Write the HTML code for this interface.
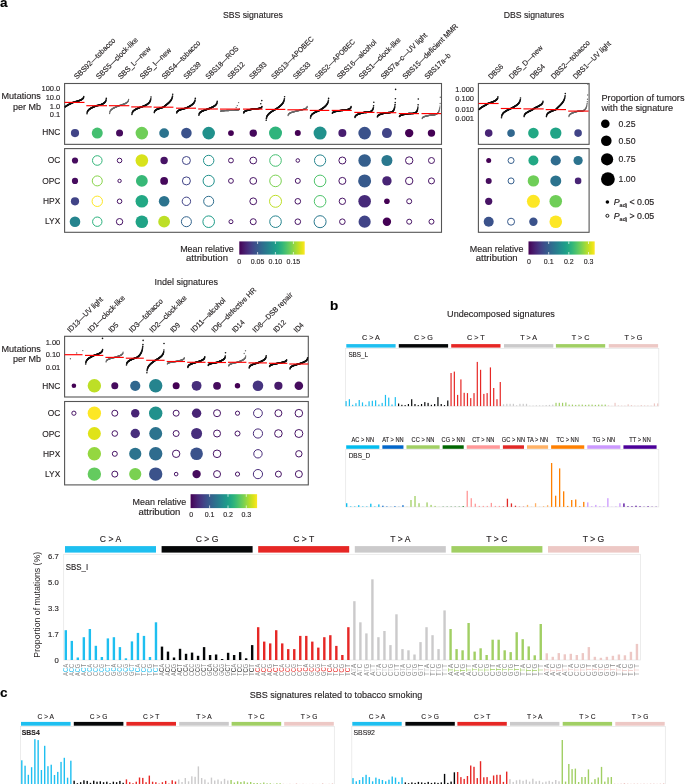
<!DOCTYPE html><html><head><meta charset="utf-8"><style>html,body{margin:0;padding:0;background:#fff;}svg{display:block;will-change:transform;font-family:"Liberation Sans",sans-serif;}</style></head><body><svg width="685" height="784" viewBox="0 0 685 784">
<rect width="685" height="784" fill="#fff"/>
<defs><linearGradient id="vg" x1="0" x2="1" y1="0" y2="0"><stop offset="0.00" stop-color="#440154"/><stop offset="0.05" stop-color="#471365"/><stop offset="0.10" stop-color="#482475"/><stop offset="0.15" stop-color="#463480"/><stop offset="0.20" stop-color="#414487"/><stop offset="0.25" stop-color="#3b528b"/><stop offset="0.30" stop-color="#355f8d"/><stop offset="0.35" stop-color="#2f6c8e"/><stop offset="0.40" stop-color="#2a788e"/><stop offset="0.45" stop-color="#25848e"/><stop offset="0.50" stop-color="#21918c"/><stop offset="0.55" stop-color="#1e9c89"/><stop offset="0.60" stop-color="#22a884"/><stop offset="0.65" stop-color="#2fb47c"/><stop offset="0.70" stop-color="#44bf70"/><stop offset="0.75" stop-color="#5ec962"/><stop offset="0.80" stop-color="#7ad151"/><stop offset="0.85" stop-color="#9bd93c"/><stop offset="0.90" stop-color="#bddf26"/><stop offset="0.95" stop-color="#dfe318"/><stop offset="1.00" stop-color="#fde725"/></linearGradient></defs>
<text x="0" y="6.8" font-size="13.5" text-anchor="start" fill="#000" stroke="#000" stroke-width="0.13" font-weight="bold" >a</text>
<text x="330" y="309.7" font-size="13.5" text-anchor="start" fill="#000" stroke="#000" stroke-width="0.13" font-weight="bold" >b</text>
<text x="0" y="696.9" font-size="13.5" text-anchor="start" fill="#000" stroke="#000" stroke-width="0.13" font-weight="bold" >c</text>
<text x="222.9" y="18.0" font-size="8.6" text-anchor="start" fill="#231f20" stroke="#231f20" stroke-width="0.13" textLength="60" lengthAdjust="spacingAndGlyphs" >SBS signatures</text>
<text x="503.7" y="18.0" font-size="8.6" text-anchor="start" fill="#231f20" stroke="#231f20" stroke-width="0.13" textLength="60.4" lengthAdjust="spacingAndGlyphs" >DBS signatures</text>
<text x="154.6" y="284.6" font-size="8.6" text-anchor="start" fill="#231f20" stroke="#231f20" stroke-width="0.13" textLength="63.5" lengthAdjust="spacingAndGlyphs" >Indel signatures</text>
<text x="447.1" y="317.1" font-size="8.6" text-anchor="start" fill="#231f20" stroke="#231f20" stroke-width="0.13" textLength="107.7" lengthAdjust="spacingAndGlyphs" >Undecomposed signatures</text>
<text x="249.7" y="697.5" font-size="8.6" text-anchor="start" fill="#231f20" stroke="#231f20" stroke-width="0.13" textLength="172.5" lengthAdjust="spacingAndGlyphs" >SBS signatures related to tobacco smoking</text>
<text transform="translate(77.1,79.6) rotate(-45)" font-size="7.5" fill="#231f20" stroke="#231f20" stroke-width="0.15" text-anchor="start" textLength="54.78" lengthAdjust="spacingAndGlyphs">SBS92—tobacco</text>
<text transform="translate(99.0,79.6) rotate(-45)" font-size="7.5" fill="#231f20" stroke="#231f20" stroke-width="0.15" text-anchor="start" textLength="55.6" lengthAdjust="spacingAndGlyphs">SBS5—clock-like</text>
<text transform="translate(120.9,79.6) rotate(-45)" font-size="7.5" fill="#231f20" stroke="#231f20" stroke-width="0.15" text-anchor="start" textLength="42.69" lengthAdjust="spacingAndGlyphs">SBS_L—new</text>
<text transform="translate(142.8,79.6) rotate(-45)" font-size="7.5" fill="#231f20" stroke="#231f20" stroke-width="0.15" text-anchor="start" textLength="40.81" lengthAdjust="spacingAndGlyphs">SBS_I—new</text>
<text transform="translate(164.7,79.6) rotate(-45)" font-size="7.5" fill="#231f20" stroke="#231f20" stroke-width="0.15" text-anchor="start" textLength="51.03" lengthAdjust="spacingAndGlyphs">SBS4—tobacco</text>
<text transform="translate(186.6,79.6) rotate(-45)" font-size="7.5" fill="#231f20" stroke="#231f20" stroke-width="0.15" text-anchor="start" textLength="21.02" lengthAdjust="spacingAndGlyphs">SBS39</text>
<text transform="translate(208.5,79.6) rotate(-45)" font-size="7.5" fill="#231f20" stroke="#231f20" stroke-width="0.15" text-anchor="start" textLength="43.14" lengthAdjust="spacingAndGlyphs">SBS18—ROS</text>
<text transform="translate(230.4,79.6) rotate(-45)" font-size="7.5" fill="#231f20" stroke="#231f20" stroke-width="0.15" text-anchor="start" textLength="21.02" lengthAdjust="spacingAndGlyphs">SBS12</text>
<text transform="translate(252.3,79.6) rotate(-45)" font-size="7.5" fill="#231f20" stroke="#231f20" stroke-width="0.15" text-anchor="start" textLength="21.02" lengthAdjust="spacingAndGlyphs">SBS93</text>
<text transform="translate(274.2,79.6) rotate(-45)" font-size="7.5" fill="#231f20" stroke="#231f20" stroke-width="0.15" text-anchor="start" textLength="56.65" lengthAdjust="spacingAndGlyphs">SBS13—APOBEC</text>
<text transform="translate(296.1,79.6) rotate(-45)" font-size="7.5" fill="#231f20" stroke="#231f20" stroke-width="0.15" text-anchor="start" textLength="21.02" lengthAdjust="spacingAndGlyphs">SBS33</text>
<text transform="translate(318.0,79.6) rotate(-45)" font-size="7.5" fill="#231f20" stroke="#231f20" stroke-width="0.15" text-anchor="start" textLength="52.9" lengthAdjust="spacingAndGlyphs">SBS2—APOBEC</text>
<text transform="translate(339.9,79.6) rotate(-45)" font-size="7.5" fill="#231f20" stroke="#231f20" stroke-width="0.15" text-anchor="start" textLength="52.28" lengthAdjust="spacingAndGlyphs">SBS16—alcohol</text>
<text transform="translate(361.8,79.6) rotate(-45)" font-size="7.5" fill="#231f20" stroke="#231f20" stroke-width="0.15" text-anchor="start" textLength="55.6" lengthAdjust="spacingAndGlyphs">SBS1—clock-like</text>
<text transform="translate(383.7,79.6) rotate(-45)" font-size="7.5" fill="#231f20" stroke="#231f20" stroke-width="0.15" text-anchor="start" textLength="62.07" lengthAdjust="spacingAndGlyphs">SBS7a–c—UV light</text>
<text transform="translate(405.6,79.6) rotate(-45)" font-size="7.5" fill="#231f20" stroke="#231f20" stroke-width="0.15" text-anchor="start" textLength="74.66" lengthAdjust="spacingAndGlyphs">SBS15—deficient MMR</text>
<text transform="translate(427.5,79.6) rotate(-45)" font-size="7.5" fill="#231f20" stroke="#231f20" stroke-width="0.15" text-anchor="start" textLength="33.53" lengthAdjust="spacingAndGlyphs">SBS17a–b</text>
<rect x="64.6" y="83.5" width="376.9" height="60.849999999999994" fill="none" stroke="#555" stroke-width="1.1"/>
<rect x="64.6" y="148.6" width="376.9" height="83.70000000000002" fill="none" stroke="#555" stroke-width="1.1"/>
<text x="60.3" y="91.3" font-size="7.5" text-anchor="end" fill="#231f20" stroke="#231f20" stroke-width="0.13" >100.0</text>
<text x="60.3" y="100.0" font-size="7.5" text-anchor="end" fill="#231f20" stroke="#231f20" stroke-width="0.13" >10.0</text>
<text x="60.3" y="109.19999999999999" font-size="7.5" text-anchor="end" fill="#231f20" stroke="#231f20" stroke-width="0.13" >1.0</text>
<text x="60.3" y="117.3" font-size="7.5" text-anchor="end" fill="#231f20" stroke="#231f20" stroke-width="0.13" >0.1</text>
<text x="40.9" y="99.4" font-size="8.4" text-anchor="end" fill="#231f20" stroke="#231f20" stroke-width="0.13" textLength="39.4" lengthAdjust="spacingAndGlyphs" >Mutations</text>
<text x="40.9" y="109.6" font-size="8.4" text-anchor="end" fill="#231f20" stroke="#231f20" stroke-width="0.13" textLength="28" lengthAdjust="spacingAndGlyphs" >per Mb</text>
<text x="60.3" y="135.2" font-size="8.4" text-anchor="end" fill="#231f20" stroke="#231f20" stroke-width="0.13" >HNC</text>
<text x="60.3" y="163.2" font-size="8.4" text-anchor="end" fill="#231f20" stroke="#231f20" stroke-width="0.13" >OC</text>
<text x="60.3" y="183.6" font-size="8.4" text-anchor="end" fill="#231f20" stroke="#231f20" stroke-width="0.13" >OPC</text>
<text x="60.3" y="204.0" font-size="8.4" text-anchor="end" fill="#231f20" stroke="#231f20" stroke-width="0.13" >HPX</text>
<text x="60.3" y="224.4" font-size="8.4" text-anchor="end" fill="#231f20" stroke="#231f20" stroke-width="0.13" >LYX</text>
<g fill="#111"><circle cx="65.21" cy="106.91" r="0.8"/><circle cx="65.42" cy="106.73" r="0.8"/><circle cx="65.63" cy="106.55" r="0.8"/><circle cx="65.85" cy="106.38" r="0.8"/><circle cx="66.06" cy="106.22" r="0.8"/><circle cx="66.27" cy="106.06" r="0.8"/><circle cx="66.49" cy="105.92" r="0.8"/><circle cx="66.70" cy="105.77" r="0.8"/><circle cx="66.92" cy="105.63" r="0.8"/><circle cx="67.13" cy="105.49" r="0.8"/><circle cx="67.34" cy="105.36" r="0.8"/><circle cx="67.56" cy="105.23" r="0.8"/><circle cx="67.77" cy="105.11" r="0.8"/><circle cx="67.98" cy="104.98" r="0.8"/><circle cx="68.20" cy="104.86" r="0.8"/><circle cx="68.41" cy="104.74" r="0.8"/><circle cx="68.62" cy="104.63" r="0.8"/><circle cx="68.84" cy="104.51" r="0.8"/><circle cx="69.05" cy="104.40" r="0.8"/><circle cx="69.27" cy="104.29" r="0.8"/><circle cx="69.48" cy="104.18" r="0.8"/><circle cx="69.69" cy="104.07" r="0.8"/><circle cx="69.91" cy="103.96" r="0.8"/><circle cx="70.12" cy="103.86" r="0.8"/><circle cx="70.33" cy="103.75" r="0.8"/><circle cx="70.55" cy="103.65" r="0.8"/><circle cx="70.76" cy="103.55" r="0.8"/><circle cx="70.97" cy="103.44" r="0.8"/><circle cx="71.19" cy="103.34" r="0.8"/><circle cx="71.40" cy="103.24" r="0.8"/><circle cx="71.62" cy="103.14" r="0.8"/><circle cx="71.83" cy="103.04" r="0.8"/><circle cx="72.04" cy="102.94" r="0.8"/><circle cx="72.26" cy="102.84" r="0.8"/><circle cx="72.47" cy="102.74" r="0.8"/><circle cx="72.68" cy="102.65" r="0.8"/><circle cx="72.90" cy="102.55" r="0.8"/><circle cx="73.11" cy="102.45" r="0.8"/><circle cx="73.32" cy="102.37" r="0.8"/><circle cx="73.54" cy="102.31" r="0.8"/><circle cx="73.75" cy="102.26" r="0.8"/><circle cx="73.97" cy="102.20" r="0.8"/><circle cx="74.18" cy="102.14" r="0.8"/><circle cx="74.39" cy="102.08" r="0.8"/><circle cx="74.61" cy="102.03" r="0.8"/><circle cx="74.82" cy="101.97" r="0.8"/><circle cx="75.03" cy="101.91" r="0.8"/><circle cx="75.25" cy="101.85" r="0.8"/><circle cx="75.46" cy="101.79" r="0.8"/><circle cx="75.67" cy="101.73" r="0.8"/><circle cx="75.89" cy="101.67" r="0.8"/><circle cx="76.10" cy="101.61" r="0.8"/><circle cx="76.32" cy="101.55" r="0.8"/><circle cx="76.53" cy="101.49" r="0.8"/><circle cx="76.74" cy="101.42" r="0.8"/><circle cx="76.96" cy="101.36" r="0.8"/><circle cx="77.17" cy="101.30" r="0.8"/><circle cx="77.38" cy="101.23" r="0.8"/><circle cx="77.60" cy="101.17" r="0.8"/><circle cx="77.81" cy="101.10" r="0.8"/><circle cx="78.02" cy="101.03" r="0.8"/><circle cx="78.24" cy="100.96" r="0.8"/><circle cx="78.45" cy="100.89" r="0.8"/><circle cx="78.67" cy="100.82" r="0.8"/><circle cx="78.88" cy="100.75" r="0.8"/><circle cx="79.09" cy="100.67" r="0.8"/><circle cx="79.31" cy="100.59" r="0.8"/><circle cx="79.52" cy="100.51" r="0.8"/><circle cx="79.73" cy="100.43" r="0.8"/><circle cx="79.95" cy="100.35" r="0.8"/><circle cx="80.16" cy="100.26" r="0.8"/><circle cx="80.38" cy="100.17" r="0.8"/><circle cx="80.59" cy="100.07" r="0.8"/><circle cx="80.80" cy="99.98" r="0.8"/><circle cx="81.02" cy="99.87" r="0.8"/><circle cx="81.23" cy="99.77" r="0.8"/><circle cx="81.44" cy="99.65" r="0.8"/><circle cx="81.66" cy="99.53" r="0.8"/><circle cx="81.87" cy="99.40" r="0.8"/><circle cx="82.08" cy="99.26" r="0.8"/><circle cx="82.30" cy="99.10" r="0.8"/><circle cx="82.51" cy="98.93" r="0.8"/><circle cx="82.72" cy="98.74" r="0.8"/><circle cx="82.94" cy="98.52" r="0.8"/><circle cx="83.15" cy="98.25" r="0.8"/><circle cx="83.37" cy="97.91" r="0.8"/><circle cx="83.58" cy="97.43" r="0.8"/><circle cx="83.79" cy="96.50" r="0.8"/></g>
<line x1="64.5" y1="102.4" x2="84.5" y2="102.4" stroke="#ff0000" stroke-width="1.15"/>
<g fill="#111"><circle cx="87.00" cy="113.80" r="0.8"/><circle cx="87.19" cy="112.52" r="0.8"/><circle cx="87.39" cy="111.86" r="0.8"/><circle cx="87.58" cy="111.40" r="0.8"/><circle cx="87.78" cy="111.03" r="0.8"/><circle cx="87.97" cy="110.73" r="0.8"/><circle cx="88.17" cy="110.46" r="0.8"/><circle cx="88.36" cy="110.23" r="0.8"/><circle cx="88.56" cy="110.02" r="0.8"/><circle cx="88.75" cy="109.82" r="0.8"/><circle cx="88.95" cy="109.64" r="0.8"/><circle cx="89.14" cy="109.47" r="0.8"/><circle cx="89.34" cy="109.32" r="0.8"/><circle cx="89.53" cy="109.17" r="0.8"/><circle cx="89.73" cy="109.03" r="0.8"/><circle cx="89.92" cy="108.89" r="0.8"/><circle cx="90.12" cy="108.76" r="0.8"/><circle cx="90.31" cy="108.64" r="0.8"/><circle cx="90.51" cy="108.52" r="0.8"/><circle cx="90.70" cy="108.40" r="0.8"/><circle cx="90.90" cy="108.29" r="0.8"/><circle cx="91.09" cy="108.18" r="0.8"/><circle cx="91.29" cy="108.08" r="0.8"/><circle cx="91.48" cy="107.97" r="0.8"/><circle cx="91.68" cy="107.87" r="0.8"/><circle cx="91.87" cy="107.77" r="0.8"/><circle cx="92.07" cy="107.67" r="0.8"/><circle cx="92.26" cy="107.58" r="0.8"/><circle cx="92.46" cy="107.49" r="0.8"/><circle cx="92.65" cy="107.39" r="0.8"/><circle cx="92.85" cy="107.30" r="0.8"/><circle cx="93.04" cy="107.21" r="0.8"/><circle cx="93.24" cy="107.13" r="0.8"/><circle cx="93.43" cy="107.04" r="0.8"/><circle cx="93.63" cy="106.95" r="0.8"/><circle cx="93.82" cy="106.87" r="0.8"/><circle cx="94.02" cy="106.79" r="0.8"/><circle cx="94.21" cy="106.70" r="0.8"/><circle cx="94.41" cy="106.62" r="0.8"/><circle cx="94.60" cy="106.54" r="0.8"/><circle cx="94.80" cy="106.46" r="0.8"/><circle cx="94.99" cy="106.38" r="0.8"/><circle cx="95.19" cy="106.29" r="0.8"/><circle cx="95.38" cy="106.21" r="0.8"/><circle cx="95.58" cy="106.13" r="0.8"/><circle cx="95.77" cy="106.06" r="0.8"/><circle cx="95.97" cy="105.98" r="0.8"/><circle cx="96.16" cy="105.90" r="0.8"/><circle cx="96.36" cy="105.82" r="0.8"/><circle cx="96.55" cy="105.74" r="0.8"/><circle cx="96.75" cy="105.69" r="0.8"/><circle cx="96.94" cy="105.67" r="0.8"/><circle cx="97.14" cy="105.64" r="0.8"/><circle cx="97.33" cy="105.61" r="0.8"/><circle cx="97.53" cy="105.57" r="0.8"/><circle cx="97.72" cy="105.54" r="0.8"/><circle cx="97.92" cy="105.50" r="0.8"/><circle cx="98.11" cy="105.46" r="0.8"/><circle cx="98.31" cy="105.41" r="0.8"/><circle cx="98.50" cy="105.37" r="0.8"/><circle cx="98.70" cy="105.32" r="0.8"/><circle cx="98.89" cy="105.27" r="0.8"/><circle cx="99.09" cy="105.22" r="0.8"/><circle cx="99.28" cy="105.16" r="0.8"/><circle cx="99.48" cy="105.11" r="0.8"/><circle cx="99.67" cy="105.05" r="0.8"/><circle cx="99.87" cy="105.00" r="0.8"/><circle cx="100.06" cy="104.94" r="0.8"/><circle cx="100.26" cy="104.87" r="0.8"/><circle cx="100.45" cy="104.81" r="0.8"/><circle cx="100.65" cy="104.74" r="0.8"/><circle cx="100.84" cy="104.68" r="0.8"/><circle cx="101.04" cy="104.61" r="0.8"/><circle cx="101.23" cy="104.53" r="0.8"/><circle cx="101.43" cy="104.46" r="0.8"/><circle cx="101.62" cy="104.38" r="0.8"/><circle cx="101.82" cy="104.30" r="0.8"/><circle cx="102.01" cy="104.22" r="0.8"/><circle cx="102.21" cy="104.13" r="0.8"/><circle cx="102.40" cy="104.04" r="0.8"/><circle cx="102.60" cy="103.95" r="0.8"/><circle cx="102.79" cy="103.85" r="0.8"/><circle cx="102.99" cy="103.75" r="0.8"/><circle cx="103.18" cy="103.64" r="0.8"/><circle cx="103.38" cy="103.52" r="0.8"/><circle cx="103.57" cy="103.40" r="0.8"/><circle cx="103.77" cy="103.28" r="0.8"/><circle cx="103.96" cy="103.14" r="0.8"/><circle cx="104.16" cy="102.99" r="0.8"/><circle cx="104.35" cy="102.84" r="0.8"/><circle cx="104.55" cy="102.67" r="0.8"/><circle cx="104.74" cy="102.48" r="0.8"/><circle cx="104.94" cy="102.27" r="0.8"/><circle cx="105.13" cy="102.04" r="0.8"/><circle cx="105.33" cy="101.77" r="0.8"/><circle cx="105.52" cy="101.46" r="0.8"/><circle cx="105.72" cy="101.08" r="0.8"/><circle cx="105.91" cy="100.58" r="0.8"/><circle cx="106.11" cy="99.86" r="0.8"/><circle cx="106.30" cy="98.40" r="0.8"/></g>
<line x1="86.3" y1="105.7" x2="107" y2="105.7" stroke="#ff0000" stroke-width="1.15"/>
<g fill="#6a6a6a"><circle cx="109.60" cy="113.50" r="0.68"/><circle cx="109.79" cy="112.27" r="0.68"/><circle cx="109.98" cy="111.64" r="0.68"/><circle cx="110.17" cy="111.19" r="0.68"/><circle cx="110.36" cy="110.83" r="0.68"/><circle cx="110.56" cy="110.54" r="0.68"/><circle cx="110.75" cy="110.28" r="0.68"/><circle cx="110.94" cy="110.06" r="0.68"/><circle cx="111.13" cy="109.86" r="0.68"/><circle cx="111.32" cy="109.67" r="0.68"/><circle cx="111.52" cy="109.50" r="0.68"/><circle cx="111.71" cy="109.33" r="0.68"/><circle cx="111.90" cy="109.18" r="0.68"/><circle cx="112.09" cy="109.04" r="0.68"/><circle cx="112.28" cy="108.90" r="0.68"/><circle cx="112.48" cy="108.77" r="0.68"/><circle cx="112.67" cy="108.65" r="0.68"/><circle cx="112.86" cy="108.53" r="0.68"/><circle cx="113.05" cy="108.41" r="0.68"/><circle cx="113.24" cy="108.30" r="0.68"/><circle cx="113.44" cy="108.19" r="0.68"/><circle cx="113.63" cy="108.09" r="0.68"/><circle cx="113.82" cy="107.99" r="0.68"/><circle cx="114.01" cy="107.89" r="0.68"/><circle cx="114.20" cy="107.79" r="0.68"/><circle cx="114.40" cy="107.70" r="0.68"/><circle cx="114.59" cy="107.60" r="0.68"/><circle cx="114.78" cy="107.51" r="0.68"/><circle cx="114.97" cy="107.42" r="0.68"/><circle cx="115.16" cy="107.33" r="0.68"/><circle cx="115.36" cy="107.24" r="0.68"/><circle cx="115.55" cy="107.16" r="0.68"/><circle cx="115.74" cy="107.07" r="0.68"/><circle cx="115.93" cy="106.99" r="0.68"/><circle cx="116.12" cy="106.91" r="0.68"/><circle cx="116.32" cy="106.83" r="0.68"/><circle cx="116.51" cy="106.75" r="0.68"/><circle cx="116.70" cy="106.66" r="0.68"/><circle cx="116.89" cy="106.59" r="0.68"/><circle cx="117.08" cy="106.51" r="0.68"/><circle cx="117.28" cy="106.43" r="0.68"/><circle cx="117.47" cy="106.35" r="0.68"/><circle cx="117.66" cy="106.27" r="0.68"/><circle cx="117.85" cy="106.20" r="0.68"/><circle cx="118.04" cy="106.12" r="0.68"/><circle cx="118.24" cy="106.04" r="0.68"/><circle cx="118.43" cy="105.97" r="0.68"/><circle cx="118.62" cy="105.89" r="0.68"/><circle cx="118.81" cy="105.81" r="0.68"/><circle cx="119.00" cy="105.74" r="0.68"/><circle cx="119.20" cy="105.67" r="0.68"/><circle cx="119.39" cy="105.61" r="0.68"/><circle cx="119.58" cy="105.55" r="0.68"/><circle cx="119.77" cy="105.49" r="0.68"/><circle cx="119.96" cy="105.43" r="0.68"/><circle cx="120.16" cy="105.37" r="0.68"/><circle cx="120.35" cy="105.31" r="0.68"/><circle cx="120.54" cy="105.24" r="0.68"/><circle cx="120.73" cy="105.18" r="0.68"/><circle cx="120.92" cy="105.12" r="0.68"/><circle cx="121.12" cy="105.06" r="0.68"/><circle cx="121.31" cy="105.00" r="0.68"/><circle cx="121.50" cy="104.93" r="0.68"/><circle cx="121.69" cy="104.87" r="0.68"/><circle cx="121.88" cy="104.80" r="0.68"/><circle cx="122.08" cy="104.74" r="0.68"/><circle cx="122.27" cy="104.67" r="0.68"/><circle cx="122.46" cy="104.61" r="0.68"/><circle cx="122.65" cy="104.54" r="0.68"/><circle cx="122.84" cy="104.47" r="0.68"/><circle cx="123.04" cy="104.40" r="0.68"/><circle cx="123.23" cy="104.33" r="0.68"/><circle cx="123.42" cy="104.26" r="0.68"/><circle cx="123.61" cy="104.19" r="0.68"/><circle cx="123.80" cy="104.11" r="0.68"/><circle cx="124.00" cy="104.04" r="0.68"/><circle cx="124.19" cy="103.96" r="0.68"/><circle cx="124.38" cy="103.88" r="0.68"/><circle cx="124.57" cy="103.80" r="0.68"/><circle cx="124.76" cy="103.72" r="0.68"/><circle cx="124.96" cy="103.63" r="0.68"/><circle cx="125.15" cy="103.54" r="0.68"/><circle cx="125.34" cy="103.45" r="0.68"/><circle cx="125.53" cy="103.36" r="0.68"/><circle cx="125.72" cy="103.26" r="0.68"/><circle cx="125.92" cy="103.15" r="0.68"/><circle cx="126.11" cy="103.04" r="0.68"/><circle cx="126.30" cy="102.93" r="0.68"/><circle cx="126.49" cy="102.81" r="0.68"/><circle cx="126.68" cy="102.68" r="0.68"/><circle cx="126.88" cy="102.55" r="0.68"/><circle cx="127.07" cy="102.40" r="0.68"/><circle cx="127.26" cy="102.24" r="0.68"/><circle cx="127.45" cy="102.06" r="0.68"/><circle cx="127.64" cy="101.85" r="0.68"/><circle cx="127.84" cy="101.62" r="0.68"/><circle cx="128.03" cy="101.34" r="0.68"/><circle cx="128.22" cy="100.98" r="0.68"/><circle cx="128.41" cy="100.48" r="0.68"/><circle cx="128.60" cy="99.50" r="0.68"/></g>
<line x1="108.9" y1="105.7" x2="129.3" y2="105.7" stroke="#ff0000" stroke-width="1.15"/>
<g fill="#111"><circle cx="131.90" cy="114.50" r="0.8"/><circle cx="132.09" cy="113.30" r="0.8"/><circle cx="132.28" cy="112.68" r="0.8"/><circle cx="132.48" cy="112.25" r="0.8"/><circle cx="132.67" cy="111.90" r="0.8"/><circle cx="132.86" cy="111.62" r="0.8"/><circle cx="133.05" cy="111.37" r="0.8"/><circle cx="133.25" cy="111.15" r="0.8"/><circle cx="133.44" cy="110.95" r="0.8"/><circle cx="133.63" cy="110.77" r="0.8"/><circle cx="133.83" cy="110.60" r="0.8"/><circle cx="134.02" cy="110.44" r="0.8"/><circle cx="134.21" cy="110.29" r="0.8"/><circle cx="134.41" cy="110.15" r="0.8"/><circle cx="134.60" cy="110.02" r="0.8"/><circle cx="134.79" cy="109.90" r="0.8"/><circle cx="134.98" cy="109.77" r="0.8"/><circle cx="135.18" cy="109.66" r="0.8"/><circle cx="135.37" cy="109.55" r="0.8"/><circle cx="135.56" cy="109.44" r="0.8"/><circle cx="135.76" cy="109.33" r="0.8"/><circle cx="135.95" cy="109.23" r="0.8"/><circle cx="136.14" cy="109.13" r="0.8"/><circle cx="136.34" cy="109.03" r="0.8"/><circle cx="136.53" cy="108.94" r="0.8"/><circle cx="136.72" cy="108.84" r="0.8"/><circle cx="136.91" cy="108.75" r="0.8"/><circle cx="137.11" cy="108.66" r="0.8"/><circle cx="137.30" cy="108.58" r="0.8"/><circle cx="137.49" cy="108.49" r="0.8"/><circle cx="137.69" cy="108.40" r="0.8"/><circle cx="137.88" cy="108.32" r="0.8"/><circle cx="138.07" cy="108.24" r="0.8"/><circle cx="138.27" cy="108.16" r="0.8"/><circle cx="138.46" cy="108.08" r="0.8"/><circle cx="138.65" cy="108.00" r="0.8"/><circle cx="138.84" cy="107.92" r="0.8"/><circle cx="139.04" cy="107.84" r="0.8"/><circle cx="139.23" cy="107.76" r="0.8"/><circle cx="139.42" cy="107.69" r="0.8"/><circle cx="139.62" cy="107.61" r="0.8"/><circle cx="139.81" cy="107.53" r="0.8"/><circle cx="140.00" cy="107.46" r="0.8"/><circle cx="140.20" cy="107.38" r="0.8"/><circle cx="140.39" cy="107.31" r="0.8"/><circle cx="140.58" cy="107.23" r="0.8"/><circle cx="140.77" cy="107.16" r="0.8"/><circle cx="140.97" cy="107.09" r="0.8"/><circle cx="141.16" cy="107.01" r="0.8"/><circle cx="141.35" cy="106.94" r="0.8"/><circle cx="141.55" cy="106.88" r="0.8"/><circle cx="141.74" cy="106.84" r="0.8"/><circle cx="141.93" cy="106.79" r="0.8"/><circle cx="142.13" cy="106.73" r="0.8"/><circle cx="142.32" cy="106.67" r="0.8"/><circle cx="142.51" cy="106.60" r="0.8"/><circle cx="142.70" cy="106.54" r="0.8"/><circle cx="142.90" cy="106.47" r="0.8"/><circle cx="143.09" cy="106.40" r="0.8"/><circle cx="143.28" cy="106.32" r="0.8"/><circle cx="143.48" cy="106.25" r="0.8"/><circle cx="143.67" cy="106.17" r="0.8"/><circle cx="143.86" cy="106.09" r="0.8"/><circle cx="144.06" cy="106.01" r="0.8"/><circle cx="144.25" cy="105.93" r="0.8"/><circle cx="144.44" cy="105.84" r="0.8"/><circle cx="144.63" cy="105.76" r="0.8"/><circle cx="144.83" cy="105.67" r="0.8"/><circle cx="145.02" cy="105.58" r="0.8"/><circle cx="145.21" cy="105.48" r="0.8"/><circle cx="145.41" cy="105.39" r="0.8"/><circle cx="145.60" cy="105.29" r="0.8"/><circle cx="145.79" cy="105.18" r="0.8"/><circle cx="145.99" cy="105.08" r="0.8"/><circle cx="146.18" cy="104.97" r="0.8"/><circle cx="146.37" cy="104.86" r="0.8"/><circle cx="146.56" cy="104.75" r="0.8"/><circle cx="146.76" cy="104.63" r="0.8"/><circle cx="146.95" cy="104.51" r="0.8"/><circle cx="147.14" cy="104.38" r="0.8"/><circle cx="147.34" cy="104.25" r="0.8"/><circle cx="147.53" cy="104.11" r="0.8"/><circle cx="147.72" cy="103.97" r="0.8"/><circle cx="147.92" cy="103.82" r="0.8"/><circle cx="148.11" cy="103.66" r="0.8"/><circle cx="148.30" cy="103.50" r="0.8"/><circle cx="148.49" cy="103.32" r="0.8"/><circle cx="148.69" cy="103.14" r="0.8"/><circle cx="148.88" cy="102.94" r="0.8"/><circle cx="149.07" cy="102.73" r="0.8"/><circle cx="149.27" cy="102.50" r="0.8"/><circle cx="149.46" cy="102.25" r="0.8"/><circle cx="149.65" cy="101.98" r="0.8"/><circle cx="149.85" cy="101.67" r="0.8"/><circle cx="150.04" cy="101.32" r="0.8"/><circle cx="150.23" cy="100.91" r="0.8"/><circle cx="150.42" cy="100.41" r="0.8"/><circle cx="150.62" cy="99.77" r="0.8"/><circle cx="150.81" cy="98.84" r="0.8"/><circle cx="151.00" cy="97.00" r="0.8"/></g>
<line x1="131.2" y1="106.9" x2="151.7" y2="106.9" stroke="#ff0000" stroke-width="1.15"/>
<g fill="#111"><circle cx="154.29" cy="112.60" r="0.8"/><circle cx="154.48" cy="111.75" r="0.8"/><circle cx="154.66" cy="111.31" r="0.8"/><circle cx="154.85" cy="111.00" r="0.8"/><circle cx="155.04" cy="110.75" r="0.8"/><circle cx="155.22" cy="110.55" r="0.8"/><circle cx="155.41" cy="110.37" r="0.8"/><circle cx="155.59" cy="110.22" r="0.8"/><circle cx="155.78" cy="110.08" r="0.8"/><circle cx="155.97" cy="109.95" r="0.8"/><circle cx="156.15" cy="109.83" r="0.8"/><circle cx="156.34" cy="109.72" r="0.8"/><circle cx="156.52" cy="109.61" r="0.8"/><circle cx="156.71" cy="109.51" r="0.8"/><circle cx="156.90" cy="109.42" r="0.8"/><circle cx="157.08" cy="109.33" r="0.8"/><circle cx="157.27" cy="109.24" r="0.8"/><circle cx="157.45" cy="109.16" r="0.8"/><circle cx="157.64" cy="109.08" r="0.8"/><circle cx="157.83" cy="109.00" r="0.8"/><circle cx="158.01" cy="108.93" r="0.8"/><circle cx="158.20" cy="108.85" r="0.8"/><circle cx="158.38" cy="108.78" r="0.8"/><circle cx="158.57" cy="108.71" r="0.8"/><circle cx="158.76" cy="108.65" r="0.8"/><circle cx="158.94" cy="108.58" r="0.8"/><circle cx="159.13" cy="108.52" r="0.8"/><circle cx="159.31" cy="108.45" r="0.8"/><circle cx="159.50" cy="108.39" r="0.8"/><circle cx="159.69" cy="108.33" r="0.8"/><circle cx="159.87" cy="108.27" r="0.8"/><circle cx="160.06" cy="108.21" r="0.8"/><circle cx="160.25" cy="108.15" r="0.8"/><circle cx="160.43" cy="108.09" r="0.8"/><circle cx="160.62" cy="108.04" r="0.8"/><circle cx="160.80" cy="107.98" r="0.8"/><circle cx="160.99" cy="107.92" r="0.8"/><circle cx="161.17" cy="107.87" r="0.8"/><circle cx="161.36" cy="107.81" r="0.8"/><circle cx="161.55" cy="107.76" r="0.8"/><circle cx="161.73" cy="107.70" r="0.8"/><circle cx="161.92" cy="107.65" r="0.8"/><circle cx="162.10" cy="107.60" r="0.8"/><circle cx="162.29" cy="107.54" r="0.8"/><circle cx="162.48" cy="107.49" r="0.8"/><circle cx="162.66" cy="107.44" r="0.8"/><circle cx="162.85" cy="107.38" r="0.8"/><circle cx="163.03" cy="107.33" r="0.8"/><circle cx="163.22" cy="107.28" r="0.8"/><circle cx="163.41" cy="107.23" r="0.8"/><circle cx="163.59" cy="107.09" r="0.8"/><circle cx="163.78" cy="106.91" r="0.8"/><circle cx="163.97" cy="106.74" r="0.8"/><circle cx="164.15" cy="106.58" r="0.8"/><circle cx="164.34" cy="106.43" r="0.8"/><circle cx="164.52" cy="106.27" r="0.8"/><circle cx="164.71" cy="106.12" r="0.8"/><circle cx="164.89" cy="105.97" r="0.8"/><circle cx="165.08" cy="105.82" r="0.8"/><circle cx="165.27" cy="105.67" r="0.8"/><circle cx="165.45" cy="105.53" r="0.8"/><circle cx="165.64" cy="105.38" r="0.8"/><circle cx="165.82" cy="105.23" r="0.8"/><circle cx="166.01" cy="105.09" r="0.8"/><circle cx="166.20" cy="104.94" r="0.8"/><circle cx="166.38" cy="104.79" r="0.8"/><circle cx="166.57" cy="104.65" r="0.8"/><circle cx="166.75" cy="104.50" r="0.8"/><circle cx="166.94" cy="104.35" r="0.8"/><circle cx="167.13" cy="104.20" r="0.8"/><circle cx="167.31" cy="104.04" r="0.8"/><circle cx="167.50" cy="103.89" r="0.8"/><circle cx="167.69" cy="103.74" r="0.8"/><circle cx="167.87" cy="103.58" r="0.8"/><circle cx="168.06" cy="103.42" r="0.8"/><circle cx="168.24" cy="103.26" r="0.8"/><circle cx="168.43" cy="103.09" r="0.8"/><circle cx="168.62" cy="102.92" r="0.8"/><circle cx="168.80" cy="102.75" r="0.8"/><circle cx="168.99" cy="102.58" r="0.8"/><circle cx="169.17" cy="102.40" r="0.8"/><circle cx="169.36" cy="102.21" r="0.8"/><circle cx="169.54" cy="102.02" r="0.8"/><circle cx="169.73" cy="101.82" r="0.8"/><circle cx="169.92" cy="101.62" r="0.8"/><circle cx="170.10" cy="101.41" r="0.8"/><circle cx="170.29" cy="101.19" r="0.8"/><circle cx="170.47" cy="100.96" r="0.8"/><circle cx="170.66" cy="100.71" r="0.8"/><circle cx="170.85" cy="100.45" r="0.8"/><circle cx="171.03" cy="100.18" r="0.8"/><circle cx="171.22" cy="99.88" r="0.8"/><circle cx="171.41" cy="99.56" r="0.8"/><circle cx="171.59" cy="99.20" r="0.8"/><circle cx="171.78" cy="98.80" r="0.8"/><circle cx="171.96" cy="98.35" r="0.8"/><circle cx="172.15" cy="97.80" r="0.8"/><circle cx="172.34" cy="97.11" r="0.8"/><circle cx="172.52" cy="96.14" r="0.8"/><circle cx="172.71" cy="94.30" r="0.8"/></g>
<line x1="153.6" y1="107.2" x2="173.4" y2="107.2" stroke="#ff0000" stroke-width="1.15"/>
<g fill="#111"><circle cx="176.69" cy="113.00" r="0.8"/><circle cx="176.88" cy="112.24" r="0.8"/><circle cx="177.07" cy="111.85" r="0.8"/><circle cx="177.26" cy="111.58" r="0.8"/><circle cx="177.45" cy="111.36" r="0.8"/><circle cx="177.63" cy="111.18" r="0.8"/><circle cx="177.82" cy="111.02" r="0.8"/><circle cx="178.01" cy="110.88" r="0.8"/><circle cx="178.20" cy="110.76" r="0.8"/><circle cx="178.39" cy="110.64" r="0.8"/><circle cx="178.57" cy="110.54" r="0.8"/><circle cx="178.76" cy="110.44" r="0.8"/><circle cx="178.95" cy="110.34" r="0.8"/><circle cx="179.14" cy="110.26" r="0.8"/><circle cx="179.33" cy="110.17" r="0.8"/><circle cx="179.51" cy="110.09" r="0.8"/><circle cx="179.70" cy="110.02" r="0.8"/><circle cx="179.89" cy="109.94" r="0.8"/><circle cx="180.08" cy="109.87" r="0.8"/><circle cx="180.27" cy="109.80" r="0.8"/><circle cx="180.45" cy="109.74" r="0.8"/><circle cx="180.64" cy="109.67" r="0.8"/><circle cx="180.83" cy="109.61" r="0.8"/><circle cx="181.02" cy="109.55" r="0.8"/><circle cx="181.21" cy="109.49" r="0.8"/><circle cx="181.39" cy="109.43" r="0.8"/><circle cx="181.58" cy="109.37" r="0.8"/><circle cx="181.77" cy="109.31" r="0.8"/><circle cx="181.96" cy="109.26" r="0.8"/><circle cx="182.15" cy="109.20" r="0.8"/><circle cx="182.33" cy="109.15" r="0.8"/><circle cx="182.52" cy="109.10" r="0.8"/><circle cx="182.71" cy="109.05" r="0.8"/><circle cx="182.90" cy="108.99" r="0.8"/><circle cx="183.09" cy="108.94" r="0.8"/><circle cx="183.27" cy="108.89" r="0.8"/><circle cx="183.46" cy="108.84" r="0.8"/><circle cx="183.65" cy="108.79" r="0.8"/><circle cx="183.84" cy="108.74" r="0.8"/><circle cx="184.03" cy="108.70" r="0.8"/><circle cx="184.21" cy="108.65" r="0.8"/><circle cx="184.40" cy="108.60" r="0.8"/><circle cx="184.59" cy="108.55" r="0.8"/><circle cx="184.78" cy="108.50" r="0.8"/><circle cx="184.97" cy="108.46" r="0.8"/><circle cx="185.15" cy="108.41" r="0.8"/><circle cx="185.34" cy="108.36" r="0.8"/><circle cx="185.53" cy="108.32" r="0.8"/><circle cx="185.72" cy="108.27" r="0.8"/><circle cx="185.91" cy="108.22" r="0.8"/><circle cx="186.09" cy="108.15" r="0.8"/><circle cx="186.28" cy="108.06" r="0.8"/><circle cx="186.47" cy="107.96" r="0.8"/><circle cx="186.66" cy="107.87" r="0.8"/><circle cx="186.85" cy="107.77" r="0.8"/><circle cx="187.03" cy="107.67" r="0.8"/><circle cx="187.22" cy="107.58" r="0.8"/><circle cx="187.41" cy="107.48" r="0.8"/><circle cx="187.60" cy="107.38" r="0.8"/><circle cx="187.79" cy="107.29" r="0.8"/><circle cx="187.97" cy="107.19" r="0.8"/><circle cx="188.16" cy="107.09" r="0.8"/><circle cx="188.35" cy="106.99" r="0.8"/><circle cx="188.54" cy="106.89" r="0.8"/><circle cx="188.73" cy="106.79" r="0.8"/><circle cx="188.91" cy="106.68" r="0.8"/><circle cx="189.10" cy="106.58" r="0.8"/><circle cx="189.29" cy="106.47" r="0.8"/><circle cx="189.48" cy="106.37" r="0.8"/><circle cx="189.67" cy="106.26" r="0.8"/><circle cx="189.85" cy="106.15" r="0.8"/><circle cx="190.04" cy="106.04" r="0.8"/><circle cx="190.23" cy="105.93" r="0.8"/><circle cx="190.42" cy="105.81" r="0.8"/><circle cx="190.61" cy="105.69" r="0.8"/><circle cx="190.79" cy="105.57" r="0.8"/><circle cx="190.98" cy="105.45" r="0.8"/><circle cx="191.17" cy="105.33" r="0.8"/><circle cx="191.36" cy="105.20" r="0.8"/><circle cx="191.55" cy="105.07" r="0.8"/><circle cx="191.73" cy="104.93" r="0.8"/><circle cx="191.92" cy="104.79" r="0.8"/><circle cx="192.11" cy="104.64" r="0.8"/><circle cx="192.30" cy="104.49" r="0.8"/><circle cx="192.49" cy="104.34" r="0.8"/><circle cx="192.67" cy="104.17" r="0.8"/><circle cx="192.86" cy="104.00" r="0.8"/><circle cx="193.05" cy="103.82" r="0.8"/><circle cx="193.24" cy="103.63" r="0.8"/><circle cx="193.43" cy="103.43" r="0.8"/><circle cx="193.61" cy="103.21" r="0.8"/><circle cx="193.80" cy="102.98" r="0.8"/><circle cx="193.99" cy="102.72" r="0.8"/><circle cx="194.18" cy="102.44" r="0.8"/><circle cx="194.37" cy="102.12" r="0.8"/><circle cx="194.55" cy="101.75" r="0.8"/><circle cx="194.74" cy="101.31" r="0.8"/><circle cx="194.93" cy="100.74" r="0.8"/><circle cx="195.12" cy="99.94" r="0.8"/><circle cx="195.31" cy="98.40" r="0.8"/></g>
<line x1="176" y1="108.2" x2="196" y2="108.2" stroke="#ff0000" stroke-width="1.15"/>
<g fill="#111"><circle cx="198.89" cy="115.20" r="0.8"/><circle cx="199.08" cy="114.22" r="0.8"/><circle cx="199.26" cy="113.72" r="0.8"/><circle cx="199.45" cy="113.36" r="0.8"/><circle cx="199.63" cy="113.08" r="0.8"/><circle cx="199.82" cy="112.85" r="0.8"/><circle cx="200.00" cy="112.64" r="0.8"/><circle cx="200.19" cy="112.46" r="0.8"/><circle cx="200.37" cy="112.30" r="0.8"/><circle cx="200.56" cy="112.15" r="0.8"/><circle cx="200.74" cy="112.02" r="0.8"/><circle cx="200.93" cy="111.89" r="0.8"/><circle cx="201.11" cy="111.77" r="0.8"/><circle cx="201.30" cy="111.66" r="0.8"/><circle cx="201.48" cy="111.55" r="0.8"/><circle cx="201.67" cy="111.44" r="0.8"/><circle cx="201.85" cy="111.34" r="0.8"/><circle cx="202.04" cy="111.25" r="0.8"/><circle cx="202.22" cy="111.16" r="0.8"/><circle cx="202.41" cy="111.07" r="0.8"/><circle cx="202.59" cy="110.98" r="0.8"/><circle cx="202.78" cy="110.90" r="0.8"/><circle cx="202.96" cy="110.82" r="0.8"/><circle cx="203.15" cy="110.74" r="0.8"/><circle cx="203.33" cy="110.66" r="0.8"/><circle cx="203.52" cy="110.59" r="0.8"/><circle cx="203.70" cy="110.51" r="0.8"/><circle cx="203.89" cy="110.44" r="0.8"/><circle cx="204.07" cy="110.37" r="0.8"/><circle cx="204.26" cy="110.30" r="0.8"/><circle cx="204.44" cy="110.23" r="0.8"/><circle cx="204.63" cy="110.16" r="0.8"/><circle cx="204.81" cy="110.09" r="0.8"/><circle cx="205.00" cy="110.03" r="0.8"/><circle cx="205.18" cy="109.96" r="0.8"/><circle cx="205.37" cy="109.90" r="0.8"/><circle cx="205.55" cy="109.83" r="0.8"/><circle cx="205.74" cy="109.77" r="0.8"/><circle cx="205.92" cy="109.70" r="0.8"/><circle cx="206.11" cy="109.64" r="0.8"/><circle cx="206.29" cy="109.58" r="0.8"/><circle cx="206.48" cy="109.52" r="0.8"/><circle cx="206.66" cy="109.46" r="0.8"/><circle cx="206.85" cy="109.39" r="0.8"/><circle cx="207.03" cy="109.33" r="0.8"/><circle cx="207.22" cy="109.27" r="0.8"/><circle cx="207.40" cy="109.21" r="0.8"/><circle cx="207.59" cy="109.15" r="0.8"/><circle cx="207.77" cy="109.09" r="0.8"/><circle cx="207.96" cy="109.03" r="0.8"/><circle cx="208.14" cy="108.96" r="0.8"/><circle cx="208.33" cy="108.89" r="0.8"/><circle cx="208.51" cy="108.81" r="0.8"/><circle cx="208.70" cy="108.74" r="0.8"/><circle cx="208.88" cy="108.67" r="0.8"/><circle cx="209.07" cy="108.59" r="0.8"/><circle cx="209.25" cy="108.52" r="0.8"/><circle cx="209.44" cy="108.44" r="0.8"/><circle cx="209.62" cy="108.37" r="0.8"/><circle cx="209.81" cy="108.29" r="0.8"/><circle cx="209.99" cy="108.21" r="0.8"/><circle cx="210.18" cy="108.14" r="0.8"/><circle cx="210.36" cy="108.06" r="0.8"/><circle cx="210.55" cy="107.98" r="0.8"/><circle cx="210.73" cy="107.90" r="0.8"/><circle cx="210.92" cy="107.82" r="0.8"/><circle cx="211.10" cy="107.74" r="0.8"/><circle cx="211.29" cy="107.66" r="0.8"/><circle cx="211.47" cy="107.58" r="0.8"/><circle cx="211.66" cy="107.50" r="0.8"/><circle cx="211.84" cy="107.41" r="0.8"/><circle cx="212.03" cy="107.32" r="0.8"/><circle cx="212.21" cy="107.24" r="0.8"/><circle cx="212.40" cy="107.15" r="0.8"/><circle cx="212.58" cy="107.06" r="0.8"/><circle cx="212.77" cy="106.96" r="0.8"/><circle cx="212.95" cy="106.87" r="0.8"/><circle cx="213.14" cy="106.77" r="0.8"/><circle cx="213.32" cy="106.67" r="0.8"/><circle cx="213.51" cy="106.57" r="0.8"/><circle cx="213.69" cy="106.46" r="0.8"/><circle cx="213.88" cy="106.35" r="0.8"/><circle cx="214.06" cy="106.24" r="0.8"/><circle cx="214.25" cy="106.13" r="0.8"/><circle cx="214.43" cy="106.00" r="0.8"/><circle cx="214.62" cy="105.88" r="0.8"/><circle cx="214.80" cy="105.75" r="0.8"/><circle cx="214.99" cy="105.61" r="0.8"/><circle cx="215.17" cy="105.46" r="0.8"/><circle cx="215.36" cy="105.30" r="0.8"/><circle cx="215.54" cy="105.13" r="0.8"/><circle cx="215.73" cy="104.95" r="0.8"/><circle cx="215.91" cy="104.75" r="0.8"/><circle cx="216.10" cy="104.53" r="0.8"/><circle cx="216.28" cy="104.28" r="0.8"/><circle cx="216.47" cy="104.00" r="0.8"/><circle cx="216.65" cy="103.65" r="0.8"/><circle cx="216.84" cy="103.22" r="0.8"/><circle cx="217.02" cy="102.60" r="0.8"/><circle cx="217.21" cy="101.40" r="0.8"/></g>
<line x1="198.2" y1="109" x2="217.9" y2="109" stroke="#ff0000" stroke-width="1.15"/>
<g fill="#6a6a6a"><circle cx="220.69" cy="111.20" r="0.68"/><circle cx="220.88" cy="111.07" r="0.68"/><circle cx="221.07" cy="111.01" r="0.68"/><circle cx="221.26" cy="110.96" r="0.68"/><circle cx="221.45" cy="110.93" r="0.68"/><circle cx="221.63" cy="110.90" r="0.68"/><circle cx="221.82" cy="110.87" r="0.68"/><circle cx="222.01" cy="110.85" r="0.68"/><circle cx="222.20" cy="110.83" r="0.68"/><circle cx="222.39" cy="110.81" r="0.68"/><circle cx="222.57" cy="110.79" r="0.68"/><circle cx="222.76" cy="110.77" r="0.68"/><circle cx="222.95" cy="110.76" r="0.68"/><circle cx="223.14" cy="110.74" r="0.68"/><circle cx="223.33" cy="110.73" r="0.68"/><circle cx="223.51" cy="110.72" r="0.68"/><circle cx="223.70" cy="110.70" r="0.68"/><circle cx="223.89" cy="110.69" r="0.68"/><circle cx="224.08" cy="110.68" r="0.68"/><circle cx="224.27" cy="110.67" r="0.68"/><circle cx="224.45" cy="110.66" r="0.68"/><circle cx="224.64" cy="110.65" r="0.68"/><circle cx="224.83" cy="110.63" r="0.68"/><circle cx="225.02" cy="110.62" r="0.68"/><circle cx="225.21" cy="110.61" r="0.68"/><circle cx="225.39" cy="110.60" r="0.68"/><circle cx="225.58" cy="110.60" r="0.68"/><circle cx="225.77" cy="110.59" r="0.68"/><circle cx="225.96" cy="110.58" r="0.68"/><circle cx="226.15" cy="110.57" r="0.68"/><circle cx="226.33" cy="110.56" r="0.68"/><circle cx="226.52" cy="110.55" r="0.68"/><circle cx="226.71" cy="110.54" r="0.68"/><circle cx="226.90" cy="110.53" r="0.68"/><circle cx="227.09" cy="110.52" r="0.68"/><circle cx="227.27" cy="110.52" r="0.68"/><circle cx="227.46" cy="110.51" r="0.68"/><circle cx="227.65" cy="110.50" r="0.68"/><circle cx="227.84" cy="110.49" r="0.68"/><circle cx="228.03" cy="110.48" r="0.68"/><circle cx="228.21" cy="110.47" r="0.68"/><circle cx="228.40" cy="110.47" r="0.68"/><circle cx="228.59" cy="110.46" r="0.68"/><circle cx="228.78" cy="110.45" r="0.68"/><circle cx="228.97" cy="110.44" r="0.68"/><circle cx="229.15" cy="110.44" r="0.68"/><circle cx="229.34" cy="110.43" r="0.68"/><circle cx="229.53" cy="110.42" r="0.68"/><circle cx="229.72" cy="110.41" r="0.68"/><circle cx="229.91" cy="110.40" r="0.68"/><circle cx="230.09" cy="110.40" r="0.68"/><circle cx="230.28" cy="110.40" r="0.68"/><circle cx="230.47" cy="110.40" r="0.68"/><circle cx="230.66" cy="110.40" r="0.68"/><circle cx="230.85" cy="110.40" r="0.68"/><circle cx="231.03" cy="110.40" r="0.68"/><circle cx="231.22" cy="110.39" r="0.68"/><circle cx="231.41" cy="110.39" r="0.68"/><circle cx="231.60" cy="110.39" r="0.68"/><circle cx="231.79" cy="110.39" r="0.68"/><circle cx="231.97" cy="110.39" r="0.68"/><circle cx="232.16" cy="110.38" r="0.68"/><circle cx="232.35" cy="110.38" r="0.68"/><circle cx="232.54" cy="110.37" r="0.68"/><circle cx="232.73" cy="110.37" r="0.68"/><circle cx="232.91" cy="110.37" r="0.68"/><circle cx="233.10" cy="110.36" r="0.68"/><circle cx="233.29" cy="110.36" r="0.68"/><circle cx="233.48" cy="110.35" r="0.68"/><circle cx="233.67" cy="110.35" r="0.68"/><circle cx="233.85" cy="110.34" r="0.68"/><circle cx="234.04" cy="110.33" r="0.68"/><circle cx="234.23" cy="110.32" r="0.68"/><circle cx="234.42" cy="110.32" r="0.68"/><circle cx="234.61" cy="110.31" r="0.68"/><circle cx="234.79" cy="110.30" r="0.68"/><circle cx="234.98" cy="110.29" r="0.68"/><circle cx="235.17" cy="110.28" r="0.68"/><circle cx="235.36" cy="110.27" r="0.68"/><circle cx="235.55" cy="110.26" r="0.68"/><circle cx="235.73" cy="110.24" r="0.68"/><circle cx="235.92" cy="110.23" r="0.68"/><circle cx="236.11" cy="110.22" r="0.68"/><circle cx="236.30" cy="110.20" r="0.68"/><circle cx="236.49" cy="110.18" r="0.68"/><circle cx="236.67" cy="110.16" r="0.68"/><circle cx="236.86" cy="110.14" r="0.68"/><circle cx="237.05" cy="110.12" r="0.68"/><circle cx="237.24" cy="110.10" r="0.68"/><circle cx="237.43" cy="110.07" r="0.68"/><circle cx="237.61" cy="110.04" r="0.68"/><circle cx="237.80" cy="110.00" r="0.68"/><circle cx="237.99" cy="109.96" r="0.68"/><circle cx="238.18" cy="109.92" r="0.68"/><circle cx="238.37" cy="109.86" r="0.68"/><circle cx="238.55" cy="109.79" r="0.68"/><circle cx="238.74" cy="109.71" r="0.68"/><circle cx="238.93" cy="109.59" r="0.68"/><circle cx="239.12" cy="109.41" r="0.68"/><circle cx="239.31" cy="109.00" r="0.68"/><circle cx="236.20" cy="107.50" r="0.68"/><circle cx="237.30" cy="105.60" r="0.68"/><circle cx="238.60" cy="102.60" r="0.68"/></g>
<line x1="220" y1="109.1" x2="240" y2="109.1" stroke="#ff0000" stroke-width="1.15"/>
<g fill="#111"><circle cx="243.69" cy="113.00" r="0.8"/><circle cx="243.88" cy="112.39" r="0.8"/><circle cx="244.06" cy="112.07" r="0.8"/><circle cx="244.24" cy="111.84" r="0.8"/><circle cx="244.43" cy="111.67" r="0.8"/><circle cx="244.61" cy="111.52" r="0.8"/><circle cx="244.80" cy="111.39" r="0.8"/><circle cx="244.98" cy="111.28" r="0.8"/><circle cx="245.16" cy="111.18" r="0.8"/><circle cx="245.35" cy="111.08" r="0.8"/><circle cx="245.53" cy="111.00" r="0.8"/><circle cx="245.72" cy="110.92" r="0.8"/><circle cx="245.90" cy="110.84" r="0.8"/><circle cx="246.08" cy="110.77" r="0.8"/><circle cx="246.27" cy="110.70" r="0.8"/><circle cx="246.45" cy="110.64" r="0.8"/><circle cx="246.64" cy="110.57" r="0.8"/><circle cx="246.82" cy="110.52" r="0.8"/><circle cx="247.00" cy="110.46" r="0.8"/><circle cx="247.19" cy="110.40" r="0.8"/><circle cx="247.37" cy="110.35" r="0.8"/><circle cx="247.56" cy="110.29" r="0.8"/><circle cx="247.74" cy="110.24" r="0.8"/><circle cx="247.92" cy="110.19" r="0.8"/><circle cx="248.11" cy="110.15" r="0.8"/><circle cx="248.29" cy="110.10" r="0.8"/><circle cx="248.48" cy="110.05" r="0.8"/><circle cx="248.66" cy="110.01" r="0.8"/><circle cx="248.84" cy="109.96" r="0.8"/><circle cx="249.03" cy="109.92" r="0.8"/><circle cx="249.21" cy="109.87" r="0.8"/><circle cx="249.40" cy="109.83" r="0.8"/><circle cx="249.58" cy="109.79" r="0.8"/><circle cx="249.76" cy="109.75" r="0.8"/><circle cx="249.95" cy="109.70" r="0.8"/><circle cx="250.13" cy="109.66" r="0.8"/><circle cx="250.32" cy="109.62" r="0.8"/><circle cx="250.50" cy="109.58" r="0.8"/><circle cx="250.68" cy="109.54" r="0.8"/><circle cx="250.87" cy="109.50" r="0.8"/><circle cx="251.05" cy="109.46" r="0.8"/><circle cx="251.24" cy="109.43" r="0.8"/><circle cx="251.42" cy="109.39" r="0.8"/><circle cx="251.60" cy="109.35" r="0.8"/><circle cx="251.79" cy="109.31" r="0.8"/><circle cx="251.97" cy="109.27" r="0.8"/><circle cx="252.16" cy="109.23" r="0.8"/><circle cx="252.34" cy="109.19" r="0.8"/><circle cx="252.52" cy="109.16" r="0.8"/><circle cx="252.71" cy="109.12" r="0.8"/><circle cx="252.89" cy="109.10" r="0.8"/><circle cx="253.08" cy="109.10" r="0.8"/><circle cx="253.26" cy="109.09" r="0.8"/><circle cx="253.44" cy="109.08" r="0.8"/><circle cx="253.63" cy="109.08" r="0.8"/><circle cx="253.81" cy="109.07" r="0.8"/><circle cx="254.00" cy="109.06" r="0.8"/><circle cx="254.18" cy="109.05" r="0.8"/><circle cx="254.36" cy="109.04" r="0.8"/><circle cx="254.55" cy="109.03" r="0.8"/><circle cx="254.73" cy="109.01" r="0.8"/><circle cx="254.92" cy="109.00" r="0.8"/><circle cx="255.10" cy="108.99" r="0.8"/><circle cx="255.28" cy="108.97" r="0.8"/><circle cx="255.47" cy="108.96" r="0.8"/><circle cx="255.65" cy="108.94" r="0.8"/><circle cx="255.84" cy="108.93" r="0.8"/><circle cx="256.02" cy="108.91" r="0.8"/><circle cx="256.20" cy="108.89" r="0.8"/><circle cx="256.39" cy="108.87" r="0.8"/><circle cx="256.57" cy="108.85" r="0.8"/><circle cx="256.76" cy="108.83" r="0.8"/><circle cx="256.94" cy="108.81" r="0.8"/><circle cx="257.12" cy="108.79" r="0.8"/><circle cx="257.31" cy="108.76" r="0.8"/><circle cx="257.49" cy="108.74" r="0.8"/><circle cx="257.68" cy="108.71" r="0.8"/><circle cx="257.86" cy="108.69" r="0.8"/><circle cx="258.04" cy="108.66" r="0.8"/><circle cx="258.23" cy="108.63" r="0.8"/><circle cx="258.41" cy="108.60" r="0.8"/><circle cx="258.60" cy="108.57" r="0.8"/><circle cx="258.78" cy="108.53" r="0.8"/><circle cx="258.96" cy="108.50" r="0.8"/><circle cx="259.15" cy="108.46" r="0.8"/><circle cx="259.33" cy="108.42" r="0.8"/><circle cx="259.52" cy="108.37" r="0.8"/><circle cx="259.70" cy="108.32" r="0.8"/><circle cx="259.88" cy="108.27" r="0.8"/><circle cx="260.07" cy="108.22" r="0.8"/><circle cx="260.25" cy="108.16" r="0.8"/><circle cx="260.44" cy="108.09" r="0.8"/><circle cx="260.62" cy="108.01" r="0.8"/><circle cx="260.80" cy="107.93" r="0.8"/><circle cx="260.99" cy="107.83" r="0.8"/><circle cx="261.17" cy="107.71" r="0.8"/><circle cx="261.36" cy="107.57" r="0.8"/><circle cx="261.54" cy="107.37" r="0.8"/><circle cx="261.72" cy="107.09" r="0.8"/><circle cx="261.91" cy="106.50" r="0.8"/><circle cx="261.80" cy="100.60" r="0.8"/><circle cx="260.80" cy="103.80" r="0.8"/></g>
<line x1="243" y1="109.1" x2="262.6" y2="109.1" stroke="#ff0000" stroke-width="1.15"/>
<g fill="#111"><circle cx="266.19" cy="120.30" r="0.8"/><circle cx="266.38" cy="118.58" r="0.8"/><circle cx="266.56" cy="117.69" r="0.8"/><circle cx="266.75" cy="117.07" r="0.8"/><circle cx="266.94" cy="116.57" r="0.8"/><circle cx="267.12" cy="116.16" r="0.8"/><circle cx="267.31" cy="115.81" r="0.8"/><circle cx="267.50" cy="115.49" r="0.8"/><circle cx="267.68" cy="115.21" r="0.8"/><circle cx="267.87" cy="114.95" r="0.8"/><circle cx="268.05" cy="114.70" r="0.8"/><circle cx="268.24" cy="114.48" r="0.8"/><circle cx="268.43" cy="114.27" r="0.8"/><circle cx="268.61" cy="114.07" r="0.8"/><circle cx="268.80" cy="113.88" r="0.8"/><circle cx="268.98" cy="113.70" r="0.8"/><circle cx="269.17" cy="113.52" r="0.8"/><circle cx="269.36" cy="113.35" r="0.8"/><circle cx="269.54" cy="113.19" r="0.8"/><circle cx="269.73" cy="113.04" r="0.8"/><circle cx="269.91" cy="112.89" r="0.8"/><circle cx="270.10" cy="112.74" r="0.8"/><circle cx="270.29" cy="112.60" r="0.8"/><circle cx="270.47" cy="112.46" r="0.8"/><circle cx="270.66" cy="112.32" r="0.8"/><circle cx="270.84" cy="112.19" r="0.8"/><circle cx="271.03" cy="112.06" r="0.8"/><circle cx="271.22" cy="111.93" r="0.8"/><circle cx="271.40" cy="111.80" r="0.8"/><circle cx="271.59" cy="111.68" r="0.8"/><circle cx="271.77" cy="111.56" r="0.8"/><circle cx="271.96" cy="111.44" r="0.8"/><circle cx="272.15" cy="111.32" r="0.8"/><circle cx="272.33" cy="111.20" r="0.8"/><circle cx="272.52" cy="111.09" r="0.8"/><circle cx="272.70" cy="110.97" r="0.8"/><circle cx="272.89" cy="110.86" r="0.8"/><circle cx="273.08" cy="110.75" r="0.8"/><circle cx="273.26" cy="110.64" r="0.8"/><circle cx="273.45" cy="110.53" r="0.8"/><circle cx="273.63" cy="110.42" r="0.8"/><circle cx="273.82" cy="110.31" r="0.8"/><circle cx="274.01" cy="110.20" r="0.8"/><circle cx="274.19" cy="110.09" r="0.8"/><circle cx="274.38" cy="109.99" r="0.8"/><circle cx="274.56" cy="109.88" r="0.8"/><circle cx="274.75" cy="109.77" r="0.8"/><circle cx="274.94" cy="109.67" r="0.8"/><circle cx="275.12" cy="109.56" r="0.8"/><circle cx="275.31" cy="109.45" r="0.8"/><circle cx="275.49" cy="109.34" r="0.8"/><circle cx="275.68" cy="109.21" r="0.8"/><circle cx="275.87" cy="109.09" r="0.8"/><circle cx="276.05" cy="108.97" r="0.8"/><circle cx="276.24" cy="108.84" r="0.8"/><circle cx="276.42" cy="108.72" r="0.8"/><circle cx="276.61" cy="108.59" r="0.8"/><circle cx="276.80" cy="108.47" r="0.8"/><circle cx="276.98" cy="108.34" r="0.8"/><circle cx="277.17" cy="108.21" r="0.8"/><circle cx="277.35" cy="108.09" r="0.8"/><circle cx="277.54" cy="107.96" r="0.8"/><circle cx="277.73" cy="107.83" r="0.8"/><circle cx="277.91" cy="107.70" r="0.8"/><circle cx="278.10" cy="107.57" r="0.8"/><circle cx="278.28" cy="107.43" r="0.8"/><circle cx="278.47" cy="107.30" r="0.8"/><circle cx="278.66" cy="107.16" r="0.8"/><circle cx="278.84" cy="107.02" r="0.8"/><circle cx="279.03" cy="106.89" r="0.8"/><circle cx="279.21" cy="106.74" r="0.8"/><circle cx="279.40" cy="106.60" r="0.8"/><circle cx="279.59" cy="106.45" r="0.8"/><circle cx="279.77" cy="106.30" r="0.8"/><circle cx="279.96" cy="106.15" r="0.8"/><circle cx="280.14" cy="106.00" r="0.8"/><circle cx="280.33" cy="105.84" r="0.8"/><circle cx="280.52" cy="105.68" r="0.8"/><circle cx="280.70" cy="105.51" r="0.8"/><circle cx="280.89" cy="105.34" r="0.8"/><circle cx="281.07" cy="105.16" r="0.8"/><circle cx="281.26" cy="104.98" r="0.8"/><circle cx="281.45" cy="104.79" r="0.8"/><circle cx="281.63" cy="104.60" r="0.8"/><circle cx="281.82" cy="104.39" r="0.8"/><circle cx="282.00" cy="104.18" r="0.8"/><circle cx="282.19" cy="103.96" r="0.8"/><circle cx="282.38" cy="103.73" r="0.8"/><circle cx="282.56" cy="103.48" r="0.8"/><circle cx="282.75" cy="103.22" r="0.8"/><circle cx="282.93" cy="102.94" r="0.8"/><circle cx="283.12" cy="102.63" r="0.8"/><circle cx="283.31" cy="102.30" r="0.8"/><circle cx="283.49" cy="101.93" r="0.8"/><circle cx="283.68" cy="101.52" r="0.8"/><circle cx="283.86" cy="101.04" r="0.8"/><circle cx="284.05" cy="100.47" r="0.8"/><circle cx="284.24" cy="99.74" r="0.8"/><circle cx="284.42" cy="98.70" r="0.8"/><circle cx="284.61" cy="96.70" r="0.8"/></g>
<line x1="265.5" y1="109.4" x2="285.3" y2="109.4" stroke="#ff0000" stroke-width="1.15"/>
<g fill="#6a6a6a"><circle cx="288.10" cy="115.50" r="0.68"/><circle cx="288.29" cy="114.76" r="0.68"/><circle cx="288.48" cy="114.38" r="0.68"/><circle cx="288.68" cy="114.11" r="0.68"/><circle cx="288.87" cy="113.89" r="0.68"/><circle cx="289.06" cy="113.72" r="0.68"/><circle cx="289.25" cy="113.56" r="0.68"/><circle cx="289.45" cy="113.43" r="0.68"/><circle cx="289.64" cy="113.30" r="0.68"/><circle cx="289.83" cy="113.19" r="0.68"/><circle cx="290.03" cy="113.09" r="0.68"/><circle cx="290.22" cy="112.99" r="0.68"/><circle cx="290.41" cy="112.90" r="0.68"/><circle cx="290.61" cy="112.81" r="0.68"/><circle cx="290.80" cy="112.73" r="0.68"/><circle cx="290.99" cy="112.65" r="0.68"/><circle cx="291.18" cy="112.58" r="0.68"/><circle cx="291.38" cy="112.51" r="0.68"/><circle cx="291.57" cy="112.44" r="0.68"/><circle cx="291.76" cy="112.37" r="0.68"/><circle cx="291.96" cy="112.30" r="0.68"/><circle cx="292.15" cy="112.24" r="0.68"/><circle cx="292.34" cy="112.18" r="0.68"/><circle cx="292.54" cy="112.12" r="0.68"/><circle cx="292.73" cy="112.06" r="0.68"/><circle cx="292.92" cy="112.00" r="0.68"/><circle cx="293.11" cy="111.95" r="0.68"/><circle cx="293.31" cy="111.89" r="0.68"/><circle cx="293.50" cy="111.84" r="0.68"/><circle cx="293.69" cy="111.78" r="0.68"/><circle cx="293.89" cy="111.73" r="0.68"/><circle cx="294.08" cy="111.68" r="0.68"/><circle cx="294.27" cy="111.63" r="0.68"/><circle cx="294.47" cy="111.58" r="0.68"/><circle cx="294.66" cy="111.53" r="0.68"/><circle cx="294.85" cy="111.48" r="0.68"/><circle cx="295.04" cy="111.43" r="0.68"/><circle cx="295.24" cy="111.38" r="0.68"/><circle cx="295.43" cy="111.33" r="0.68"/><circle cx="295.62" cy="111.29" r="0.68"/><circle cx="295.82" cy="111.24" r="0.68"/><circle cx="296.01" cy="111.19" r="0.68"/><circle cx="296.20" cy="111.15" r="0.68"/><circle cx="296.40" cy="111.10" r="0.68"/><circle cx="296.59" cy="111.05" r="0.68"/><circle cx="296.78" cy="111.01" r="0.68"/><circle cx="296.97" cy="110.96" r="0.68"/><circle cx="297.17" cy="110.91" r="0.68"/><circle cx="297.36" cy="110.87" r="0.68"/><circle cx="297.55" cy="110.82" r="0.68"/><circle cx="297.75" cy="110.78" r="0.68"/><circle cx="297.94" cy="110.74" r="0.68"/><circle cx="298.13" cy="110.70" r="0.68"/><circle cx="298.33" cy="110.65" r="0.68"/><circle cx="298.52" cy="110.61" r="0.68"/><circle cx="298.71" cy="110.57" r="0.68"/><circle cx="298.90" cy="110.53" r="0.68"/><circle cx="299.10" cy="110.48" r="0.68"/><circle cx="299.29" cy="110.44" r="0.68"/><circle cx="299.48" cy="110.40" r="0.68"/><circle cx="299.68" cy="110.36" r="0.68"/><circle cx="299.87" cy="110.31" r="0.68"/><circle cx="300.06" cy="110.27" r="0.68"/><circle cx="300.26" cy="110.22" r="0.68"/><circle cx="300.45" cy="110.18" r="0.68"/><circle cx="300.64" cy="110.13" r="0.68"/><circle cx="300.83" cy="110.09" r="0.68"/><circle cx="301.03" cy="110.04" r="0.68"/><circle cx="301.22" cy="110.00" r="0.68"/><circle cx="301.41" cy="109.95" r="0.68"/><circle cx="301.61" cy="109.90" r="0.68"/><circle cx="301.80" cy="109.85" r="0.68"/><circle cx="301.99" cy="109.80" r="0.68"/><circle cx="302.19" cy="109.75" r="0.68"/><circle cx="302.38" cy="109.70" r="0.68"/><circle cx="302.57" cy="109.65" r="0.68"/><circle cx="302.76" cy="109.59" r="0.68"/><circle cx="302.96" cy="109.54" r="0.68"/><circle cx="303.15" cy="109.48" r="0.68"/><circle cx="303.34" cy="109.42" r="0.68"/><circle cx="303.54" cy="109.36" r="0.68"/><circle cx="303.73" cy="109.30" r="0.68"/><circle cx="303.92" cy="109.24" r="0.68"/><circle cx="304.12" cy="109.17" r="0.68"/><circle cx="304.31" cy="109.11" r="0.68"/><circle cx="304.50" cy="109.03" r="0.68"/><circle cx="304.69" cy="108.96" r="0.68"/><circle cx="304.89" cy="108.88" r="0.68"/><circle cx="305.08" cy="108.80" r="0.68"/><circle cx="305.27" cy="108.71" r="0.68"/><circle cx="305.47" cy="108.61" r="0.68"/><circle cx="305.66" cy="108.51" r="0.68"/><circle cx="305.85" cy="108.40" r="0.68"/><circle cx="306.05" cy="108.27" r="0.68"/><circle cx="306.24" cy="108.13" r="0.68"/><circle cx="306.43" cy="107.97" r="0.68"/><circle cx="306.62" cy="107.78" r="0.68"/><circle cx="306.82" cy="107.53" r="0.68"/><circle cx="307.01" cy="107.18" r="0.68"/><circle cx="307.20" cy="106.50" r="0.68"/></g>
<line x1="287.4" y1="109.8" x2="307.9" y2="109.8" stroke="#ff0000" stroke-width="1.15"/>
<g fill="#111"><circle cx="310.49" cy="118.10" r="0.8"/><circle cx="310.67" cy="116.89" r="0.8"/><circle cx="310.86" cy="116.26" r="0.8"/><circle cx="311.04" cy="115.82" r="0.8"/><circle cx="311.22" cy="115.47" r="0.8"/><circle cx="311.41" cy="115.18" r="0.8"/><circle cx="311.59" cy="114.93" r="0.8"/><circle cx="311.77" cy="114.70" r="0.8"/><circle cx="311.96" cy="114.50" r="0.8"/><circle cx="312.14" cy="114.32" r="0.8"/><circle cx="312.32" cy="114.15" r="0.8"/><circle cx="312.50" cy="113.99" r="0.8"/><circle cx="312.69" cy="113.84" r="0.8"/><circle cx="312.87" cy="113.70" r="0.8"/><circle cx="313.05" cy="113.56" r="0.8"/><circle cx="313.24" cy="113.43" r="0.8"/><circle cx="313.42" cy="113.31" r="0.8"/><circle cx="313.60" cy="113.19" r="0.8"/><circle cx="313.79" cy="113.08" r="0.8"/><circle cx="313.97" cy="112.97" r="0.8"/><circle cx="314.15" cy="112.86" r="0.8"/><circle cx="314.33" cy="112.76" r="0.8"/><circle cx="314.52" cy="112.66" r="0.8"/><circle cx="314.70" cy="112.56" r="0.8"/><circle cx="314.88" cy="112.46" r="0.8"/><circle cx="315.07" cy="112.37" r="0.8"/><circle cx="315.25" cy="112.28" r="0.8"/><circle cx="315.43" cy="112.19" r="0.8"/><circle cx="315.62" cy="112.10" r="0.8"/><circle cx="315.80" cy="112.01" r="0.8"/><circle cx="315.98" cy="111.92" r="0.8"/><circle cx="316.16" cy="111.84" r="0.8"/><circle cx="316.35" cy="111.76" r="0.8"/><circle cx="316.53" cy="111.67" r="0.8"/><circle cx="316.71" cy="111.59" r="0.8"/><circle cx="316.90" cy="111.51" r="0.8"/><circle cx="317.08" cy="111.43" r="0.8"/><circle cx="317.26" cy="111.35" r="0.8"/><circle cx="317.45" cy="111.27" r="0.8"/><circle cx="317.63" cy="111.20" r="0.8"/><circle cx="317.81" cy="111.12" r="0.8"/><circle cx="317.99" cy="111.04" r="0.8"/><circle cx="318.18" cy="110.97" r="0.8"/><circle cx="318.36" cy="110.89" r="0.8"/><circle cx="318.54" cy="110.81" r="0.8"/><circle cx="318.73" cy="110.74" r="0.8"/><circle cx="318.91" cy="110.66" r="0.8"/><circle cx="319.09" cy="110.59" r="0.8"/><circle cx="319.28" cy="110.51" r="0.8"/><circle cx="319.46" cy="110.44" r="0.8"/><circle cx="319.64" cy="110.34" r="0.8"/><circle cx="319.82" cy="110.22" r="0.8"/><circle cx="320.01" cy="110.11" r="0.8"/><circle cx="320.19" cy="109.99" r="0.8"/><circle cx="320.37" cy="109.87" r="0.8"/><circle cx="320.56" cy="109.76" r="0.8"/><circle cx="320.74" cy="109.64" r="0.8"/><circle cx="320.92" cy="109.52" r="0.8"/><circle cx="321.11" cy="109.40" r="0.8"/><circle cx="321.29" cy="109.28" r="0.8"/><circle cx="321.47" cy="109.16" r="0.8"/><circle cx="321.65" cy="109.04" r="0.8"/><circle cx="321.84" cy="108.92" r="0.8"/><circle cx="322.02" cy="108.79" r="0.8"/><circle cx="322.20" cy="108.67" r="0.8"/><circle cx="322.39" cy="108.54" r="0.8"/><circle cx="322.57" cy="108.41" r="0.8"/><circle cx="322.75" cy="108.29" r="0.8"/><circle cx="322.94" cy="108.16" r="0.8"/><circle cx="323.12" cy="108.02" r="0.8"/><circle cx="323.30" cy="107.89" r="0.8"/><circle cx="323.48" cy="107.75" r="0.8"/><circle cx="323.67" cy="107.62" r="0.8"/><circle cx="323.85" cy="107.47" r="0.8"/><circle cx="324.03" cy="107.33" r="0.8"/><circle cx="324.22" cy="107.18" r="0.8"/><circle cx="324.40" cy="107.03" r="0.8"/><circle cx="324.58" cy="106.88" r="0.8"/><circle cx="324.77" cy="106.72" r="0.8"/><circle cx="324.95" cy="106.56" r="0.8"/><circle cx="325.13" cy="106.40" r="0.8"/><circle cx="325.31" cy="106.22" r="0.8"/><circle cx="325.50" cy="106.05" r="0.8"/><circle cx="325.68" cy="105.86" r="0.8"/><circle cx="325.86" cy="105.67" r="0.8"/><circle cx="326.05" cy="105.47" r="0.8"/><circle cx="326.23" cy="105.26" r="0.8"/><circle cx="326.41" cy="105.04" r="0.8"/><circle cx="326.60" cy="104.81" r="0.8"/><circle cx="326.78" cy="104.56" r="0.8"/><circle cx="326.96" cy="104.29" r="0.8"/><circle cx="327.14" cy="104.01" r="0.8"/><circle cx="327.33" cy="103.69" r="0.8"/><circle cx="327.51" cy="103.35" r="0.8"/><circle cx="327.69" cy="102.95" r="0.8"/><circle cx="327.88" cy="102.50" r="0.8"/><circle cx="328.06" cy="101.96" r="0.8"/><circle cx="328.24" cy="101.27" r="0.8"/><circle cx="328.43" cy="100.29" r="0.8"/><circle cx="328.61" cy="98.40" r="0.8"/></g>
<line x1="309.8" y1="110.4" x2="329.3" y2="110.4" stroke="#ff0000" stroke-width="1.15"/>
<g fill="#111"><circle cx="332.39" cy="113.30" r="0.8"/><circle cx="332.58" cy="112.84" r="0.8"/><circle cx="332.77" cy="112.61" r="0.8"/><circle cx="332.96" cy="112.44" r="0.8"/><circle cx="333.15" cy="112.31" r="0.8"/><circle cx="333.34" cy="112.20" r="0.8"/><circle cx="333.53" cy="112.10" r="0.8"/><circle cx="333.72" cy="112.02" r="0.8"/><circle cx="333.91" cy="111.94" r="0.8"/><circle cx="334.10" cy="111.88" r="0.8"/><circle cx="334.28" cy="111.81" r="0.8"/><circle cx="334.47" cy="111.75" r="0.8"/><circle cx="334.66" cy="111.70" r="0.8"/><circle cx="334.85" cy="111.64" r="0.8"/><circle cx="335.04" cy="111.59" r="0.8"/><circle cx="335.23" cy="111.54" r="0.8"/><circle cx="335.42" cy="111.50" r="0.8"/><circle cx="335.61" cy="111.45" r="0.8"/><circle cx="335.80" cy="111.41" r="0.8"/><circle cx="335.99" cy="111.37" r="0.8"/><circle cx="336.17" cy="111.33" r="0.8"/><circle cx="336.36" cy="111.29" r="0.8"/><circle cx="336.55" cy="111.25" r="0.8"/><circle cx="336.74" cy="111.21" r="0.8"/><circle cx="336.93" cy="111.18" r="0.8"/><circle cx="337.12" cy="111.14" r="0.8"/><circle cx="337.31" cy="111.11" r="0.8"/><circle cx="337.50" cy="111.07" r="0.8"/><circle cx="337.69" cy="111.04" r="0.8"/><circle cx="337.88" cy="111.01" r="0.8"/><circle cx="338.06" cy="110.97" r="0.8"/><circle cx="338.25" cy="110.94" r="0.8"/><circle cx="338.44" cy="110.91" r="0.8"/><circle cx="338.63" cy="110.88" r="0.8"/><circle cx="338.82" cy="110.85" r="0.8"/><circle cx="339.01" cy="110.82" r="0.8"/><circle cx="339.20" cy="110.79" r="0.8"/><circle cx="339.39" cy="110.76" r="0.8"/><circle cx="339.58" cy="110.73" r="0.8"/><circle cx="339.77" cy="110.70" r="0.8"/><circle cx="339.95" cy="110.67" r="0.8"/><circle cx="340.14" cy="110.64" r="0.8"/><circle cx="340.33" cy="110.61" r="0.8"/><circle cx="340.52" cy="110.58" r="0.8"/><circle cx="340.71" cy="110.56" r="0.8"/><circle cx="340.90" cy="110.53" r="0.8"/><circle cx="341.09" cy="110.50" r="0.8"/><circle cx="341.28" cy="110.47" r="0.8"/><circle cx="341.47" cy="110.44" r="0.8"/><circle cx="341.66" cy="110.41" r="0.8"/><circle cx="341.84" cy="110.40" r="0.8"/><circle cx="342.03" cy="110.39" r="0.8"/><circle cx="342.22" cy="110.39" r="0.8"/><circle cx="342.41" cy="110.38" r="0.8"/><circle cx="342.60" cy="110.36" r="0.8"/><circle cx="342.79" cy="110.35" r="0.8"/><circle cx="342.98" cy="110.34" r="0.8"/><circle cx="343.17" cy="110.32" r="0.8"/><circle cx="343.36" cy="110.31" r="0.8"/><circle cx="343.55" cy="110.29" r="0.8"/><circle cx="343.73" cy="110.27" r="0.8"/><circle cx="343.92" cy="110.25" r="0.8"/><circle cx="344.11" cy="110.23" r="0.8"/><circle cx="344.30" cy="110.21" r="0.8"/><circle cx="344.49" cy="110.19" r="0.8"/><circle cx="344.68" cy="110.16" r="0.8"/><circle cx="344.87" cy="110.14" r="0.8"/><circle cx="345.06" cy="110.11" r="0.8"/><circle cx="345.25" cy="110.08" r="0.8"/><circle cx="345.44" cy="110.06" r="0.8"/><circle cx="345.62" cy="110.03" r="0.8"/><circle cx="345.81" cy="110.00" r="0.8"/><circle cx="346.00" cy="109.96" r="0.8"/><circle cx="346.19" cy="109.93" r="0.8"/><circle cx="346.38" cy="109.90" r="0.8"/><circle cx="346.57" cy="109.86" r="0.8"/><circle cx="346.76" cy="109.82" r="0.8"/><circle cx="346.95" cy="109.78" r="0.8"/><circle cx="347.14" cy="109.74" r="0.8"/><circle cx="347.33" cy="109.69" r="0.8"/><circle cx="347.51" cy="109.65" r="0.8"/><circle cx="347.70" cy="109.60" r="0.8"/><circle cx="347.89" cy="109.55" r="0.8"/><circle cx="348.08" cy="109.49" r="0.8"/><circle cx="348.27" cy="109.43" r="0.8"/><circle cx="348.46" cy="109.37" r="0.8"/><circle cx="348.65" cy="109.31" r="0.8"/><circle cx="348.84" cy="109.24" r="0.8"/><circle cx="349.03" cy="109.16" r="0.8"/><circle cx="349.22" cy="109.08" r="0.8"/><circle cx="349.40" cy="108.98" r="0.8"/><circle cx="349.59" cy="108.88" r="0.8"/><circle cx="349.78" cy="108.77" r="0.8"/><circle cx="349.97" cy="108.64" r="0.8"/><circle cx="350.16" cy="108.49" r="0.8"/><circle cx="350.35" cy="108.32" r="0.8"/><circle cx="350.54" cy="108.10" r="0.8"/><circle cx="350.73" cy="107.81" r="0.8"/><circle cx="350.92" cy="107.38" r="0.8"/><circle cx="351.11" cy="106.50" r="0.8"/></g>
<line x1="331.7" y1="110.4" x2="351.8" y2="110.4" stroke="#ff0000" stroke-width="1.15"/>
<g fill="#111"><circle cx="355.00" cy="117.40" r="0.8"/><circle cx="355.19" cy="116.61" r="0.8"/><circle cx="355.38" cy="116.20" r="0.8"/><circle cx="355.57" cy="115.92" r="0.8"/><circle cx="355.76" cy="115.69" r="0.8"/><circle cx="355.95" cy="115.50" r="0.8"/><circle cx="356.14" cy="115.34" r="0.8"/><circle cx="356.33" cy="115.19" r="0.8"/><circle cx="356.52" cy="115.06" r="0.8"/><circle cx="356.71" cy="114.94" r="0.8"/><circle cx="356.90" cy="114.83" r="0.8"/><circle cx="357.09" cy="114.73" r="0.8"/><circle cx="357.28" cy="114.63" r="0.8"/><circle cx="357.47" cy="114.54" r="0.8"/><circle cx="357.66" cy="114.45" r="0.8"/><circle cx="357.85" cy="114.37" r="0.8"/><circle cx="358.04" cy="114.29" r="0.8"/><circle cx="358.23" cy="114.21" r="0.8"/><circle cx="358.42" cy="114.14" r="0.8"/><circle cx="358.61" cy="114.07" r="0.8"/><circle cx="358.80" cy="114.00" r="0.8"/><circle cx="358.99" cy="113.93" r="0.8"/><circle cx="359.18" cy="113.87" r="0.8"/><circle cx="359.37" cy="113.80" r="0.8"/><circle cx="359.56" cy="113.74" r="0.8"/><circle cx="359.75" cy="113.68" r="0.8"/><circle cx="359.94" cy="113.62" r="0.8"/><circle cx="360.13" cy="113.56" r="0.8"/><circle cx="360.32" cy="113.50" r="0.8"/><circle cx="360.51" cy="113.45" r="0.8"/><circle cx="360.70" cy="113.39" r="0.8"/><circle cx="360.89" cy="113.34" r="0.8"/><circle cx="361.08" cy="113.28" r="0.8"/><circle cx="361.27" cy="113.23" r="0.8"/><circle cx="361.46" cy="113.17" r="0.8"/><circle cx="361.65" cy="113.12" r="0.8"/><circle cx="361.84" cy="113.07" r="0.8"/><circle cx="362.03" cy="113.02" r="0.8"/><circle cx="362.22" cy="112.97" r="0.8"/><circle cx="362.41" cy="112.92" r="0.8"/><circle cx="362.60" cy="112.87" r="0.8"/><circle cx="362.79" cy="112.82" r="0.8"/><circle cx="362.98" cy="112.77" r="0.8"/><circle cx="363.17" cy="112.72" r="0.8"/><circle cx="363.36" cy="112.67" r="0.8"/><circle cx="363.55" cy="112.62" r="0.8"/><circle cx="363.74" cy="112.57" r="0.8"/><circle cx="363.93" cy="112.52" r="0.8"/><circle cx="364.12" cy="112.47" r="0.8"/><circle cx="364.31" cy="112.42" r="0.8"/><circle cx="364.50" cy="112.40" r="0.8"/><circle cx="364.69" cy="112.40" r="0.8"/><circle cx="364.88" cy="112.40" r="0.8"/><circle cx="365.07" cy="112.40" r="0.8"/><circle cx="365.26" cy="112.40" r="0.8"/><circle cx="365.45" cy="112.39" r="0.8"/><circle cx="365.64" cy="112.39" r="0.8"/><circle cx="365.83" cy="112.39" r="0.8"/><circle cx="366.02" cy="112.38" r="0.8"/><circle cx="366.21" cy="112.37" r="0.8"/><circle cx="366.40" cy="112.37" r="0.8"/><circle cx="366.59" cy="112.36" r="0.8"/><circle cx="366.78" cy="112.35" r="0.8"/><circle cx="366.97" cy="112.33" r="0.8"/><circle cx="367.16" cy="112.32" r="0.8"/><circle cx="367.35" cy="112.30" r="0.8"/><circle cx="367.54" cy="112.29" r="0.8"/><circle cx="367.73" cy="112.27" r="0.8"/><circle cx="367.92" cy="112.25" r="0.8"/><circle cx="368.11" cy="112.22" r="0.8"/><circle cx="368.30" cy="112.20" r="0.8"/><circle cx="368.49" cy="112.17" r="0.8"/><circle cx="368.68" cy="112.14" r="0.8"/><circle cx="368.87" cy="112.10" r="0.8"/><circle cx="369.06" cy="112.07" r="0.8"/><circle cx="369.25" cy="112.02" r="0.8"/><circle cx="369.44" cy="111.98" r="0.8"/><circle cx="369.62" cy="111.93" r="0.8"/><circle cx="369.82" cy="111.88" r="0.8"/><circle cx="370.01" cy="111.82" r="0.8"/><circle cx="370.20" cy="111.75" r="0.8"/><circle cx="370.39" cy="111.68" r="0.8"/><circle cx="370.58" cy="111.60" r="0.8"/><circle cx="370.77" cy="111.51" r="0.8"/><circle cx="370.96" cy="111.42" r="0.8"/><circle cx="371.15" cy="111.31" r="0.8"/><circle cx="371.34" cy="111.19" r="0.8"/><circle cx="371.53" cy="111.05" r="0.8"/><circle cx="371.72" cy="110.90" r="0.8"/><circle cx="371.91" cy="110.73" r="0.8"/><circle cx="372.10" cy="110.53" r="0.8"/><circle cx="372.29" cy="110.31" r="0.8"/><circle cx="372.48" cy="110.04" r="0.8"/><circle cx="372.67" cy="109.72" r="0.8"/><circle cx="372.86" cy="109.34" r="0.8"/><circle cx="373.05" cy="108.85" r="0.8"/><circle cx="373.24" cy="108.21" r="0.8"/><circle cx="373.43" cy="107.30" r="0.8"/><circle cx="373.62" cy="105.82" r="0.8"/><circle cx="373.81" cy="102.30" r="0.8"/></g>
<line x1="354.3" y1="112.4" x2="374.5" y2="112.4" stroke="#ff0000" stroke-width="1.15"/>
<g fill="#111"><circle cx="377.39" cy="117.00" r="0.8"/><circle cx="377.58" cy="116.32" r="0.8"/><circle cx="377.76" cy="115.97" r="0.8"/><circle cx="377.94" cy="115.72" r="0.8"/><circle cx="378.13" cy="115.53" r="0.8"/><circle cx="378.31" cy="115.37" r="0.8"/><circle cx="378.50" cy="115.23" r="0.8"/><circle cx="378.68" cy="115.10" r="0.8"/><circle cx="378.86" cy="114.99" r="0.8"/><circle cx="379.05" cy="114.89" r="0.8"/><circle cx="379.23" cy="114.79" r="0.8"/><circle cx="379.42" cy="114.70" r="0.8"/><circle cx="379.60" cy="114.62" r="0.8"/><circle cx="379.78" cy="114.54" r="0.8"/><circle cx="379.97" cy="114.47" r="0.8"/><circle cx="380.15" cy="114.39" r="0.8"/><circle cx="380.34" cy="114.33" r="0.8"/><circle cx="380.52" cy="114.26" r="0.8"/><circle cx="380.70" cy="114.20" r="0.8"/><circle cx="380.89" cy="114.14" r="0.8"/><circle cx="381.07" cy="114.08" r="0.8"/><circle cx="381.26" cy="114.02" r="0.8"/><circle cx="381.44" cy="113.96" r="0.8"/><circle cx="381.62" cy="113.91" r="0.8"/><circle cx="381.81" cy="113.85" r="0.8"/><circle cx="381.99" cy="113.80" r="0.8"/><circle cx="382.18" cy="113.75" r="0.8"/><circle cx="382.36" cy="113.70" r="0.8"/><circle cx="382.54" cy="113.65" r="0.8"/><circle cx="382.73" cy="113.60" r="0.8"/><circle cx="382.91" cy="113.55" r="0.8"/><circle cx="383.10" cy="113.50" r="0.8"/><circle cx="383.28" cy="113.46" r="0.8"/><circle cx="383.46" cy="113.41" r="0.8"/><circle cx="383.65" cy="113.37" r="0.8"/><circle cx="383.83" cy="113.32" r="0.8"/><circle cx="384.02" cy="113.28" r="0.8"/><circle cx="384.20" cy="113.23" r="0.8"/><circle cx="384.38" cy="113.19" r="0.8"/><circle cx="384.57" cy="113.14" r="0.8"/><circle cx="384.75" cy="113.10" r="0.8"/><circle cx="384.94" cy="113.06" r="0.8"/><circle cx="385.12" cy="113.02" r="0.8"/><circle cx="385.30" cy="112.97" r="0.8"/><circle cx="385.49" cy="112.93" r="0.8"/><circle cx="385.67" cy="112.89" r="0.8"/><circle cx="385.86" cy="112.85" r="0.8"/><circle cx="386.04" cy="112.80" r="0.8"/><circle cx="386.22" cy="112.76" r="0.8"/><circle cx="386.41" cy="112.72" r="0.8"/><circle cx="386.59" cy="112.70" r="0.8"/><circle cx="386.78" cy="112.70" r="0.8"/><circle cx="386.96" cy="112.70" r="0.8"/><circle cx="387.14" cy="112.70" r="0.8"/><circle cx="387.33" cy="112.70" r="0.8"/><circle cx="387.51" cy="112.70" r="0.8"/><circle cx="387.70" cy="112.69" r="0.8"/><circle cx="387.88" cy="112.69" r="0.8"/><circle cx="388.06" cy="112.69" r="0.8"/><circle cx="388.25" cy="112.68" r="0.8"/><circle cx="388.43" cy="112.67" r="0.8"/><circle cx="388.62" cy="112.67" r="0.8"/><circle cx="388.80" cy="112.66" r="0.8"/><circle cx="388.98" cy="112.64" r="0.8"/><circle cx="389.17" cy="112.63" r="0.8"/><circle cx="389.35" cy="112.61" r="0.8"/><circle cx="389.54" cy="112.59" r="0.8"/><circle cx="389.72" cy="112.57" r="0.8"/><circle cx="389.90" cy="112.55" r="0.8"/><circle cx="390.09" cy="112.52" r="0.8"/><circle cx="390.27" cy="112.49" r="0.8"/><circle cx="390.46" cy="112.45" r="0.8"/><circle cx="390.64" cy="112.41" r="0.8"/><circle cx="390.82" cy="112.36" r="0.8"/><circle cx="391.01" cy="112.31" r="0.8"/><circle cx="391.19" cy="112.25" r="0.8"/><circle cx="391.38" cy="112.19" r="0.8"/><circle cx="391.56" cy="112.11" r="0.8"/><circle cx="391.74" cy="112.03" r="0.8"/><circle cx="391.93" cy="111.94" r="0.8"/><circle cx="392.11" cy="111.83" r="0.8"/><circle cx="392.30" cy="111.72" r="0.8"/><circle cx="392.48" cy="111.59" r="0.8"/><circle cx="392.66" cy="111.44" r="0.8"/><circle cx="392.85" cy="111.27" r="0.8"/><circle cx="393.03" cy="111.08" r="0.8"/><circle cx="393.22" cy="110.87" r="0.8"/><circle cx="393.40" cy="110.62" r="0.8"/><circle cx="393.58" cy="110.34" r="0.8"/><circle cx="393.77" cy="110.01" r="0.8"/><circle cx="393.95" cy="109.63" r="0.8"/><circle cx="394.14" cy="109.18" r="0.8"/><circle cx="394.32" cy="108.63" r="0.8"/><circle cx="394.50" cy="107.97" r="0.8"/><circle cx="394.69" cy="107.13" r="0.8"/><circle cx="394.87" cy="106.06" r="0.8"/><circle cx="395.06" cy="104.59" r="0.8"/><circle cx="395.24" cy="102.44" r="0.8"/><circle cx="395.42" cy="98.77" r="0.8"/><circle cx="395.61" cy="89.40" r="0.8"/></g>
<line x1="376.7" y1="112.7" x2="396.3" y2="112.7" stroke="#ff0000" stroke-width="1.15"/>
<g fill="#111"><circle cx="399.50" cy="116.60" r="0.8"/><circle cx="399.69" cy="116.13" r="0.8"/><circle cx="399.88" cy="115.88" r="0.8"/><circle cx="400.07" cy="115.71" r="0.8"/><circle cx="400.26" cy="115.57" r="0.8"/><circle cx="400.45" cy="115.46" r="0.8"/><circle cx="400.64" cy="115.36" r="0.8"/><circle cx="400.83" cy="115.28" r="0.8"/><circle cx="401.02" cy="115.20" r="0.8"/><circle cx="401.21" cy="115.13" r="0.8"/><circle cx="401.40" cy="115.06" r="0.8"/><circle cx="401.59" cy="115.00" r="0.8"/><circle cx="401.78" cy="114.94" r="0.8"/><circle cx="401.97" cy="114.88" r="0.8"/><circle cx="402.16" cy="114.83" r="0.8"/><circle cx="402.35" cy="114.78" r="0.8"/><circle cx="402.54" cy="114.73" r="0.8"/><circle cx="402.73" cy="114.69" r="0.8"/><circle cx="402.92" cy="114.64" r="0.8"/><circle cx="403.11" cy="114.60" r="0.8"/><circle cx="403.30" cy="114.56" r="0.8"/><circle cx="403.49" cy="114.52" r="0.8"/><circle cx="403.68" cy="114.48" r="0.8"/><circle cx="403.87" cy="114.44" r="0.8"/><circle cx="404.06" cy="114.40" r="0.8"/><circle cx="404.25" cy="114.37" r="0.8"/><circle cx="404.44" cy="114.33" r="0.8"/><circle cx="404.63" cy="114.30" r="0.8"/><circle cx="404.82" cy="114.26" r="0.8"/><circle cx="405.01" cy="114.23" r="0.8"/><circle cx="405.20" cy="114.19" r="0.8"/><circle cx="405.39" cy="114.16" r="0.8"/><circle cx="405.58" cy="114.13" r="0.8"/><circle cx="405.77" cy="114.10" r="0.8"/><circle cx="405.96" cy="114.06" r="0.8"/><circle cx="406.15" cy="114.03" r="0.8"/><circle cx="406.34" cy="114.00" r="0.8"/><circle cx="406.53" cy="113.97" r="0.8"/><circle cx="406.72" cy="113.94" r="0.8"/><circle cx="406.91" cy="113.91" r="0.8"/><circle cx="407.10" cy="113.88" r="0.8"/><circle cx="407.29" cy="113.85" r="0.8"/><circle cx="407.48" cy="113.82" r="0.8"/><circle cx="407.67" cy="113.79" r="0.8"/><circle cx="407.86" cy="113.76" r="0.8"/><circle cx="408.05" cy="113.73" r="0.8"/><circle cx="408.24" cy="113.70" r="0.8"/><circle cx="408.43" cy="113.67" r="0.8"/><circle cx="408.62" cy="113.64" r="0.8"/><circle cx="408.81" cy="113.61" r="0.8"/><circle cx="409.00" cy="113.60" r="0.8"/><circle cx="409.19" cy="113.60" r="0.8"/><circle cx="409.38" cy="113.60" r="0.8"/><circle cx="409.57" cy="113.60" r="0.8"/><circle cx="409.76" cy="113.60" r="0.8"/><circle cx="409.95" cy="113.60" r="0.8"/><circle cx="410.14" cy="113.60" r="0.8"/><circle cx="410.33" cy="113.59" r="0.8"/><circle cx="410.52" cy="113.59" r="0.8"/><circle cx="410.71" cy="113.59" r="0.8"/><circle cx="410.90" cy="113.58" r="0.8"/><circle cx="411.09" cy="113.58" r="0.8"/><circle cx="411.28" cy="113.57" r="0.8"/><circle cx="411.47" cy="113.56" r="0.8"/><circle cx="411.66" cy="113.56" r="0.8"/><circle cx="411.85" cy="113.55" r="0.8"/><circle cx="412.04" cy="113.53" r="0.8"/><circle cx="412.23" cy="113.52" r="0.8"/><circle cx="412.42" cy="113.50" r="0.8"/><circle cx="412.61" cy="113.49" r="0.8"/><circle cx="412.80" cy="113.47" r="0.8"/><circle cx="412.99" cy="113.44" r="0.8"/><circle cx="413.18" cy="113.42" r="0.8"/><circle cx="413.37" cy="113.39" r="0.8"/><circle cx="413.56" cy="113.36" r="0.8"/><circle cx="413.75" cy="113.32" r="0.8"/><circle cx="413.94" cy="113.28" r="0.8"/><circle cx="414.12" cy="113.23" r="0.8"/><circle cx="414.32" cy="113.18" r="0.8"/><circle cx="414.51" cy="113.12" r="0.8"/><circle cx="414.70" cy="113.06" r="0.8"/><circle cx="414.89" cy="112.98" r="0.8"/><circle cx="415.08" cy="112.90" r="0.8"/><circle cx="415.27" cy="112.81" r="0.8"/><circle cx="415.46" cy="112.71" r="0.8"/><circle cx="415.65" cy="112.59" r="0.8"/><circle cx="415.84" cy="112.45" r="0.8"/><circle cx="416.03" cy="112.30" r="0.8"/><circle cx="416.22" cy="112.12" r="0.8"/><circle cx="416.41" cy="111.92" r="0.8"/><circle cx="416.60" cy="111.68" r="0.8"/><circle cx="416.79" cy="111.39" r="0.8"/><circle cx="416.98" cy="111.05" r="0.8"/><circle cx="417.17" cy="110.63" r="0.8"/><circle cx="417.36" cy="110.11" r="0.8"/><circle cx="417.55" cy="109.44" r="0.8"/><circle cx="417.74" cy="108.52" r="0.8"/><circle cx="417.93" cy="107.17" r="0.8"/><circle cx="418.12" cy="104.87" r="0.8"/><circle cx="418.31" cy="99.00" r="0.8"/></g>
<line x1="398.8" y1="113.6" x2="419" y2="113.6" stroke="#ff0000" stroke-width="1.15"/>
<g fill="#6a6a6a"><circle cx="422.19" cy="118.60" r="0.68"/><circle cx="422.37" cy="118.03" r="0.68"/><circle cx="422.56" cy="117.74" r="0.68"/><circle cx="422.74" cy="117.53" r="0.68"/><circle cx="422.92" cy="117.37" r="0.68"/><circle cx="423.11" cy="117.23" r="0.68"/><circle cx="423.29" cy="117.12" r="0.68"/><circle cx="423.47" cy="117.01" r="0.68"/><circle cx="423.66" cy="116.92" r="0.68"/><circle cx="423.84" cy="116.83" r="0.68"/><circle cx="424.02" cy="116.75" r="0.68"/><circle cx="424.20" cy="116.68" r="0.68"/><circle cx="424.39" cy="116.61" r="0.68"/><circle cx="424.57" cy="116.54" r="0.68"/><circle cx="424.75" cy="116.48" r="0.68"/><circle cx="424.94" cy="116.42" r="0.68"/><circle cx="425.12" cy="116.36" r="0.68"/><circle cx="425.30" cy="116.31" r="0.68"/><circle cx="425.49" cy="116.25" r="0.68"/><circle cx="425.67" cy="116.20" r="0.68"/><circle cx="425.85" cy="116.15" r="0.68"/><circle cx="426.03" cy="116.10" r="0.68"/><circle cx="426.22" cy="116.06" r="0.68"/><circle cx="426.40" cy="116.01" r="0.68"/><circle cx="426.58" cy="115.96" r="0.68"/><circle cx="426.77" cy="115.92" r="0.68"/><circle cx="426.95" cy="115.88" r="0.68"/><circle cx="427.13" cy="115.84" r="0.68"/><circle cx="427.32" cy="115.79" r="0.68"/><circle cx="427.50" cy="115.75" r="0.68"/><circle cx="427.68" cy="115.71" r="0.68"/><circle cx="427.86" cy="115.67" r="0.68"/><circle cx="428.05" cy="115.63" r="0.68"/><circle cx="428.23" cy="115.60" r="0.68"/><circle cx="428.41" cy="115.56" r="0.68"/><circle cx="428.60" cy="115.52" r="0.68"/><circle cx="428.78" cy="115.48" r="0.68"/><circle cx="428.96" cy="115.45" r="0.68"/><circle cx="429.15" cy="115.41" r="0.68"/><circle cx="429.33" cy="115.37" r="0.68"/><circle cx="429.51" cy="115.34" r="0.68"/><circle cx="429.69" cy="115.30" r="0.68"/><circle cx="429.88" cy="115.26" r="0.68"/><circle cx="430.06" cy="115.23" r="0.68"/><circle cx="430.24" cy="115.19" r="0.68"/><circle cx="430.43" cy="115.16" r="0.68"/><circle cx="430.61" cy="115.12" r="0.68"/><circle cx="430.79" cy="115.09" r="0.68"/><circle cx="430.98" cy="115.05" r="0.68"/><circle cx="431.16" cy="115.02" r="0.68"/><circle cx="431.34" cy="115.00" r="0.68"/><circle cx="431.52" cy="115.00" r="0.68"/><circle cx="431.71" cy="115.00" r="0.68"/><circle cx="431.89" cy="115.00" r="0.68"/><circle cx="432.07" cy="114.99" r="0.68"/><circle cx="432.26" cy="114.99" r="0.68"/><circle cx="432.44" cy="114.98" r="0.68"/><circle cx="432.62" cy="114.97" r="0.68"/><circle cx="432.81" cy="114.96" r="0.68"/><circle cx="432.99" cy="114.95" r="0.68"/><circle cx="433.17" cy="114.94" r="0.68"/><circle cx="433.35" cy="114.92" r="0.68"/><circle cx="433.54" cy="114.90" r="0.68"/><circle cx="433.72" cy="114.88" r="0.68"/><circle cx="433.90" cy="114.86" r="0.68"/><circle cx="434.09" cy="114.83" r="0.68"/><circle cx="434.27" cy="114.80" r="0.68"/><circle cx="434.45" cy="114.77" r="0.68"/><circle cx="434.64" cy="114.73" r="0.68"/><circle cx="434.82" cy="114.69" r="0.68"/><circle cx="435.00" cy="114.65" r="0.68"/><circle cx="435.18" cy="114.60" r="0.68"/><circle cx="435.37" cy="114.54" r="0.68"/><circle cx="435.55" cy="114.48" r="0.68"/><circle cx="435.73" cy="114.41" r="0.68"/><circle cx="435.92" cy="114.34" r="0.68"/><circle cx="436.10" cy="114.26" r="0.68"/><circle cx="436.28" cy="114.18" r="0.68"/><circle cx="436.47" cy="114.08" r="0.68"/><circle cx="436.65" cy="113.98" r="0.68"/><circle cx="436.83" cy="113.86" r="0.68"/><circle cx="437.01" cy="113.74" r="0.68"/><circle cx="437.20" cy="113.60" r="0.68"/><circle cx="437.38" cy="113.44" r="0.68"/><circle cx="437.56" cy="113.27" r="0.68"/><circle cx="437.75" cy="113.09" r="0.68"/><circle cx="437.93" cy="112.88" r="0.68"/><circle cx="438.11" cy="112.64" r="0.68"/><circle cx="438.30" cy="112.38" r="0.68"/><circle cx="438.48" cy="112.08" r="0.68"/><circle cx="438.66" cy="111.73" r="0.68"/><circle cx="438.84" cy="111.33" r="0.68"/><circle cx="439.03" cy="110.87" r="0.68"/><circle cx="439.21" cy="110.31" r="0.68"/><circle cx="439.39" cy="109.63" r="0.68"/><circle cx="439.58" cy="108.78" r="0.68"/><circle cx="439.76" cy="107.65" r="0.68"/><circle cx="439.94" cy="106.06" r="0.68"/><circle cx="440.13" cy="103.47" r="0.68"/><circle cx="440.31" cy="97.30" r="0.68"/></g>
<line x1="421.5" y1="113.6" x2="441" y2="113.6" stroke="#ff0000" stroke-width="1.15"/>
<circle cx="75.00" cy="133.10" r="4.1" fill="#414487"/>
<circle cx="75.00" cy="160.50" r="3.1" fill="#460c5e"/>
<circle cx="75.00" cy="180.90" r="3.1" fill="#460c5e"/>
<circle cx="75.00" cy="201.30" r="4.1" fill="#414487"/>
<circle cx="75.00" cy="221.70" r="5.3" fill="#25848e"/>
<circle cx="97.28" cy="133.10" r="5.5" fill="#44bf70"/>
<circle cx="97.28" cy="160.50" r="4.80" fill="none" stroke="#33b67a" stroke-width="1.0"/>
<circle cx="97.28" cy="180.90" r="5.00" fill="none" stroke="#87d449" stroke-width="1.0"/>
<circle cx="97.28" cy="201.30" r="5.20" fill="none" stroke="#fde725" stroke-width="1.0"/>
<circle cx="97.28" cy="221.70" r="4.70" fill="none" stroke="#2cb27e" stroke-width="1.0"/>
<circle cx="119.56" cy="133.10" r="3.5" fill="#460c5e"/>
<circle cx="119.56" cy="160.50" r="2.30" fill="none" stroke="#471365" stroke-width="1.0"/>
<circle cx="119.56" cy="180.90" r="1.70" fill="none" stroke="#471365" stroke-width="1.0"/>
<circle cx="119.56" cy="201.30" r="2.30" fill="none" stroke="#471365" stroke-width="1.0"/>
<circle cx="119.56" cy="221.70" r="3.20" fill="none" stroke="#471365" stroke-width="1.0"/>
<circle cx="141.84" cy="133.10" r="6.3" fill="#6fce58"/>
<circle cx="141.84" cy="160.50" r="6.3" fill="#d8e21b"/>
<circle cx="141.84" cy="180.90" r="5.9" fill="#37b877"/>
<circle cx="141.84" cy="201.30" r="6.3" fill="#22a884"/>
<circle cx="141.84" cy="221.70" r="6.3" fill="#20a386"/>
<circle cx="164.12" cy="133.10" r="4.9" fill="#2c738e"/>
<circle cx="164.12" cy="160.50" r="3.7" fill="#471365"/>
<circle cx="164.12" cy="180.90" r="3.9" fill="#45085b"/>
<circle cx="164.12" cy="201.30" r="5.3" fill="#2c738e"/>
<circle cx="164.12" cy="221.70" r="5.9" fill="#bddf26"/>
<circle cx="186.40" cy="133.10" r="5.3" fill="#3b528b"/>
<circle cx="186.40" cy="160.50" r="4.00" fill="none" stroke="#414487" stroke-width="1.0"/>
<circle cx="186.40" cy="180.90" r="4.00" fill="none" stroke="#414487" stroke-width="1.0"/>
<circle cx="186.40" cy="201.30" r="4.20" fill="none" stroke="#414487" stroke-width="1.0"/>
<circle cx="186.40" cy="221.70" r="5.00" fill="none" stroke="#33648d" stroke-width="1.0"/>
<circle cx="208.68" cy="133.10" r="6.3" fill="#21918c"/>
<circle cx="208.68" cy="160.50" r="5.20" fill="none" stroke="#21918c" stroke-width="1.0"/>
<circle cx="208.68" cy="180.90" r="5.60" fill="none" stroke="#21918c" stroke-width="1.0"/>
<circle cx="208.68" cy="201.30" r="5.00" fill="none" stroke="#2e6e8e" stroke-width="1.0"/>
<circle cx="208.68" cy="221.70" r="5.80" fill="none" stroke="#1e9c89" stroke-width="1.0"/>
<circle cx="230.96" cy="133.10" r="2.9" fill="#440154"/>
<circle cx="230.96" cy="160.50" r="2.40" fill="none" stroke="#471365" stroke-width="1.0"/>
<circle cx="230.96" cy="180.90" r="2.40" fill="none" stroke="#471365" stroke-width="1.0"/>
<circle cx="230.96" cy="221.70" r="2.00" fill="none" stroke="#471365" stroke-width="1.0"/>
<circle cx="253.24" cy="133.10" r="3.7" fill="#45085b"/>
<circle cx="253.24" cy="160.50" r="3.40" fill="none" stroke="#471365" stroke-width="1.0"/>
<circle cx="253.24" cy="180.90" r="3.40" fill="none" stroke="#471365" stroke-width="1.0"/>
<circle cx="253.24" cy="201.30" r="3.40" fill="none" stroke="#471365" stroke-width="1.0"/>
<circle cx="253.24" cy="221.70" r="3.00" fill="none" stroke="#471365" stroke-width="1.0"/>
<circle cx="275.52" cy="133.10" r="6.5" fill="#2fb47c"/>
<circle cx="275.52" cy="160.50" r="5.80" fill="none" stroke="#44bf70" stroke-width="1.0"/>
<circle cx="275.52" cy="180.90" r="5.80" fill="none" stroke="#7ad151" stroke-width="1.0"/>
<circle cx="275.52" cy="201.30" r="6.00" fill="none" stroke="#bddf26" stroke-width="1.0"/>
<circle cx="275.52" cy="221.70" r="5.80" fill="none" stroke="#25848e" stroke-width="1.0"/>
<circle cx="297.80" cy="133.10" r="3.0" fill="#440154"/>
<circle cx="297.80" cy="160.50" r="1.80" fill="none" stroke="#471365" stroke-width="1.0"/>
<circle cx="297.80" cy="180.90" r="2.50" fill="none" stroke="#471365" stroke-width="1.0"/>
<circle cx="297.80" cy="201.30" r="2.80" fill="none" stroke="#471365" stroke-width="1.0"/>
<circle cx="297.80" cy="221.70" r="2.80" fill="none" stroke="#471365" stroke-width="1.0"/>
<circle cx="320.08" cy="133.10" r="6.5" fill="#21918c"/>
<circle cx="320.08" cy="160.50" r="5.60" fill="none" stroke="#25848e" stroke-width="1.0"/>
<circle cx="320.08" cy="180.90" r="5.80" fill="none" stroke="#4ec36a" stroke-width="1.0"/>
<circle cx="320.08" cy="201.30" r="5.80" fill="none" stroke="#4ec36a" stroke-width="1.0"/>
<circle cx="320.08" cy="221.70" r="6.00" fill="none" stroke="#2a788e" stroke-width="1.0"/>
<circle cx="342.36" cy="133.10" r="4.0" fill="#481d6f"/>
<circle cx="342.36" cy="160.50" r="3.50" fill="none" stroke="#471365" stroke-width="1.0"/>
<circle cx="342.36" cy="180.90" r="3.50" fill="none" stroke="#471365" stroke-width="1.0"/>
<circle cx="342.36" cy="201.30" r="3.20" fill="none" stroke="#471365" stroke-width="1.0"/>
<circle cx="342.36" cy="221.70" r="2.80" fill="none" stroke="#471365" stroke-width="1.0"/>
<circle cx="364.64" cy="133.10" r="6.3" fill="#3b528b"/>
<circle cx="364.64" cy="160.50" r="6.3" fill="#355f8d"/>
<circle cx="364.64" cy="180.90" r="6.5" fill="#375a8c"/>
<circle cx="364.64" cy="201.30" r="6.3" fill="#472a79"/>
<circle cx="364.64" cy="221.70" r="6.1" fill="#414487"/>
<circle cx="386.92" cy="133.10" r="5.0" fill="#414487"/>
<circle cx="386.92" cy="160.50" r="5.5" fill="#2a788e"/>
<circle cx="386.92" cy="180.90" r="4.7" fill="#482475"/>
<circle cx="386.92" cy="201.30" r="2.8" fill="#440154"/>
<circle cx="386.92" cy="221.70" r="4.2" fill="#440154"/>
<circle cx="409.20" cy="133.10" r="4.2" fill="#440154"/>
<circle cx="409.20" cy="160.50" r="3.70" fill="none" stroke="#471365" stroke-width="1.0"/>
<circle cx="409.20" cy="180.90" r="3.70" fill="none" stroke="#471365" stroke-width="1.0"/>
<circle cx="409.20" cy="201.30" r="2.50" fill="none" stroke="#471365" stroke-width="1.0"/>
<circle cx="409.20" cy="221.70" r="2.50" fill="none" stroke="#471365" stroke-width="1.0"/>
<circle cx="431.48" cy="133.10" r="3.7" fill="#440154"/>
<circle cx="431.48" cy="160.50" r="3.00" fill="none" stroke="#471365" stroke-width="1.0"/>
<circle cx="431.48" cy="180.90" r="3.00" fill="none" stroke="#471365" stroke-width="1.0"/>
<circle cx="431.48" cy="221.70" r="2.50" fill="none" stroke="#471365" stroke-width="1.0"/>
<text transform="translate(491.3,79.6) rotate(-45)" font-size="7.5" fill="#231f20" stroke="#231f20" stroke-width="0.15" text-anchor="start" textLength="17.63" lengthAdjust="spacingAndGlyphs">DBS6</text>
<text transform="translate(512.0,79.6) rotate(-45)" font-size="7.5" fill="#231f20" stroke="#231f20" stroke-width="0.15" text-anchor="start" textLength="44.18" lengthAdjust="spacingAndGlyphs">DBS_D—new</text>
<text transform="translate(533.0,79.6) rotate(-45)" font-size="7.5" fill="#231f20" stroke="#231f20" stroke-width="0.15" text-anchor="start" textLength="17.63" lengthAdjust="spacingAndGlyphs">DBS4</text>
<text transform="translate(554.0,79.6) rotate(-45)" font-size="7.5" fill="#231f20" stroke="#231f20" stroke-width="0.15" text-anchor="start" textLength="51.4" lengthAdjust="spacingAndGlyphs">DBS2—tobacco</text>
<text transform="translate(575.9,79.6) rotate(-45)" font-size="7.5" fill="#231f20" stroke="#231f20" stroke-width="0.15" text-anchor="start" textLength="50.35" lengthAdjust="spacingAndGlyphs">DBS1—UV light</text>
<rect x="478.4" y="83.5" width="110.70000000000005" height="60.849999999999994" fill="none" stroke="#555" stroke-width="1.1"/>
<rect x="478.4" y="148.6" width="110.70000000000005" height="83.70000000000002" fill="none" stroke="#555" stroke-width="1.1"/>
<text x="474" y="91.8" font-size="7.5" text-anchor="end" fill="#231f20" stroke="#231f20" stroke-width="0.13" >1.000</text>
<text x="474" y="101.19999999999999" font-size="7.5" text-anchor="end" fill="#231f20" stroke="#231f20" stroke-width="0.13" >0.100</text>
<text x="474" y="111.6" font-size="7.5" text-anchor="end" fill="#231f20" stroke="#231f20" stroke-width="0.13" >0.010</text>
<text x="474" y="121.39999999999999" font-size="7.5" text-anchor="end" fill="#231f20" stroke="#231f20" stroke-width="0.13" >0.001</text>
<g fill="#111"><circle cx="479.20" cy="109.38" r="0.8"/><circle cx="479.40" cy="109.15" r="0.8"/><circle cx="479.60" cy="108.94" r="0.8"/><circle cx="479.80" cy="108.74" r="0.8"/><circle cx="480.00" cy="108.56" r="0.8"/><circle cx="480.21" cy="108.39" r="0.8"/><circle cx="480.41" cy="108.22" r="0.8"/><circle cx="480.61" cy="108.07" r="0.8"/><circle cx="480.81" cy="107.92" r="0.8"/><circle cx="481.01" cy="107.77" r="0.8"/><circle cx="481.21" cy="107.63" r="0.8"/><circle cx="481.41" cy="107.50" r="0.8"/><circle cx="481.61" cy="107.37" r="0.8"/><circle cx="481.81" cy="107.24" r="0.8"/><circle cx="482.02" cy="107.12" r="0.8"/><circle cx="482.22" cy="106.99" r="0.8"/><circle cx="482.42" cy="106.87" r="0.8"/><circle cx="482.62" cy="106.76" r="0.8"/><circle cx="482.82" cy="106.64" r="0.8"/><circle cx="483.02" cy="106.52" r="0.8"/><circle cx="483.22" cy="106.41" r="0.8"/><circle cx="483.42" cy="106.30" r="0.8"/><circle cx="483.62" cy="106.19" r="0.8"/><circle cx="483.83" cy="106.07" r="0.8"/><circle cx="484.03" cy="105.96" r="0.8"/><circle cx="484.23" cy="105.85" r="0.8"/><circle cx="484.43" cy="105.74" r="0.8"/><circle cx="484.63" cy="105.63" r="0.8"/><circle cx="484.83" cy="105.52" r="0.8"/><circle cx="485.03" cy="105.41" r="0.8"/><circle cx="485.23" cy="105.30" r="0.8"/><circle cx="485.43" cy="105.19" r="0.8"/><circle cx="485.63" cy="105.08" r="0.8"/><circle cx="485.84" cy="104.96" r="0.8"/><circle cx="486.04" cy="104.85" r="0.8"/><circle cx="486.24" cy="104.73" r="0.8"/><circle cx="486.44" cy="104.61" r="0.8"/><circle cx="486.64" cy="104.49" r="0.8"/><circle cx="486.84" cy="104.37" r="0.8"/><circle cx="487.04" cy="104.24" r="0.8"/><circle cx="487.24" cy="104.10" r="0.8"/><circle cx="487.44" cy="103.96" r="0.8"/><circle cx="487.65" cy="103.81" r="0.8"/><circle cx="487.85" cy="103.63" r="0.8"/><circle cx="488.05" cy="103.47" r="0.8"/><circle cx="488.25" cy="103.40" r="0.8"/><circle cx="488.45" cy="103.34" r="0.8"/><circle cx="488.65" cy="103.27" r="0.8"/><circle cx="488.85" cy="103.21" r="0.8"/><circle cx="489.05" cy="103.15" r="0.8"/><circle cx="489.25" cy="103.08" r="0.8"/><circle cx="489.45" cy="103.02" r="0.8"/><circle cx="489.66" cy="102.95" r="0.8"/><circle cx="489.86" cy="102.88" r="0.8"/><circle cx="490.06" cy="102.82" r="0.8"/><circle cx="490.26" cy="102.75" r="0.8"/><circle cx="490.46" cy="102.68" r="0.8"/><circle cx="490.66" cy="102.62" r="0.8"/><circle cx="490.86" cy="102.55" r="0.8"/><circle cx="491.06" cy="102.48" r="0.8"/><circle cx="491.26" cy="102.41" r="0.8"/><circle cx="491.47" cy="102.34" r="0.8"/><circle cx="491.67" cy="102.27" r="0.8"/><circle cx="491.87" cy="102.19" r="0.8"/><circle cx="492.07" cy="102.12" r="0.8"/><circle cx="492.27" cy="102.04" r="0.8"/><circle cx="492.47" cy="101.97" r="0.8"/><circle cx="492.67" cy="101.89" r="0.8"/><circle cx="492.87" cy="101.81" r="0.8"/><circle cx="493.07" cy="101.73" r="0.8"/><circle cx="493.28" cy="101.65" r="0.8"/><circle cx="493.48" cy="101.56" r="0.8"/><circle cx="493.68" cy="101.48" r="0.8"/><circle cx="493.88" cy="101.39" r="0.8"/><circle cx="494.08" cy="101.30" r="0.8"/><circle cx="494.28" cy="101.20" r="0.8"/><circle cx="494.48" cy="101.11" r="0.8"/><circle cx="494.68" cy="101.00" r="0.8"/><circle cx="494.88" cy="100.90" r="0.8"/><circle cx="495.08" cy="100.79" r="0.8"/><circle cx="495.29" cy="100.67" r="0.8"/><circle cx="495.49" cy="100.55" r="0.8"/><circle cx="495.69" cy="100.42" r="0.8"/><circle cx="495.89" cy="100.29" r="0.8"/><circle cx="496.09" cy="100.14" r="0.8"/><circle cx="496.29" cy="99.98" r="0.8"/><circle cx="496.49" cy="99.81" r="0.8"/><circle cx="496.69" cy="99.62" r="0.8"/><circle cx="496.89" cy="99.40" r="0.8"/><circle cx="497.10" cy="99.16" r="0.8"/><circle cx="497.30" cy="98.86" r="0.8"/><circle cx="497.50" cy="98.48" r="0.8"/><circle cx="497.70" cy="97.94" r="0.8"/><circle cx="497.90" cy="96.90" r="0.8"/></g>
<line x1="478.5" y1="103.5" x2="498.6" y2="103.5" stroke="#ff0000" stroke-width="1.15"/>
<g fill="#111"><circle cx="501.50" cy="117.70" r="0.8"/><circle cx="501.69" cy="116.25" r="0.8"/><circle cx="501.88" cy="115.50" r="0.8"/><circle cx="502.07" cy="114.97" r="0.8"/><circle cx="502.26" cy="114.56" r="0.8"/><circle cx="502.46" cy="114.21" r="0.8"/><circle cx="502.65" cy="113.91" r="0.8"/><circle cx="502.84" cy="113.64" r="0.8"/><circle cx="503.03" cy="113.40" r="0.8"/><circle cx="503.22" cy="113.18" r="0.8"/><circle cx="503.42" cy="112.98" r="0.8"/><circle cx="503.61" cy="112.79" r="0.8"/><circle cx="503.80" cy="112.61" r="0.8"/><circle cx="503.99" cy="112.44" r="0.8"/><circle cx="504.18" cy="112.28" r="0.8"/><circle cx="504.38" cy="112.13" r="0.8"/><circle cx="504.57" cy="111.98" r="0.8"/><circle cx="504.76" cy="111.84" r="0.8"/><circle cx="504.95" cy="111.70" r="0.8"/><circle cx="505.14" cy="111.57" r="0.8"/><circle cx="505.34" cy="111.44" r="0.8"/><circle cx="505.53" cy="111.32" r="0.8"/><circle cx="505.72" cy="111.20" r="0.8"/><circle cx="505.91" cy="111.08" r="0.8"/><circle cx="506.10" cy="110.97" r="0.8"/><circle cx="506.30" cy="110.85" r="0.8"/><circle cx="506.49" cy="110.74" r="0.8"/><circle cx="506.68" cy="110.63" r="0.8"/><circle cx="506.87" cy="110.53" r="0.8"/><circle cx="507.06" cy="110.42" r="0.8"/><circle cx="507.26" cy="110.32" r="0.8"/><circle cx="507.45" cy="110.22" r="0.8"/><circle cx="507.64" cy="110.12" r="0.8"/><circle cx="507.83" cy="110.02" r="0.8"/><circle cx="508.02" cy="109.92" r="0.8"/><circle cx="508.22" cy="109.83" r="0.8"/><circle cx="508.41" cy="109.73" r="0.8"/><circle cx="508.60" cy="109.64" r="0.8"/><circle cx="508.79" cy="109.54" r="0.8"/><circle cx="508.98" cy="109.45" r="0.8"/><circle cx="509.18" cy="109.36" r="0.8"/><circle cx="509.37" cy="109.27" r="0.8"/><circle cx="509.56" cy="109.18" r="0.8"/><circle cx="509.75" cy="109.08" r="0.8"/><circle cx="509.94" cy="108.99" r="0.8"/><circle cx="510.14" cy="108.90" r="0.8"/><circle cx="510.33" cy="108.81" r="0.8"/><circle cx="510.52" cy="108.72" r="0.8"/><circle cx="510.71" cy="108.63" r="0.8"/><circle cx="510.90" cy="108.54" r="0.8"/><circle cx="511.10" cy="108.45" r="0.8"/><circle cx="511.29" cy="108.35" r="0.8"/><circle cx="511.48" cy="108.24" r="0.8"/><circle cx="511.67" cy="108.14" r="0.8"/><circle cx="511.86" cy="108.04" r="0.8"/><circle cx="512.06" cy="107.94" r="0.8"/><circle cx="512.25" cy="107.83" r="0.8"/><circle cx="512.44" cy="107.73" r="0.8"/><circle cx="512.63" cy="107.62" r="0.8"/><circle cx="512.82" cy="107.52" r="0.8"/><circle cx="513.02" cy="107.41" r="0.8"/><circle cx="513.21" cy="107.31" r="0.8"/><circle cx="513.40" cy="107.20" r="0.8"/><circle cx="513.59" cy="107.09" r="0.8"/><circle cx="513.78" cy="106.98" r="0.8"/><circle cx="513.98" cy="106.87" r="0.8"/><circle cx="514.17" cy="106.76" r="0.8"/><circle cx="514.36" cy="106.65" r="0.8"/><circle cx="514.55" cy="106.54" r="0.8"/><circle cx="514.74" cy="106.42" r="0.8"/><circle cx="514.94" cy="106.30" r="0.8"/><circle cx="515.13" cy="106.18" r="0.8"/><circle cx="515.32" cy="106.06" r="0.8"/><circle cx="515.51" cy="105.94" r="0.8"/><circle cx="515.70" cy="105.81" r="0.8"/><circle cx="515.90" cy="105.69" r="0.8"/><circle cx="516.09" cy="105.55" r="0.8"/><circle cx="516.28" cy="105.42" r="0.8"/><circle cx="516.47" cy="105.28" r="0.8"/><circle cx="516.66" cy="105.14" r="0.8"/><circle cx="516.86" cy="105.00" r="0.8"/><circle cx="517.05" cy="104.85" r="0.8"/><circle cx="517.24" cy="104.69" r="0.8"/><circle cx="517.43" cy="104.53" r="0.8"/><circle cx="517.62" cy="104.36" r="0.8"/><circle cx="517.82" cy="104.19" r="0.8"/><circle cx="518.01" cy="104.00" r="0.8"/><circle cx="518.20" cy="103.81" r="0.8"/><circle cx="518.39" cy="103.61" r="0.8"/><circle cx="518.58" cy="103.39" r="0.8"/><circle cx="518.78" cy="103.16" r="0.8"/><circle cx="518.97" cy="102.91" r="0.8"/><circle cx="519.16" cy="102.63" r="0.8"/><circle cx="519.35" cy="102.33" r="0.8"/><circle cx="519.54" cy="101.99" r="0.8"/><circle cx="519.74" cy="101.59" r="0.8"/><circle cx="519.93" cy="101.11" r="0.8"/><circle cx="520.12" cy="100.51" r="0.8"/><circle cx="520.31" cy="99.65" r="0.8"/><circle cx="520.50" cy="98.00" r="0.8"/></g>
<line x1="500.8" y1="108.5" x2="521.2" y2="108.5" stroke="#ff0000" stroke-width="1.15"/>
<g fill="#111"><circle cx="524.10" cy="116.60" r="0.8"/><circle cx="524.29" cy="115.61" r="0.8"/><circle cx="524.48" cy="115.09" r="0.8"/><circle cx="524.67" cy="114.71" r="0.8"/><circle cx="524.86" cy="114.41" r="0.8"/><circle cx="525.05" cy="114.16" r="0.8"/><circle cx="525.24" cy="113.93" r="0.8"/><circle cx="525.43" cy="113.73" r="0.8"/><circle cx="525.62" cy="113.55" r="0.8"/><circle cx="525.81" cy="113.38" r="0.8"/><circle cx="526.01" cy="113.23" r="0.8"/><circle cx="526.20" cy="113.08" r="0.8"/><circle cx="526.39" cy="112.94" r="0.8"/><circle cx="526.58" cy="112.81" r="0.8"/><circle cx="526.77" cy="112.68" r="0.8"/><circle cx="526.96" cy="112.56" r="0.8"/><circle cx="527.15" cy="112.44" r="0.8"/><circle cx="527.34" cy="112.32" r="0.8"/><circle cx="527.53" cy="112.21" r="0.8"/><circle cx="527.72" cy="112.10" r="0.8"/><circle cx="527.92" cy="111.99" r="0.8"/><circle cx="528.11" cy="111.89" r="0.8"/><circle cx="528.30" cy="111.79" r="0.8"/><circle cx="528.49" cy="111.68" r="0.8"/><circle cx="528.68" cy="111.59" r="0.8"/><circle cx="528.87" cy="111.49" r="0.8"/><circle cx="529.06" cy="111.39" r="0.8"/><circle cx="529.25" cy="111.29" r="0.8"/><circle cx="529.44" cy="111.20" r="0.8"/><circle cx="529.63" cy="111.10" r="0.8"/><circle cx="529.83" cy="111.01" r="0.8"/><circle cx="530.02" cy="110.91" r="0.8"/><circle cx="530.21" cy="110.82" r="0.8"/><circle cx="530.40" cy="110.73" r="0.8"/><circle cx="530.59" cy="110.63" r="0.8"/><circle cx="530.78" cy="110.54" r="0.8"/><circle cx="530.97" cy="110.44" r="0.8"/><circle cx="531.16" cy="110.35" r="0.8"/><circle cx="531.35" cy="110.25" r="0.8"/><circle cx="531.54" cy="110.15" r="0.8"/><circle cx="531.74" cy="110.05" r="0.8"/><circle cx="531.93" cy="109.95" r="0.8"/><circle cx="532.12" cy="109.85" r="0.8"/><circle cx="532.31" cy="109.75" r="0.8"/><circle cx="532.50" cy="109.64" r="0.8"/><circle cx="532.69" cy="109.53" r="0.8"/><circle cx="532.88" cy="109.42" r="0.8"/><circle cx="533.07" cy="109.29" r="0.8"/><circle cx="533.26" cy="109.16" r="0.8"/><circle cx="533.45" cy="109.01" r="0.8"/><circle cx="533.65" cy="108.79" r="0.8"/><circle cx="533.84" cy="108.64" r="0.8"/><circle cx="534.03" cy="108.51" r="0.8"/><circle cx="534.22" cy="108.39" r="0.8"/><circle cx="534.41" cy="108.28" r="0.8"/><circle cx="534.60" cy="108.17" r="0.8"/><circle cx="534.79" cy="108.06" r="0.8"/><circle cx="534.98" cy="107.96" r="0.8"/><circle cx="535.17" cy="107.86" r="0.8"/><circle cx="535.36" cy="107.76" r="0.8"/><circle cx="535.56" cy="107.66" r="0.8"/><circle cx="535.75" cy="107.57" r="0.8"/><circle cx="535.94" cy="107.47" r="0.8"/><circle cx="536.13" cy="107.38" r="0.8"/><circle cx="536.32" cy="107.28" r="0.8"/><circle cx="536.51" cy="107.19" r="0.8"/><circle cx="536.70" cy="107.10" r="0.8"/><circle cx="536.89" cy="107.01" r="0.8"/><circle cx="537.08" cy="106.91" r="0.8"/><circle cx="537.27" cy="106.82" r="0.8"/><circle cx="537.47" cy="106.73" r="0.8"/><circle cx="537.66" cy="106.63" r="0.8"/><circle cx="537.85" cy="106.54" r="0.8"/><circle cx="538.04" cy="106.44" r="0.8"/><circle cx="538.23" cy="106.35" r="0.8"/><circle cx="538.42" cy="106.25" r="0.8"/><circle cx="538.61" cy="106.15" r="0.8"/><circle cx="538.80" cy="106.05" r="0.8"/><circle cx="538.99" cy="105.95" r="0.8"/><circle cx="539.18" cy="105.85" r="0.8"/><circle cx="539.38" cy="105.74" r="0.8"/><circle cx="539.57" cy="105.63" r="0.8"/><circle cx="539.76" cy="105.52" r="0.8"/><circle cx="539.95" cy="105.41" r="0.8"/><circle cx="540.14" cy="105.29" r="0.8"/><circle cx="540.33" cy="105.17" r="0.8"/><circle cx="540.52" cy="105.04" r="0.8"/><circle cx="540.71" cy="104.91" r="0.8"/><circle cx="540.90" cy="104.77" r="0.8"/><circle cx="541.09" cy="104.63" r="0.8"/><circle cx="541.29" cy="104.47" r="0.8"/><circle cx="541.48" cy="104.31" r="0.8"/><circle cx="541.67" cy="104.13" r="0.8"/><circle cx="541.86" cy="103.93" r="0.8"/><circle cx="542.05" cy="103.71" r="0.8"/><circle cx="542.24" cy="103.46" r="0.8"/><circle cx="542.43" cy="103.16" r="0.8"/><circle cx="542.62" cy="102.79" r="0.8"/><circle cx="542.81" cy="102.27" r="0.8"/><circle cx="543.00" cy="101.30" r="0.8"/></g>
<line x1="523.4" y1="108.9" x2="543.7" y2="108.9" stroke="#ff0000" stroke-width="1.15"/>
<g fill="#111"><circle cx="546.40" cy="116.60" r="0.8"/><circle cx="546.59" cy="115.50" r="0.8"/><circle cx="546.78" cy="114.93" r="0.8"/><circle cx="546.97" cy="114.52" r="0.8"/><circle cx="547.16" cy="114.21" r="0.8"/><circle cx="547.35" cy="113.94" r="0.8"/><circle cx="547.54" cy="113.71" r="0.8"/><circle cx="547.73" cy="113.51" r="0.8"/><circle cx="547.92" cy="113.33" r="0.8"/><circle cx="548.11" cy="113.16" r="0.8"/><circle cx="548.31" cy="113.01" r="0.8"/><circle cx="548.50" cy="112.86" r="0.8"/><circle cx="548.69" cy="112.73" r="0.8"/><circle cx="548.88" cy="112.60" r="0.8"/><circle cx="549.07" cy="112.48" r="0.8"/><circle cx="549.26" cy="112.36" r="0.8"/><circle cx="549.45" cy="112.25" r="0.8"/><circle cx="549.64" cy="112.14" r="0.8"/><circle cx="549.83" cy="112.04" r="0.8"/><circle cx="550.02" cy="111.94" r="0.8"/><circle cx="550.22" cy="111.84" r="0.8"/><circle cx="550.41" cy="111.74" r="0.8"/><circle cx="550.60" cy="111.65" r="0.8"/><circle cx="550.79" cy="111.56" r="0.8"/><circle cx="550.98" cy="111.48" r="0.8"/><circle cx="551.17" cy="111.39" r="0.8"/><circle cx="551.36" cy="111.31" r="0.8"/><circle cx="551.55" cy="111.22" r="0.8"/><circle cx="551.74" cy="111.14" r="0.8"/><circle cx="551.93" cy="111.06" r="0.8"/><circle cx="552.13" cy="110.99" r="0.8"/><circle cx="552.32" cy="110.91" r="0.8"/><circle cx="552.51" cy="110.83" r="0.8"/><circle cx="552.70" cy="110.76" r="0.8"/><circle cx="552.89" cy="110.68" r="0.8"/><circle cx="553.08" cy="110.61" r="0.8"/><circle cx="553.27" cy="110.54" r="0.8"/><circle cx="553.46" cy="110.47" r="0.8"/><circle cx="553.65" cy="110.39" r="0.8"/><circle cx="553.84" cy="110.32" r="0.8"/><circle cx="554.04" cy="110.25" r="0.8"/><circle cx="554.23" cy="110.18" r="0.8"/><circle cx="554.42" cy="110.11" r="0.8"/><circle cx="554.61" cy="110.04" r="0.8"/><circle cx="554.80" cy="109.98" r="0.8"/><circle cx="554.99" cy="109.91" r="0.8"/><circle cx="555.18" cy="109.84" r="0.8"/><circle cx="555.37" cy="109.77" r="0.8"/><circle cx="555.56" cy="109.70" r="0.8"/><circle cx="555.75" cy="109.63" r="0.8"/><circle cx="555.95" cy="109.47" r="0.8"/><circle cx="556.14" cy="109.24" r="0.8"/><circle cx="556.33" cy="109.04" r="0.8"/><circle cx="556.52" cy="108.84" r="0.8"/><circle cx="556.71" cy="108.64" r="0.8"/><circle cx="556.90" cy="108.45" r="0.8"/><circle cx="557.09" cy="108.26" r="0.8"/><circle cx="557.28" cy="108.07" r="0.8"/><circle cx="557.47" cy="107.89" r="0.8"/><circle cx="557.66" cy="107.71" r="0.8"/><circle cx="557.86" cy="107.52" r="0.8"/><circle cx="558.05" cy="107.34" r="0.8"/><circle cx="558.24" cy="107.16" r="0.8"/><circle cx="558.43" cy="106.98" r="0.8"/><circle cx="558.62" cy="106.80" r="0.8"/><circle cx="558.81" cy="106.61" r="0.8"/><circle cx="559.00" cy="106.43" r="0.8"/><circle cx="559.19" cy="106.25" r="0.8"/><circle cx="559.38" cy="106.06" r="0.8"/><circle cx="559.57" cy="105.87" r="0.8"/><circle cx="559.77" cy="105.69" r="0.8"/><circle cx="559.96" cy="105.50" r="0.8"/><circle cx="560.15" cy="105.30" r="0.8"/><circle cx="560.34" cy="105.11" r="0.8"/><circle cx="560.53" cy="104.91" r="0.8"/><circle cx="560.72" cy="104.71" r="0.8"/><circle cx="560.91" cy="104.50" r="0.8"/><circle cx="561.10" cy="104.30" r="0.8"/><circle cx="561.29" cy="104.08" r="0.8"/><circle cx="561.48" cy="103.86" r="0.8"/><circle cx="561.68" cy="103.64" r="0.8"/><circle cx="561.87" cy="103.41" r="0.8"/><circle cx="562.06" cy="103.18" r="0.8"/><circle cx="562.25" cy="102.93" r="0.8"/><circle cx="562.44" cy="102.68" r="0.8"/><circle cx="562.63" cy="102.42" r="0.8"/><circle cx="562.82" cy="102.14" r="0.8"/><circle cx="563.01" cy="101.85" r="0.8"/><circle cx="563.20" cy="101.55" r="0.8"/><circle cx="563.39" cy="101.23" r="0.8"/><circle cx="563.59" cy="100.89" r="0.8"/><circle cx="563.78" cy="100.52" r="0.8"/><circle cx="563.97" cy="100.12" r="0.8"/><circle cx="564.16" cy="99.68" r="0.8"/><circle cx="564.35" cy="99.19" r="0.8"/><circle cx="564.54" cy="98.62" r="0.8"/><circle cx="564.73" cy="97.94" r="0.8"/><circle cx="564.92" cy="97.09" r="0.8"/><circle cx="565.11" cy="95.89" r="0.8"/><circle cx="565.30" cy="93.60" r="0.8"/></g>
<line x1="545.7" y1="109.6" x2="566" y2="109.6" stroke="#ff0000" stroke-width="1.15"/>
<g fill="#6a6a6a"><circle cx="568.90" cy="116.60" r="0.68"/><circle cx="569.09" cy="115.73" r="0.68"/><circle cx="569.28" cy="115.28" r="0.68"/><circle cx="569.47" cy="114.97" r="0.68"/><circle cx="569.66" cy="114.72" r="0.68"/><circle cx="569.86" cy="114.51" r="0.68"/><circle cx="570.05" cy="114.33" r="0.68"/><circle cx="570.24" cy="114.17" r="0.68"/><circle cx="570.43" cy="114.03" r="0.68"/><circle cx="570.62" cy="113.90" r="0.68"/><circle cx="570.82" cy="113.78" r="0.68"/><circle cx="571.01" cy="113.66" r="0.68"/><circle cx="571.20" cy="113.56" r="0.68"/><circle cx="571.39" cy="113.46" r="0.68"/><circle cx="571.58" cy="113.36" r="0.68"/><circle cx="571.78" cy="113.27" r="0.68"/><circle cx="571.97" cy="113.18" r="0.68"/><circle cx="572.16" cy="113.10" r="0.68"/><circle cx="572.35" cy="113.01" r="0.68"/><circle cx="572.54" cy="112.94" r="0.68"/><circle cx="572.74" cy="112.86" r="0.68"/><circle cx="572.93" cy="112.79" r="0.68"/><circle cx="573.12" cy="112.71" r="0.68"/><circle cx="573.31" cy="112.64" r="0.68"/><circle cx="573.50" cy="112.57" r="0.68"/><circle cx="573.70" cy="112.51" r="0.68"/><circle cx="573.89" cy="112.44" r="0.68"/><circle cx="574.08" cy="112.38" r="0.68"/><circle cx="574.27" cy="112.31" r="0.68"/><circle cx="574.46" cy="112.25" r="0.68"/><circle cx="574.66" cy="112.19" r="0.68"/><circle cx="574.85" cy="112.13" r="0.68"/><circle cx="575.04" cy="112.07" r="0.68"/><circle cx="575.23" cy="112.01" r="0.68"/><circle cx="575.42" cy="111.95" r="0.68"/><circle cx="575.62" cy="111.89" r="0.68"/><circle cx="575.81" cy="111.84" r="0.68"/><circle cx="576.00" cy="111.78" r="0.68"/><circle cx="576.19" cy="111.72" r="0.68"/><circle cx="576.38" cy="111.67" r="0.68"/><circle cx="576.58" cy="111.61" r="0.68"/><circle cx="576.77" cy="111.56" r="0.68"/><circle cx="576.96" cy="111.50" r="0.68"/><circle cx="577.15" cy="111.45" r="0.68"/><circle cx="577.34" cy="111.40" r="0.68"/><circle cx="577.54" cy="111.34" r="0.68"/><circle cx="577.73" cy="111.29" r="0.68"/><circle cx="577.92" cy="111.23" r="0.68"/><circle cx="578.11" cy="111.18" r="0.68"/><circle cx="578.30" cy="111.13" r="0.68"/><circle cx="578.50" cy="111.10" r="0.68"/><circle cx="578.69" cy="111.10" r="0.68"/><circle cx="578.88" cy="111.10" r="0.68"/><circle cx="579.07" cy="111.10" r="0.68"/><circle cx="579.26" cy="111.10" r="0.68"/><circle cx="579.46" cy="111.10" r="0.68"/><circle cx="579.65" cy="111.09" r="0.68"/><circle cx="579.84" cy="111.09" r="0.68"/><circle cx="580.03" cy="111.08" r="0.68"/><circle cx="580.22" cy="111.08" r="0.68"/><circle cx="580.42" cy="111.07" r="0.68"/><circle cx="580.61" cy="111.06" r="0.68"/><circle cx="580.80" cy="111.05" r="0.68"/><circle cx="580.99" cy="111.04" r="0.68"/><circle cx="581.18" cy="111.02" r="0.68"/><circle cx="581.38" cy="111.00" r="0.68"/><circle cx="581.57" cy="110.98" r="0.68"/><circle cx="581.76" cy="110.95" r="0.68"/><circle cx="581.95" cy="110.92" r="0.68"/><circle cx="582.14" cy="110.89" r="0.68"/><circle cx="582.34" cy="110.85" r="0.68"/><circle cx="582.53" cy="110.81" r="0.68"/><circle cx="582.72" cy="110.76" r="0.68"/><circle cx="582.91" cy="110.71" r="0.68"/><circle cx="583.10" cy="110.65" r="0.68"/><circle cx="583.30" cy="110.58" r="0.68"/><circle cx="583.49" cy="110.51" r="0.68"/><circle cx="583.68" cy="110.42" r="0.68"/><circle cx="583.87" cy="110.33" r="0.68"/><circle cx="584.06" cy="110.22" r="0.68"/><circle cx="584.26" cy="110.10" r="0.68"/><circle cx="584.45" cy="109.97" r="0.68"/><circle cx="584.64" cy="109.82" r="0.68"/><circle cx="584.83" cy="109.65" r="0.68"/><circle cx="585.02" cy="109.45" r="0.68"/><circle cx="585.22" cy="109.24" r="0.68"/><circle cx="585.41" cy="108.99" r="0.68"/><circle cx="585.60" cy="108.70" r="0.68"/><circle cx="585.79" cy="108.38" r="0.68"/><circle cx="585.98" cy="108.00" r="0.68"/><circle cx="586.18" cy="107.56" r="0.68"/><circle cx="586.37" cy="107.03" r="0.68"/><circle cx="586.56" cy="106.40" r="0.68"/><circle cx="586.75" cy="105.64" r="0.68"/><circle cx="586.94" cy="104.67" r="0.68"/><circle cx="587.14" cy="103.43" r="0.68"/><circle cx="587.33" cy="101.74" r="0.68"/><circle cx="587.52" cy="99.25" r="0.68"/><circle cx="587.71" cy="95.01" r="0.68"/><circle cx="587.90" cy="84.20" r="0.68"/></g>
<line x1="568.2" y1="111.1" x2="588.6" y2="111.1" stroke="#ff0000" stroke-width="1.15"/>
<circle cx="488.70" cy="133.10" r="3.8" fill="#482475"/>
<circle cx="488.70" cy="160.50" r="2.5" fill="#440154"/>
<circle cx="488.70" cy="180.90" r="3.0" fill="#460c5e"/>
<circle cx="488.70" cy="201.30" r="3.6" fill="#471365"/>
<circle cx="488.70" cy="221.70" r="5.0" fill="#3b528b"/>
<circle cx="511.05" cy="133.10" r="3.8" fill="#31678e"/>
<circle cx="511.05" cy="160.50" r="3.00" fill="none" stroke="#355f8d" stroke-width="1.0"/>
<circle cx="511.05" cy="180.90" r="3.00" fill="none" stroke="#355f8d" stroke-width="1.0"/>
<circle cx="511.05" cy="221.70" r="3.50" fill="none" stroke="#375a8c" stroke-width="1.0"/>
<circle cx="533.40" cy="133.10" r="5.3" fill="#22a884"/>
<circle cx="533.40" cy="160.50" r="5.0" fill="#22a884"/>
<circle cx="533.40" cy="180.90" r="5.7" fill="#6fce58"/>
<circle cx="533.40" cy="201.30" r="6.5" fill="#fde725"/>
<circle cx="533.40" cy="221.70" r="4.2" fill="#3b528b"/>
<circle cx="555.75" cy="133.10" r="5.7" fill="#20a386"/>
<circle cx="555.75" cy="160.50" r="5.1" fill="#2f6c8e"/>
<circle cx="555.75" cy="180.90" r="5.5" fill="#2c738e"/>
<circle cx="555.75" cy="201.30" r="6.3" fill="#6fce58"/>
<circle cx="555.75" cy="221.70" r="6.3" fill="#fde725"/>
<circle cx="578.10" cy="133.10" r="3.8" fill="#414487"/>
<circle cx="578.10" cy="160.50" r="4.6" fill="#2c738e"/>
<circle cx="578.10" cy="180.90" r="3.3" fill="#482475"/>
<text x="601.5" y="100.7" font-size="8.4" text-anchor="start" fill="#231f20" stroke="#231f20" stroke-width="0.13" textLength="83" lengthAdjust="spacingAndGlyphs" >Proportion of tumors</text>
<text x="601.5" y="111" font-size="8.4" text-anchor="start" fill="#231f20" stroke="#231f20" stroke-width="0.13" textLength="71.5" lengthAdjust="spacingAndGlyphs" >with the signature</text>
<circle cx="605.3" cy="123.8" r="4.3" fill="#000"/>
<text x="618.6" y="126.8" font-size="8.4" text-anchor="start" fill="#231f20" stroke="#231f20" stroke-width="0.13" textLength="17" lengthAdjust="spacingAndGlyphs" >0.25</text>
<circle cx="606.3" cy="140.8" r="5.3" fill="#000"/>
<text x="618.6" y="143.8" font-size="8.4" text-anchor="start" fill="#231f20" stroke="#231f20" stroke-width="0.13" textLength="17" lengthAdjust="spacingAndGlyphs" >0.50</text>
<circle cx="607.1" cy="159.3" r="6.1" fill="#000"/>
<text x="618.6" y="162.3" font-size="8.4" text-anchor="start" fill="#231f20" stroke="#231f20" stroke-width="0.13" textLength="17" lengthAdjust="spacingAndGlyphs" >0.75</text>
<circle cx="607.9" cy="179.1" r="6.9" fill="#000"/>
<text x="618.6" y="182.1" font-size="8.4" text-anchor="start" fill="#231f20" stroke="#231f20" stroke-width="0.13" textLength="17" lengthAdjust="spacingAndGlyphs" >1.00</text>
<circle cx="607.4" cy="202" r="1.8" fill="#000"/>
<circle cx="607.4" cy="215.8" r="1.5" fill="none" stroke="#000" stroke-width="0.9"/>
<text x="613.7" y="205.2" font-size="8.8" fill="#231f20" stroke="#231f20" stroke-width="0.18"><tspan font-style="italic">P</tspan><tspan font-size="5.6" dy="1.8">adj</tspan><tspan dy="-1.8"> &lt; 0.05</tspan></text>
<text x="613.7" y="219.0" font-size="8.8" fill="#231f20" stroke="#231f20" stroke-width="0.18"><tspan font-style="italic">P</tspan><tspan font-size="5.6" dy="1.8">adj</tspan><tspan dy="-1.8"> &gt; 0.05</tspan></text>
<rect x="239.3" y="241.4" width="65.39999999999998" height="13.199999999999989" fill="url(#vg)"/>
<line x1="257.6" y1="241.4" x2="257.6" y2="244.0" stroke="#fff" stroke-width="0.8" stroke-opacity="0.85"/>
<line x1="257.6" y1="252.0" x2="257.6" y2="254.6" stroke="#fff" stroke-width="0.8" stroke-opacity="0.85"/>
<line x1="275.4" y1="241.4" x2="275.4" y2="244.0" stroke="#fff" stroke-width="0.8" stroke-opacity="0.85"/>
<line x1="275.4" y1="252.0" x2="275.4" y2="254.6" stroke="#fff" stroke-width="0.8" stroke-opacity="0.85"/>
<line x1="293.4" y1="241.4" x2="293.4" y2="244.0" stroke="#fff" stroke-width="0.8" stroke-opacity="0.85"/>
<line x1="293.4" y1="252.0" x2="293.4" y2="254.6" stroke="#fff" stroke-width="0.8" stroke-opacity="0.85"/>
<text x="239.3" y="263.6" font-size="7" text-anchor="middle" fill="#231f20" stroke="#231f20" stroke-width="0.13" >0</text>
<text x="257.6" y="263.6" font-size="7" text-anchor="middle" fill="#231f20" stroke="#231f20" stroke-width="0.13" >0.05</text>
<text x="275.4" y="263.6" font-size="7" text-anchor="middle" fill="#231f20" stroke="#231f20" stroke-width="0.13" >0.10</text>
<text x="293.4" y="263.6" font-size="7" text-anchor="middle" fill="#231f20" stroke="#231f20" stroke-width="0.13" >0.15</text>
<text x="207.0" y="251.6" font-size="8.4" text-anchor="middle" fill="#231f20" stroke="#231f20" stroke-width="0.13" textLength="53.7" lengthAdjust="spacingAndGlyphs" >Mean relative</text>
<text x="207.0" y="261.3" font-size="8.4" text-anchor="middle" fill="#231f20" stroke="#231f20" stroke-width="0.13" textLength="42" lengthAdjust="spacingAndGlyphs" >attribution</text>
<rect x="528.5" y="241.4" width="66.20000000000005" height="13.199999999999989" fill="url(#vg)"/>
<line x1="548.7" y1="241.4" x2="548.7" y2="244.0" stroke="#fff" stroke-width="0.8" stroke-opacity="0.85"/>
<line x1="548.7" y1="252.0" x2="548.7" y2="254.6" stroke="#fff" stroke-width="0.8" stroke-opacity="0.85"/>
<line x1="568.8" y1="241.4" x2="568.8" y2="244.0" stroke="#fff" stroke-width="0.8" stroke-opacity="0.85"/>
<line x1="568.8" y1="252.0" x2="568.8" y2="254.6" stroke="#fff" stroke-width="0.8" stroke-opacity="0.85"/>
<line x1="588.5" y1="241.4" x2="588.5" y2="244.0" stroke="#fff" stroke-width="0.8" stroke-opacity="0.85"/>
<line x1="588.5" y1="252.0" x2="588.5" y2="254.6" stroke="#fff" stroke-width="0.8" stroke-opacity="0.85"/>
<text x="529" y="263.6" font-size="7" text-anchor="middle" fill="#231f20" stroke="#231f20" stroke-width="0.13" >0</text>
<text x="548.7" y="263.6" font-size="7" text-anchor="middle" fill="#231f20" stroke="#231f20" stroke-width="0.13" >0.1</text>
<text x="568.8" y="263.6" font-size="7" text-anchor="middle" fill="#231f20" stroke="#231f20" stroke-width="0.13" >0.2</text>
<text x="588.5" y="263.6" font-size="7" text-anchor="middle" fill="#231f20" stroke="#231f20" stroke-width="0.13" >0.3</text>
<text x="496.7" y="251.6" font-size="8.4" text-anchor="middle" fill="#231f20" stroke="#231f20" stroke-width="0.13" textLength="53.7" lengthAdjust="spacingAndGlyphs" >Mean relative</text>
<text x="496.7" y="261.3" font-size="8.4" text-anchor="middle" fill="#231f20" stroke="#231f20" stroke-width="0.13" textLength="42" lengthAdjust="spacingAndGlyphs" >attribution</text>
<rect x="190.6" y="494.2" width="66.50000000000003" height="13.900000000000034" fill="url(#vg)"/>
<line x1="209.6" y1="494.2" x2="209.6" y2="496.8" stroke="#fff" stroke-width="0.8" stroke-opacity="0.85"/>
<line x1="209.6" y1="505.5" x2="209.6" y2="508.1" stroke="#fff" stroke-width="0.8" stroke-opacity="0.85"/>
<line x1="228" y1="494.2" x2="228" y2="496.8" stroke="#fff" stroke-width="0.8" stroke-opacity="0.85"/>
<line x1="228" y1="505.5" x2="228" y2="508.1" stroke="#fff" stroke-width="0.8" stroke-opacity="0.85"/>
<line x1="246.3" y1="494.2" x2="246.3" y2="496.8" stroke="#fff" stroke-width="0.8" stroke-opacity="0.85"/>
<line x1="246.3" y1="505.5" x2="246.3" y2="508.1" stroke="#fff" stroke-width="0.8" stroke-opacity="0.85"/>
<text x="191.2" y="517.1" font-size="7" text-anchor="middle" fill="#231f20" stroke="#231f20" stroke-width="0.13" >0</text>
<text x="209.6" y="517.1" font-size="7" text-anchor="middle" fill="#231f20" stroke="#231f20" stroke-width="0.13" >0.1</text>
<text x="228" y="517.1" font-size="7" text-anchor="middle" fill="#231f20" stroke="#231f20" stroke-width="0.13" >0.2</text>
<text x="246.3" y="517.1" font-size="7" text-anchor="middle" fill="#231f20" stroke="#231f20" stroke-width="0.13" >0.3</text>
<text x="159.4" y="505.0" font-size="8.4" text-anchor="middle" fill="#231f20" stroke="#231f20" stroke-width="0.13" textLength="53.7" lengthAdjust="spacingAndGlyphs" >Mean relative</text>
<text x="159.4" y="514.9" font-size="8.4" text-anchor="middle" fill="#231f20" stroke="#231f20" stroke-width="0.13" textLength="42" lengthAdjust="spacingAndGlyphs" >attribution</text>
<text transform="translate(70.2,333.0) rotate(-45)" font-size="7.5" fill="#231f20" stroke="#231f20" stroke-width="0.15" text-anchor="start" textLength="46.98" lengthAdjust="spacingAndGlyphs">ID13—UV light</text>
<text transform="translate(90.8,333.0) rotate(-45)" font-size="7.5" fill="#231f20" stroke="#231f20" stroke-width="0.15" text-anchor="start" textLength="48.84" lengthAdjust="spacingAndGlyphs">ID1—clock-like</text>
<text transform="translate(111.4,333.0) rotate(-45)" font-size="7.5" fill="#231f20" stroke="#231f20" stroke-width="0.15" text-anchor="start" textLength="10.5" lengthAdjust="spacingAndGlyphs">ID5</text>
<text transform="translate(132.0,333.0) rotate(-45)" font-size="7.5" fill="#231f20" stroke="#231f20" stroke-width="0.15" text-anchor="start" textLength="44.27" lengthAdjust="spacingAndGlyphs">ID3—tobacco</text>
<text transform="translate(152.6,333.0) rotate(-45)" font-size="7.5" fill="#231f20" stroke="#231f20" stroke-width="0.15" text-anchor="start" textLength="48.84" lengthAdjust="spacingAndGlyphs">ID2—clock-like</text>
<text transform="translate(173.2,333.0) rotate(-45)" font-size="7.5" fill="#231f20" stroke="#231f20" stroke-width="0.15" text-anchor="start" textLength="10.5" lengthAdjust="spacingAndGlyphs">ID9</text>
<text transform="translate(193.8,333.0) rotate(-45)" font-size="7.5" fill="#231f20" stroke="#231f20" stroke-width="0.15" text-anchor="start" textLength="45.53" lengthAdjust="spacingAndGlyphs">ID11—alcohol</text>
<text transform="translate(214.4,333.0) rotate(-45)" font-size="7.5" fill="#231f20" stroke="#231f20" stroke-width="0.15" text-anchor="start" textLength="59.86" lengthAdjust="spacingAndGlyphs">ID6—defective HR</text>
<text transform="translate(235.0,333.0) rotate(-45)" font-size="7.5" fill="#231f20" stroke="#231f20" stroke-width="0.15" text-anchor="start" textLength="14.26" lengthAdjust="spacingAndGlyphs">ID14</text>
<text transform="translate(255.6,333.0) rotate(-45)" font-size="7.5" fill="#231f20" stroke="#231f20" stroke-width="0.15" text-anchor="start" textLength="53.14" lengthAdjust="spacingAndGlyphs">ID8—DSB repair</text>
<text transform="translate(276.2,333.0) rotate(-45)" font-size="7.5" fill="#231f20" stroke="#231f20" stroke-width="0.15" text-anchor="start" textLength="14.26" lengthAdjust="spacingAndGlyphs">ID12</text>
<text transform="translate(296.8,333.0) rotate(-45)" font-size="7.5" fill="#231f20" stroke="#231f20" stroke-width="0.15" text-anchor="start" textLength="10.5" lengthAdjust="spacingAndGlyphs">ID4</text>
<rect x="64.6" y="336.3" width="243.70000000000002" height="60.69999999999999" fill="none" stroke="#555" stroke-width="1.1"/>
<rect x="64.6" y="401.5" width="243.70000000000002" height="83.39999999999998" fill="none" stroke="#555" stroke-width="1.1"/>
<text x="60.3" y="345.40000000000003" font-size="7.5" text-anchor="end" fill="#231f20" stroke="#231f20" stroke-width="0.13" >1.00</text>
<text x="60.3" y="357.40000000000003" font-size="7.5" text-anchor="end" fill="#231f20" stroke="#231f20" stroke-width="0.13" >0.10</text>
<text x="60.3" y="369.6" font-size="7.5" text-anchor="end" fill="#231f20" stroke="#231f20" stroke-width="0.13" >0.01</text>
<text x="40.9" y="351.8" font-size="8.4" text-anchor="end" fill="#231f20" stroke="#231f20" stroke-width="0.13" textLength="39.4" lengthAdjust="spacingAndGlyphs" >Mutations</text>
<text x="40.9" y="362.2" font-size="8.4" text-anchor="end" fill="#231f20" stroke="#231f20" stroke-width="0.13" textLength="28" lengthAdjust="spacingAndGlyphs" >per Mb</text>
<text x="60.3" y="388.8" font-size="8.4" text-anchor="end" fill="#231f20" stroke="#231f20" stroke-width="0.13" >HNC</text>
<text x="60.3" y="416.2" font-size="8.4" text-anchor="end" fill="#231f20" stroke="#231f20" stroke-width="0.13" >OC</text>
<text x="60.3" y="436.5" font-size="8.4" text-anchor="end" fill="#231f20" stroke="#231f20" stroke-width="0.13" >OPC</text>
<text x="60.3" y="456.8" font-size="8.4" text-anchor="end" fill="#231f20" stroke="#231f20" stroke-width="0.13" >HPX</text>
<text x="60.3" y="477.1" font-size="8.4" text-anchor="end" fill="#231f20" stroke="#231f20" stroke-width="0.13" >LYX</text>
<g fill="#6a6a6a"><circle cx="70.40" cy="358.70" r="0.68"/><circle cx="76.70" cy="353.00" r="0.68"/><circle cx="82.80" cy="350.60" r="0.68"/></g>
<line x1="64.5" y1="354.7" x2="82.5" y2="354.7" stroke="#ff0000" stroke-width="1.15"/>
<g fill="#111"><circle cx="85.69" cy="364.00" r="0.8"/><circle cx="85.86" cy="362.65" r="0.8"/><circle cx="86.03" cy="361.94" r="0.8"/><circle cx="86.20" cy="361.45" r="0.8"/><circle cx="86.37" cy="361.06" r="0.8"/><circle cx="86.54" cy="360.74" r="0.8"/><circle cx="86.71" cy="360.46" r="0.8"/><circle cx="86.88" cy="360.21" r="0.8"/><circle cx="87.05" cy="359.98" r="0.8"/><circle cx="87.22" cy="359.78" r="0.8"/><circle cx="87.40" cy="359.59" r="0.8"/><circle cx="87.57" cy="359.41" r="0.8"/><circle cx="87.74" cy="359.24" r="0.8"/><circle cx="87.91" cy="359.08" r="0.8"/><circle cx="88.08" cy="358.93" r="0.8"/><circle cx="88.25" cy="358.79" r="0.8"/><circle cx="88.42" cy="358.65" r="0.8"/><circle cx="88.59" cy="358.52" r="0.8"/><circle cx="88.76" cy="358.39" r="0.8"/><circle cx="88.93" cy="358.27" r="0.8"/><circle cx="89.11" cy="358.15" r="0.8"/><circle cx="89.28" cy="358.03" r="0.8"/><circle cx="89.45" cy="357.92" r="0.8"/><circle cx="89.62" cy="357.81" r="0.8"/><circle cx="89.79" cy="357.70" r="0.8"/><circle cx="89.96" cy="357.60" r="0.8"/><circle cx="90.13" cy="357.50" r="0.8"/><circle cx="90.30" cy="357.40" r="0.8"/><circle cx="90.47" cy="357.30" r="0.8"/><circle cx="90.64" cy="357.20" r="0.8"/><circle cx="90.82" cy="357.10" r="0.8"/><circle cx="90.99" cy="357.01" r="0.8"/><circle cx="91.16" cy="356.91" r="0.8"/><circle cx="91.33" cy="356.82" r="0.8"/><circle cx="91.50" cy="356.73" r="0.8"/><circle cx="91.67" cy="356.64" r="0.8"/><circle cx="91.84" cy="356.55" r="0.8"/><circle cx="92.01" cy="356.46" r="0.8"/><circle cx="92.18" cy="356.38" r="0.8"/><circle cx="92.35" cy="356.29" r="0.8"/><circle cx="92.53" cy="356.20" r="0.8"/><circle cx="92.70" cy="356.12" r="0.8"/><circle cx="92.87" cy="356.03" r="0.8"/><circle cx="93.04" cy="355.95" r="0.8"/><circle cx="93.21" cy="355.86" r="0.8"/><circle cx="93.38" cy="355.78" r="0.8"/><circle cx="93.55" cy="355.69" r="0.8"/><circle cx="93.72" cy="355.61" r="0.8"/><circle cx="93.89" cy="355.53" r="0.8"/><circle cx="94.06" cy="355.44" r="0.8"/><circle cx="94.24" cy="355.37" r="0.8"/><circle cx="94.41" cy="355.32" r="0.8"/><circle cx="94.58" cy="355.26" r="0.8"/><circle cx="94.75" cy="355.20" r="0.8"/><circle cx="94.92" cy="355.15" r="0.8"/><circle cx="95.09" cy="355.09" r="0.8"/><circle cx="95.26" cy="355.03" r="0.8"/><circle cx="95.43" cy="354.97" r="0.8"/><circle cx="95.60" cy="354.92" r="0.8"/><circle cx="95.77" cy="354.86" r="0.8"/><circle cx="95.95" cy="354.80" r="0.8"/><circle cx="96.12" cy="354.74" r="0.8"/><circle cx="96.29" cy="354.68" r="0.8"/><circle cx="96.46" cy="354.62" r="0.8"/><circle cx="96.63" cy="354.56" r="0.8"/><circle cx="96.80" cy="354.50" r="0.8"/><circle cx="96.97" cy="354.44" r="0.8"/><circle cx="97.14" cy="354.38" r="0.8"/><circle cx="97.31" cy="354.32" r="0.8"/><circle cx="97.48" cy="354.25" r="0.8"/><circle cx="97.66" cy="354.19" r="0.8"/><circle cx="97.83" cy="354.12" r="0.8"/><circle cx="98.00" cy="354.05" r="0.8"/><circle cx="98.17" cy="353.99" r="0.8"/><circle cx="98.34" cy="353.92" r="0.8"/><circle cx="98.51" cy="353.85" r="0.8"/><circle cx="98.68" cy="353.77" r="0.8"/><circle cx="98.85" cy="353.70" r="0.8"/><circle cx="99.02" cy="353.62" r="0.8"/><circle cx="99.19" cy="353.54" r="0.8"/><circle cx="99.37" cy="353.46" r="0.8"/><circle cx="99.54" cy="353.38" r="0.8"/><circle cx="99.71" cy="353.30" r="0.8"/><circle cx="99.88" cy="353.21" r="0.8"/><circle cx="100.05" cy="353.11" r="0.8"/><circle cx="100.22" cy="353.02" r="0.8"/><circle cx="100.39" cy="352.92" r="0.8"/><circle cx="100.56" cy="352.81" r="0.8"/><circle cx="100.73" cy="352.70" r="0.8"/><circle cx="100.90" cy="352.58" r="0.8"/><circle cx="101.08" cy="352.45" r="0.8"/><circle cx="101.25" cy="352.31" r="0.8"/><circle cx="101.42" cy="352.16" r="0.8"/><circle cx="101.59" cy="351.99" r="0.8"/><circle cx="101.76" cy="351.80" r="0.8"/><circle cx="101.93" cy="351.58" r="0.8"/><circle cx="102.10" cy="351.32" r="0.8"/><circle cx="102.27" cy="350.99" r="0.8"/><circle cx="102.44" cy="350.51" r="0.8"/><circle cx="102.61" cy="349.60" r="0.8"/><circle cx="102.50" cy="338.40" r="0.8"/></g>
<line x1="85" y1="355.4" x2="103.3" y2="355.4" stroke="#ff0000" stroke-width="1.15"/>
<g fill="#6a6a6a"><circle cx="106.09" cy="361.90" r="0.68"/><circle cx="106.26" cy="361.19" r="0.68"/><circle cx="106.43" cy="360.82" r="0.68"/><circle cx="106.60" cy="360.57" r="0.68"/><circle cx="106.77" cy="360.36" r="0.68"/><circle cx="106.95" cy="360.19" r="0.68"/><circle cx="107.12" cy="360.05" r="0.68"/><circle cx="107.29" cy="359.91" r="0.68"/><circle cx="107.46" cy="359.80" r="0.68"/><circle cx="107.63" cy="359.69" r="0.68"/><circle cx="107.81" cy="359.59" r="0.68"/><circle cx="107.98" cy="359.50" r="0.68"/><circle cx="108.15" cy="359.41" r="0.68"/><circle cx="108.32" cy="359.33" r="0.68"/><circle cx="108.49" cy="359.25" r="0.68"/><circle cx="108.67" cy="359.17" r="0.68"/><circle cx="108.84" cy="359.10" r="0.68"/><circle cx="109.01" cy="359.03" r="0.68"/><circle cx="109.18" cy="358.97" r="0.68"/><circle cx="109.35" cy="358.90" r="0.68"/><circle cx="109.53" cy="358.84" r="0.68"/><circle cx="109.70" cy="358.78" r="0.68"/><circle cx="109.87" cy="358.72" r="0.68"/><circle cx="110.04" cy="358.66" r="0.68"/><circle cx="110.21" cy="358.61" r="0.68"/><circle cx="110.39" cy="358.55" r="0.68"/><circle cx="110.56" cy="358.50" r="0.68"/><circle cx="110.73" cy="358.44" r="0.68"/><circle cx="110.90" cy="358.39" r="0.68"/><circle cx="111.07" cy="358.34" r="0.68"/><circle cx="111.25" cy="358.29" r="0.68"/><circle cx="111.42" cy="358.24" r="0.68"/><circle cx="111.59" cy="358.19" r="0.68"/><circle cx="111.76" cy="358.14" r="0.68"/><circle cx="111.93" cy="358.10" r="0.68"/><circle cx="112.11" cy="358.05" r="0.68"/><circle cx="112.28" cy="358.00" r="0.68"/><circle cx="112.45" cy="357.96" r="0.68"/><circle cx="112.62" cy="357.91" r="0.68"/><circle cx="112.79" cy="357.87" r="0.68"/><circle cx="112.97" cy="357.82" r="0.68"/><circle cx="113.14" cy="357.78" r="0.68"/><circle cx="113.31" cy="357.73" r="0.68"/><circle cx="113.48" cy="357.69" r="0.68"/><circle cx="113.65" cy="357.64" r="0.68"/><circle cx="113.83" cy="357.60" r="0.68"/><circle cx="114.00" cy="357.55" r="0.68"/><circle cx="114.17" cy="357.51" r="0.68"/><circle cx="114.34" cy="357.47" r="0.68"/><circle cx="114.51" cy="357.42" r="0.68"/><circle cx="114.69" cy="357.37" r="0.68"/><circle cx="114.86" cy="357.32" r="0.68"/><circle cx="115.03" cy="357.27" r="0.68"/><circle cx="115.20" cy="357.22" r="0.68"/><circle cx="115.37" cy="357.17" r="0.68"/><circle cx="115.55" cy="357.12" r="0.68"/><circle cx="115.72" cy="357.06" r="0.68"/><circle cx="115.89" cy="357.01" r="0.68"/><circle cx="116.06" cy="356.96" r="0.68"/><circle cx="116.23" cy="356.91" r="0.68"/><circle cx="116.41" cy="356.85" r="0.68"/><circle cx="116.58" cy="356.80" r="0.68"/><circle cx="116.75" cy="356.74" r="0.68"/><circle cx="116.92" cy="356.69" r="0.68"/><circle cx="117.09" cy="356.63" r="0.68"/><circle cx="117.27" cy="356.58" r="0.68"/><circle cx="117.44" cy="356.52" r="0.68"/><circle cx="117.61" cy="356.47" r="0.68"/><circle cx="117.78" cy="356.41" r="0.68"/><circle cx="117.95" cy="356.35" r="0.68"/><circle cx="118.13" cy="356.29" r="0.68"/><circle cx="118.30" cy="356.23" r="0.68"/><circle cx="118.47" cy="356.17" r="0.68"/><circle cx="118.64" cy="356.11" r="0.68"/><circle cx="118.81" cy="356.04" r="0.68"/><circle cx="118.99" cy="355.98" r="0.68"/><circle cx="119.16" cy="355.91" r="0.68"/><circle cx="119.33" cy="355.85" r="0.68"/><circle cx="119.50" cy="355.78" r="0.68"/><circle cx="119.67" cy="355.70" r="0.68"/><circle cx="119.85" cy="355.63" r="0.68"/><circle cx="120.02" cy="355.56" r="0.68"/><circle cx="120.19" cy="355.48" r="0.68"/><circle cx="120.36" cy="355.40" r="0.68"/><circle cx="120.53" cy="355.31" r="0.68"/><circle cx="120.71" cy="355.22" r="0.68"/><circle cx="120.88" cy="355.13" r="0.68"/><circle cx="121.05" cy="355.03" r="0.68"/><circle cx="121.22" cy="354.93" r="0.68"/><circle cx="121.39" cy="354.82" r="0.68"/><circle cx="121.57" cy="354.70" r="0.68"/><circle cx="121.74" cy="354.58" r="0.68"/><circle cx="121.91" cy="354.44" r="0.68"/><circle cx="122.08" cy="354.28" r="0.68"/><circle cx="122.25" cy="354.11" r="0.68"/><circle cx="122.43" cy="353.91" r="0.68"/><circle cx="122.60" cy="353.67" r="0.68"/><circle cx="122.77" cy="353.37" r="0.68"/><circle cx="122.94" cy="352.93" r="0.68"/><circle cx="123.11" cy="352.10" r="0.68"/></g>
<line x1="105.4" y1="357.4" x2="123.8" y2="357.4" stroke="#ff0000" stroke-width="1.15"/>
<g fill="#111"><circle cx="126.48" cy="365.00" r="0.8"/><circle cx="126.65" cy="363.93" r="0.8"/><circle cx="126.82" cy="363.37" r="0.8"/><circle cx="126.99" cy="362.98" r="0.8"/><circle cx="127.16" cy="362.68" r="0.8"/><circle cx="127.32" cy="362.42" r="0.8"/><circle cx="127.49" cy="362.20" r="0.8"/><circle cx="127.66" cy="362.00" r="0.8"/><circle cx="127.83" cy="361.82" r="0.8"/><circle cx="128.00" cy="361.66" r="0.8"/><circle cx="128.16" cy="361.51" r="0.8"/><circle cx="128.33" cy="361.37" r="0.8"/><circle cx="128.50" cy="361.24" r="0.8"/><circle cx="128.67" cy="361.11" r="0.8"/><circle cx="128.84" cy="360.99" r="0.8"/><circle cx="129.00" cy="360.88" r="0.8"/><circle cx="129.17" cy="360.77" r="0.8"/><circle cx="129.34" cy="360.67" r="0.8"/><circle cx="129.51" cy="360.57" r="0.8"/><circle cx="129.68" cy="360.47" r="0.8"/><circle cx="129.84" cy="360.38" r="0.8"/><circle cx="130.01" cy="360.28" r="0.8"/><circle cx="130.18" cy="360.19" r="0.8"/><circle cx="130.35" cy="360.11" r="0.8"/><circle cx="130.52" cy="360.02" r="0.8"/><circle cx="130.68" cy="359.94" r="0.8"/><circle cx="130.85" cy="359.86" r="0.8"/><circle cx="131.02" cy="359.78" r="0.8"/><circle cx="131.19" cy="359.70" r="0.8"/><circle cx="131.36" cy="359.62" r="0.8"/><circle cx="131.52" cy="359.55" r="0.8"/><circle cx="131.69" cy="359.47" r="0.8"/><circle cx="131.86" cy="359.40" r="0.8"/><circle cx="132.03" cy="359.32" r="0.8"/><circle cx="132.20" cy="359.25" r="0.8"/><circle cx="132.36" cy="359.18" r="0.8"/><circle cx="132.53" cy="359.11" r="0.8"/><circle cx="132.70" cy="359.04" r="0.8"/><circle cx="132.87" cy="358.97" r="0.8"/><circle cx="133.04" cy="358.90" r="0.8"/><circle cx="133.20" cy="358.83" r="0.8"/><circle cx="133.37" cy="358.77" r="0.8"/><circle cx="133.54" cy="358.70" r="0.8"/><circle cx="133.71" cy="358.63" r="0.8"/><circle cx="133.88" cy="358.57" r="0.8"/><circle cx="134.04" cy="358.50" r="0.8"/><circle cx="134.21" cy="358.43" r="0.8"/><circle cx="134.38" cy="358.37" r="0.8"/><circle cx="134.55" cy="358.30" r="0.8"/><circle cx="134.72" cy="358.23" r="0.8"/><circle cx="134.88" cy="358.19" r="0.8"/><circle cx="135.05" cy="358.17" r="0.8"/><circle cx="135.22" cy="358.13" r="0.8"/><circle cx="135.39" cy="358.09" r="0.8"/><circle cx="135.56" cy="358.04" r="0.8"/><circle cx="135.72" cy="357.98" r="0.8"/><circle cx="135.89" cy="357.91" r="0.8"/><circle cx="136.06" cy="357.85" r="0.8"/><circle cx="136.23" cy="357.77" r="0.8"/><circle cx="136.40" cy="357.69" r="0.8"/><circle cx="136.56" cy="357.61" r="0.8"/><circle cx="136.73" cy="357.52" r="0.8"/><circle cx="136.90" cy="357.43" r="0.8"/><circle cx="137.07" cy="357.33" r="0.8"/><circle cx="137.24" cy="357.22" r="0.8"/><circle cx="137.40" cy="357.12" r="0.8"/><circle cx="137.57" cy="357.00" r="0.8"/><circle cx="137.74" cy="356.88" r="0.8"/><circle cx="137.91" cy="356.76" r="0.8"/><circle cx="138.08" cy="356.63" r="0.8"/><circle cx="138.24" cy="356.50" r="0.8"/><circle cx="138.41" cy="356.36" r="0.8"/><circle cx="138.58" cy="356.21" r="0.8"/><circle cx="138.75" cy="356.06" r="0.8"/><circle cx="138.92" cy="355.90" r="0.8"/><circle cx="139.08" cy="355.73" r="0.8"/><circle cx="139.25" cy="355.56" r="0.8"/><circle cx="139.42" cy="355.37" r="0.8"/><circle cx="139.59" cy="355.18" r="0.8"/><circle cx="139.76" cy="354.98" r="0.8"/><circle cx="139.92" cy="354.77" r="0.8"/><circle cx="140.09" cy="354.55" r="0.8"/><circle cx="140.26" cy="354.31" r="0.8"/><circle cx="140.43" cy="354.06" r="0.8"/><circle cx="140.60" cy="353.80" r="0.8"/><circle cx="140.76" cy="353.51" r="0.8"/><circle cx="140.93" cy="353.21" r="0.8"/><circle cx="141.10" cy="352.89" r="0.8"/><circle cx="141.27" cy="352.54" r="0.8"/><circle cx="141.44" cy="352.16" r="0.8"/><circle cx="141.60" cy="351.74" r="0.8"/><circle cx="141.77" cy="351.28" r="0.8"/><circle cx="141.94" cy="350.76" r="0.8"/><circle cx="142.11" cy="350.18" r="0.8"/><circle cx="142.28" cy="349.50" r="0.8"/><circle cx="142.44" cy="348.70" r="0.8"/><circle cx="142.61" cy="347.70" r="0.8"/><circle cx="142.78" cy="346.39" r="0.8"/><circle cx="142.95" cy="344.44" r="0.8"/><circle cx="143.12" cy="340.40" r="0.8"/></g>
<line x1="125.8" y1="358.2" x2="143.8" y2="358.2" stroke="#ff0000" stroke-width="1.15"/>
<g fill="#111"><circle cx="146.89" cy="372.70" r="0.8"/><circle cx="147.06" cy="370.75" r="0.8"/><circle cx="147.23" cy="369.74" r="0.8"/><circle cx="147.40" cy="369.02" r="0.8"/><circle cx="147.57" cy="368.46" r="0.8"/><circle cx="147.75" cy="367.99" r="0.8"/><circle cx="147.92" cy="367.59" r="0.8"/><circle cx="148.09" cy="367.23" r="0.8"/><circle cx="148.26" cy="366.91" r="0.8"/><circle cx="148.43" cy="366.61" r="0.8"/><circle cx="148.61" cy="366.33" r="0.8"/><circle cx="148.78" cy="366.08" r="0.8"/><circle cx="148.95" cy="365.84" r="0.8"/><circle cx="149.12" cy="365.61" r="0.8"/><circle cx="149.29" cy="365.39" r="0.8"/><circle cx="149.47" cy="365.19" r="0.8"/><circle cx="149.64" cy="364.99" r="0.8"/><circle cx="149.81" cy="364.80" r="0.8"/><circle cx="149.98" cy="364.62" r="0.8"/><circle cx="150.15" cy="364.44" r="0.8"/><circle cx="150.33" cy="364.27" r="0.8"/><circle cx="150.50" cy="364.10" r="0.8"/><circle cx="150.67" cy="363.94" r="0.8"/><circle cx="150.84" cy="363.78" r="0.8"/><circle cx="151.01" cy="363.62" r="0.8"/><circle cx="151.19" cy="363.47" r="0.8"/><circle cx="151.36" cy="363.32" r="0.8"/><circle cx="151.53" cy="363.18" r="0.8"/><circle cx="151.70" cy="363.03" r="0.8"/><circle cx="151.87" cy="362.89" r="0.8"/><circle cx="152.05" cy="362.76" r="0.8"/><circle cx="152.22" cy="362.62" r="0.8"/><circle cx="152.39" cy="362.48" r="0.8"/><circle cx="152.56" cy="362.35" r="0.8"/><circle cx="152.73" cy="362.22" r="0.8"/><circle cx="152.91" cy="362.09" r="0.8"/><circle cx="153.08" cy="361.96" r="0.8"/><circle cx="153.25" cy="361.83" r="0.8"/><circle cx="153.42" cy="361.71" r="0.8"/><circle cx="153.59" cy="361.58" r="0.8"/><circle cx="153.77" cy="361.46" r="0.8"/><circle cx="153.94" cy="361.33" r="0.8"/><circle cx="154.11" cy="361.21" r="0.8"/><circle cx="154.28" cy="361.09" r="0.8"/><circle cx="154.45" cy="360.97" r="0.8"/><circle cx="154.63" cy="360.84" r="0.8"/><circle cx="154.80" cy="360.72" r="0.8"/><circle cx="154.97" cy="360.60" r="0.8"/><circle cx="155.14" cy="360.48" r="0.8"/><circle cx="155.31" cy="360.36" r="0.8"/><circle cx="155.49" cy="360.25" r="0.8"/><circle cx="155.66" cy="360.15" r="0.8"/><circle cx="155.83" cy="360.05" r="0.8"/><circle cx="156.00" cy="359.95" r="0.8"/><circle cx="156.17" cy="359.85" r="0.8"/><circle cx="156.35" cy="359.75" r="0.8"/><circle cx="156.52" cy="359.65" r="0.8"/><circle cx="156.69" cy="359.54" r="0.8"/><circle cx="156.86" cy="359.44" r="0.8"/><circle cx="157.03" cy="359.34" r="0.8"/><circle cx="157.21" cy="359.24" r="0.8"/><circle cx="157.38" cy="359.13" r="0.8"/><circle cx="157.55" cy="359.03" r="0.8"/><circle cx="157.72" cy="358.92" r="0.8"/><circle cx="157.89" cy="358.81" r="0.8"/><circle cx="158.07" cy="358.71" r="0.8"/><circle cx="158.24" cy="358.60" r="0.8"/><circle cx="158.41" cy="358.49" r="0.8"/><circle cx="158.58" cy="358.37" r="0.8"/><circle cx="158.75" cy="358.26" r="0.8"/><circle cx="158.93" cy="358.15" r="0.8"/><circle cx="159.10" cy="358.03" r="0.8"/><circle cx="159.27" cy="357.91" r="0.8"/><circle cx="159.44" cy="357.79" r="0.8"/><circle cx="159.61" cy="357.67" r="0.8"/><circle cx="159.79" cy="357.54" r="0.8"/><circle cx="159.96" cy="357.41" r="0.8"/><circle cx="160.13" cy="357.28" r="0.8"/><circle cx="160.30" cy="357.14" r="0.8"/><circle cx="160.47" cy="357.01" r="0.8"/><circle cx="160.65" cy="356.86" r="0.8"/><circle cx="160.82" cy="356.72" r="0.8"/><circle cx="160.99" cy="356.56" r="0.8"/><circle cx="161.16" cy="356.40" r="0.8"/><circle cx="161.33" cy="356.24" r="0.8"/><circle cx="161.51" cy="356.07" r="0.8"/><circle cx="161.68" cy="355.89" r="0.8"/><circle cx="161.85" cy="355.70" r="0.8"/><circle cx="162.02" cy="355.50" r="0.8"/><circle cx="162.19" cy="355.29" r="0.8"/><circle cx="162.37" cy="355.06" r="0.8"/><circle cx="162.54" cy="354.81" r="0.8"/><circle cx="162.71" cy="354.54" r="0.8"/><circle cx="162.88" cy="354.25" r="0.8"/><circle cx="163.05" cy="353.91" r="0.8"/><circle cx="163.23" cy="353.52" r="0.8"/><circle cx="163.40" cy="353.05" r="0.8"/><circle cx="163.57" cy="352.46" r="0.8"/><circle cx="163.74" cy="351.62" r="0.8"/><circle cx="163.91" cy="350.00" r="0.8"/><circle cx="164.00" cy="343.50" r="0.8"/></g>
<line x1="146.2" y1="360.3" x2="164.6" y2="360.3" stroke="#ff0000" stroke-width="1.15"/>
<g fill="#6a6a6a"><circle cx="167.39" cy="364.00" r="0.68"/><circle cx="167.56" cy="363.61" r="0.68"/><circle cx="167.73" cy="363.40" r="0.68"/><circle cx="167.90" cy="363.26" r="0.68"/><circle cx="168.07" cy="363.15" r="0.68"/><circle cx="168.24" cy="363.05" r="0.68"/><circle cx="168.41" cy="362.97" r="0.68"/><circle cx="168.58" cy="362.90" r="0.68"/><circle cx="168.75" cy="362.83" r="0.68"/><circle cx="168.92" cy="362.77" r="0.68"/><circle cx="169.10" cy="362.72" r="0.68"/><circle cx="169.27" cy="362.67" r="0.68"/><circle cx="169.44" cy="362.62" r="0.68"/><circle cx="169.61" cy="362.57" r="0.68"/><circle cx="169.78" cy="362.53" r="0.68"/><circle cx="169.95" cy="362.49" r="0.68"/><circle cx="170.12" cy="362.45" r="0.68"/><circle cx="170.29" cy="362.41" r="0.68"/><circle cx="170.46" cy="362.37" r="0.68"/><circle cx="170.63" cy="362.33" r="0.68"/><circle cx="170.81" cy="362.30" r="0.68"/><circle cx="170.98" cy="362.27" r="0.68"/><circle cx="171.15" cy="362.23" r="0.68"/><circle cx="171.32" cy="362.20" r="0.68"/><circle cx="171.49" cy="362.17" r="0.68"/><circle cx="171.66" cy="362.14" r="0.68"/><circle cx="171.83" cy="362.11" r="0.68"/><circle cx="172.00" cy="362.08" r="0.68"/><circle cx="172.17" cy="362.05" r="0.68"/><circle cx="172.34" cy="362.02" r="0.68"/><circle cx="172.52" cy="362.00" r="0.68"/><circle cx="172.69" cy="361.97" r="0.68"/><circle cx="172.86" cy="361.94" r="0.68"/><circle cx="173.03" cy="361.91" r="0.68"/><circle cx="173.20" cy="361.89" r="0.68"/><circle cx="173.37" cy="361.86" r="0.68"/><circle cx="173.54" cy="361.83" r="0.68"/><circle cx="173.71" cy="361.81" r="0.68"/><circle cx="173.88" cy="361.78" r="0.68"/><circle cx="174.05" cy="361.76" r="0.68"/><circle cx="174.23" cy="361.73" r="0.68"/><circle cx="174.40" cy="361.71" r="0.68"/><circle cx="174.57" cy="361.68" r="0.68"/><circle cx="174.74" cy="361.66" r="0.68"/><circle cx="174.91" cy="361.63" r="0.68"/><circle cx="175.08" cy="361.61" r="0.68"/><circle cx="175.25" cy="361.59" r="0.68"/><circle cx="175.42" cy="361.56" r="0.68"/><circle cx="175.59" cy="361.54" r="0.68"/><circle cx="175.76" cy="361.51" r="0.68"/><circle cx="175.94" cy="361.48" r="0.68"/><circle cx="176.11" cy="361.45" r="0.68"/><circle cx="176.28" cy="361.41" r="0.68"/><circle cx="176.45" cy="361.37" r="0.68"/><circle cx="176.62" cy="361.34" r="0.68"/><circle cx="176.79" cy="361.30" r="0.68"/><circle cx="176.96" cy="361.26" r="0.68"/><circle cx="177.13" cy="361.23" r="0.68"/><circle cx="177.30" cy="361.19" r="0.68"/><circle cx="177.47" cy="361.15" r="0.68"/><circle cx="177.65" cy="361.12" r="0.68"/><circle cx="177.82" cy="361.08" r="0.68"/><circle cx="177.99" cy="361.04" r="0.68"/><circle cx="178.16" cy="361.00" r="0.68"/><circle cx="178.33" cy="360.97" r="0.68"/><circle cx="178.50" cy="360.93" r="0.68"/><circle cx="178.67" cy="360.89" r="0.68"/><circle cx="178.84" cy="360.85" r="0.68"/><circle cx="179.01" cy="360.81" r="0.68"/><circle cx="179.18" cy="360.77" r="0.68"/><circle cx="179.36" cy="360.73" r="0.68"/><circle cx="179.53" cy="360.68" r="0.68"/><circle cx="179.70" cy="360.64" r="0.68"/><circle cx="179.87" cy="360.60" r="0.68"/><circle cx="180.04" cy="360.55" r="0.68"/><circle cx="180.21" cy="360.51" r="0.68"/><circle cx="180.38" cy="360.46" r="0.68"/><circle cx="180.55" cy="360.41" r="0.68"/><circle cx="180.72" cy="360.37" r="0.68"/><circle cx="180.89" cy="360.32" r="0.68"/><circle cx="181.07" cy="360.27" r="0.68"/><circle cx="181.24" cy="360.21" r="0.68"/><circle cx="181.41" cy="360.16" r="0.68"/><circle cx="181.58" cy="360.10" r="0.68"/><circle cx="181.75" cy="360.04" r="0.68"/><circle cx="181.92" cy="359.98" r="0.68"/><circle cx="182.09" cy="359.92" r="0.68"/><circle cx="182.26" cy="359.85" r="0.68"/><circle cx="182.43" cy="359.78" r="0.68"/><circle cx="182.60" cy="359.70" r="0.68"/><circle cx="182.78" cy="359.62" r="0.68"/><circle cx="182.95" cy="359.53" r="0.68"/><circle cx="183.12" cy="359.43" r="0.68"/><circle cx="183.29" cy="359.33" r="0.68"/><circle cx="183.46" cy="359.20" r="0.68"/><circle cx="183.63" cy="359.06" r="0.68"/><circle cx="183.80" cy="358.90" r="0.68"/><circle cx="183.97" cy="358.68" r="0.68"/><circle cx="184.14" cy="358.38" r="0.68"/><circle cx="184.31" cy="357.80" r="0.68"/></g>
<line x1="166.7" y1="361.5" x2="185" y2="361.5" stroke="#ff0000" stroke-width="1.15"/>
<g fill="#111"><circle cx="187.89" cy="367.40" r="0.8"/><circle cx="188.06" cy="366.60" r="0.8"/><circle cx="188.23" cy="366.18" r="0.8"/><circle cx="188.40" cy="365.89" r="0.8"/><circle cx="188.57" cy="365.66" r="0.8"/><circle cx="188.74" cy="365.46" r="0.8"/><circle cx="188.91" cy="365.30" r="0.8"/><circle cx="189.08" cy="365.15" r="0.8"/><circle cx="189.25" cy="365.02" r="0.8"/><circle cx="189.42" cy="364.89" r="0.8"/><circle cx="189.60" cy="364.78" r="0.8"/><circle cx="189.77" cy="364.68" r="0.8"/><circle cx="189.94" cy="364.58" r="0.8"/><circle cx="190.11" cy="364.48" r="0.8"/><circle cx="190.28" cy="364.40" r="0.8"/><circle cx="190.45" cy="364.31" r="0.8"/><circle cx="190.62" cy="364.23" r="0.8"/><circle cx="190.79" cy="364.15" r="0.8"/><circle cx="190.96" cy="364.07" r="0.8"/><circle cx="191.13" cy="364.00" r="0.8"/><circle cx="191.31" cy="363.93" r="0.8"/><circle cx="191.48" cy="363.86" r="0.8"/><circle cx="191.65" cy="363.80" r="0.8"/><circle cx="191.82" cy="363.73" r="0.8"/><circle cx="191.99" cy="363.67" r="0.8"/><circle cx="192.16" cy="363.60" r="0.8"/><circle cx="192.33" cy="363.54" r="0.8"/><circle cx="192.50" cy="363.48" r="0.8"/><circle cx="192.67" cy="363.42" r="0.8"/><circle cx="192.84" cy="363.37" r="0.8"/><circle cx="193.02" cy="363.31" r="0.8"/><circle cx="193.19" cy="363.25" r="0.8"/><circle cx="193.36" cy="363.20" r="0.8"/><circle cx="193.53" cy="363.14" r="0.8"/><circle cx="193.70" cy="363.09" r="0.8"/><circle cx="193.87" cy="363.04" r="0.8"/><circle cx="194.04" cy="362.98" r="0.8"/><circle cx="194.21" cy="362.93" r="0.8"/><circle cx="194.38" cy="362.88" r="0.8"/><circle cx="194.55" cy="362.83" r="0.8"/><circle cx="194.73" cy="362.78" r="0.8"/><circle cx="194.90" cy="362.73" r="0.8"/><circle cx="195.07" cy="362.67" r="0.8"/><circle cx="195.24" cy="362.62" r="0.8"/><circle cx="195.41" cy="362.57" r="0.8"/><circle cx="195.58" cy="362.52" r="0.8"/><circle cx="195.75" cy="362.47" r="0.8"/><circle cx="195.92" cy="362.42" r="0.8"/><circle cx="196.09" cy="362.37" r="0.8"/><circle cx="196.26" cy="362.32" r="0.8"/><circle cx="196.44" cy="362.27" r="0.8"/><circle cx="196.61" cy="362.22" r="0.8"/><circle cx="196.78" cy="362.17" r="0.8"/><circle cx="196.95" cy="362.11" r="0.8"/><circle cx="197.12" cy="362.06" r="0.8"/><circle cx="197.29" cy="362.00" r="0.8"/><circle cx="197.46" cy="361.95" r="0.8"/><circle cx="197.63" cy="361.90" r="0.8"/><circle cx="197.80" cy="361.84" r="0.8"/><circle cx="197.97" cy="361.79" r="0.8"/><circle cx="198.15" cy="361.73" r="0.8"/><circle cx="198.32" cy="361.68" r="0.8"/><circle cx="198.49" cy="361.62" r="0.8"/><circle cx="198.66" cy="361.56" r="0.8"/><circle cx="198.83" cy="361.51" r="0.8"/><circle cx="199.00" cy="361.45" r="0.8"/><circle cx="199.17" cy="361.39" r="0.8"/><circle cx="199.34" cy="361.33" r="0.8"/><circle cx="199.51" cy="361.27" r="0.8"/><circle cx="199.68" cy="361.21" r="0.8"/><circle cx="199.86" cy="361.15" r="0.8"/><circle cx="200.03" cy="361.09" r="0.8"/><circle cx="200.20" cy="361.02" r="0.8"/><circle cx="200.37" cy="360.96" r="0.8"/><circle cx="200.54" cy="360.89" r="0.8"/><circle cx="200.71" cy="360.83" r="0.8"/><circle cx="200.88" cy="360.76" r="0.8"/><circle cx="201.05" cy="360.69" r="0.8"/><circle cx="201.22" cy="360.61" r="0.8"/><circle cx="201.39" cy="360.54" r="0.8"/><circle cx="201.57" cy="360.46" r="0.8"/><circle cx="201.74" cy="360.39" r="0.8"/><circle cx="201.91" cy="360.30" r="0.8"/><circle cx="202.08" cy="360.22" r="0.8"/><circle cx="202.25" cy="360.13" r="0.8"/><circle cx="202.42" cy="360.04" r="0.8"/><circle cx="202.59" cy="359.94" r="0.8"/><circle cx="202.76" cy="359.84" r="0.8"/><circle cx="202.93" cy="359.74" r="0.8"/><circle cx="203.10" cy="359.62" r="0.8"/><circle cx="203.28" cy="359.50" r="0.8"/><circle cx="203.45" cy="359.37" r="0.8"/><circle cx="203.62" cy="359.23" r="0.8"/><circle cx="203.79" cy="359.07" r="0.8"/><circle cx="203.96" cy="358.89" r="0.8"/><circle cx="204.13" cy="358.68" r="0.8"/><circle cx="204.30" cy="358.43" r="0.8"/><circle cx="204.47" cy="358.12" r="0.8"/><circle cx="204.64" cy="357.67" r="0.8"/><circle cx="204.81" cy="356.80" r="0.8"/></g>
<line x1="187.2" y1="362.3" x2="205.5" y2="362.3" stroke="#ff0000" stroke-width="1.15"/>
<g fill="#111"><circle cx="208.29" cy="365.40" r="0.8"/><circle cx="208.46" cy="364.94" r="0.8"/><circle cx="208.63" cy="364.71" r="0.8"/><circle cx="208.80" cy="364.54" r="0.8"/><circle cx="208.97" cy="364.41" r="0.8"/><circle cx="209.15" cy="364.30" r="0.8"/><circle cx="209.32" cy="364.20" r="0.8"/><circle cx="209.49" cy="364.12" r="0.8"/><circle cx="209.66" cy="364.04" r="0.8"/><circle cx="209.83" cy="363.98" r="0.8"/><circle cx="210.01" cy="363.91" r="0.8"/><circle cx="210.18" cy="363.85" r="0.8"/><circle cx="210.35" cy="363.80" r="0.8"/><circle cx="210.52" cy="363.74" r="0.8"/><circle cx="210.69" cy="363.69" r="0.8"/><circle cx="210.87" cy="363.64" r="0.8"/><circle cx="211.04" cy="363.60" r="0.8"/><circle cx="211.21" cy="363.55" r="0.8"/><circle cx="211.38" cy="363.51" r="0.8"/><circle cx="211.55" cy="363.47" r="0.8"/><circle cx="211.73" cy="363.43" r="0.8"/><circle cx="211.90" cy="363.39" r="0.8"/><circle cx="212.07" cy="363.35" r="0.8"/><circle cx="212.24" cy="363.31" r="0.8"/><circle cx="212.41" cy="363.28" r="0.8"/><circle cx="212.59" cy="363.24" r="0.8"/><circle cx="212.76" cy="363.21" r="0.8"/><circle cx="212.93" cy="363.17" r="0.8"/><circle cx="213.10" cy="363.14" r="0.8"/><circle cx="213.27" cy="363.11" r="0.8"/><circle cx="213.45" cy="363.07" r="0.8"/><circle cx="213.62" cy="363.04" r="0.8"/><circle cx="213.79" cy="363.01" r="0.8"/><circle cx="213.96" cy="362.98" r="0.8"/><circle cx="214.13" cy="362.95" r="0.8"/><circle cx="214.31" cy="362.92" r="0.8"/><circle cx="214.48" cy="362.89" r="0.8"/><circle cx="214.65" cy="362.86" r="0.8"/><circle cx="214.82" cy="362.83" r="0.8"/><circle cx="214.99" cy="362.80" r="0.8"/><circle cx="215.17" cy="362.77" r="0.8"/><circle cx="215.34" cy="362.74" r="0.8"/><circle cx="215.51" cy="362.71" r="0.8"/><circle cx="215.68" cy="362.68" r="0.8"/><circle cx="215.85" cy="362.66" r="0.8"/><circle cx="216.03" cy="362.63" r="0.8"/><circle cx="216.20" cy="362.60" r="0.8"/><circle cx="216.37" cy="362.57" r="0.8"/><circle cx="216.54" cy="362.54" r="0.8"/><circle cx="216.71" cy="362.51" r="0.8"/><circle cx="216.89" cy="362.47" r="0.8"/><circle cx="217.06" cy="362.41" r="0.8"/><circle cx="217.23" cy="362.34" r="0.8"/><circle cx="217.40" cy="362.28" r="0.8"/><circle cx="217.57" cy="362.21" r="0.8"/><circle cx="217.75" cy="362.15" r="0.8"/><circle cx="217.92" cy="362.09" r="0.8"/><circle cx="218.09" cy="362.02" r="0.8"/><circle cx="218.26" cy="361.96" r="0.8"/><circle cx="218.43" cy="361.89" r="0.8"/><circle cx="218.61" cy="361.83" r="0.8"/><circle cx="218.78" cy="361.76" r="0.8"/><circle cx="218.95" cy="361.70" r="0.8"/><circle cx="219.12" cy="361.63" r="0.8"/><circle cx="219.29" cy="361.56" r="0.8"/><circle cx="219.47" cy="361.49" r="0.8"/><circle cx="219.64" cy="361.42" r="0.8"/><circle cx="219.81" cy="361.35" r="0.8"/><circle cx="219.98" cy="361.28" r="0.8"/><circle cx="220.15" cy="361.21" r="0.8"/><circle cx="220.33" cy="361.14" r="0.8"/><circle cx="220.50" cy="361.07" r="0.8"/><circle cx="220.67" cy="360.99" r="0.8"/><circle cx="220.84" cy="360.92" r="0.8"/><circle cx="221.01" cy="360.84" r="0.8"/><circle cx="221.19" cy="360.76" r="0.8"/><circle cx="221.36" cy="360.68" r="0.8"/><circle cx="221.53" cy="360.59" r="0.8"/><circle cx="221.70" cy="360.51" r="0.8"/><circle cx="221.87" cy="360.42" r="0.8"/><circle cx="222.05" cy="360.33" r="0.8"/><circle cx="222.22" cy="360.24" r="0.8"/><circle cx="222.39" cy="360.14" r="0.8"/><circle cx="222.56" cy="360.04" r="0.8"/><circle cx="222.73" cy="359.94" r="0.8"/><circle cx="222.91" cy="359.83" r="0.8"/><circle cx="223.08" cy="359.72" r="0.8"/><circle cx="223.25" cy="359.60" r="0.8"/><circle cx="223.42" cy="359.47" r="0.8"/><circle cx="223.59" cy="359.34" r="0.8"/><circle cx="223.77" cy="359.19" r="0.8"/><circle cx="223.94" cy="359.04" r="0.8"/><circle cx="224.11" cy="358.87" r="0.8"/><circle cx="224.28" cy="358.68" r="0.8"/><circle cx="224.45" cy="358.47" r="0.8"/><circle cx="224.63" cy="358.22" r="0.8"/><circle cx="224.80" cy="357.93" r="0.8"/><circle cx="224.97" cy="357.55" r="0.8"/><circle cx="225.14" cy="357.02" r="0.8"/><circle cx="225.31" cy="356.00" r="0.8"/><circle cx="225.50" cy="352.70" r="0.8"/></g>
<line x1="207.6" y1="362.5" x2="226" y2="362.5" stroke="#ff0000" stroke-width="1.15"/>
<g fill="#6a6a6a"><circle cx="228.69" cy="366.00" r="0.68"/><circle cx="228.86" cy="365.42" r="0.68"/><circle cx="229.03" cy="365.12" r="0.68"/><circle cx="229.20" cy="364.90" r="0.68"/><circle cx="229.37" cy="364.74" r="0.68"/><circle cx="229.55" cy="364.60" r="0.68"/><circle cx="229.72" cy="364.47" r="0.68"/><circle cx="229.89" cy="364.37" r="0.68"/><circle cx="230.06" cy="364.27" r="0.68"/><circle cx="230.23" cy="364.18" r="0.68"/><circle cx="230.41" cy="364.10" r="0.68"/><circle cx="230.58" cy="364.02" r="0.68"/><circle cx="230.75" cy="363.95" r="0.68"/><circle cx="230.92" cy="363.88" r="0.68"/><circle cx="231.09" cy="363.82" r="0.68"/><circle cx="231.27" cy="363.76" r="0.68"/><circle cx="231.44" cy="363.70" r="0.68"/><circle cx="231.61" cy="363.64" r="0.68"/><circle cx="231.78" cy="363.59" r="0.68"/><circle cx="231.95" cy="363.53" r="0.68"/><circle cx="232.13" cy="363.48" r="0.68"/><circle cx="232.30" cy="363.43" r="0.68"/><circle cx="232.47" cy="363.39" r="0.68"/><circle cx="232.64" cy="363.34" r="0.68"/><circle cx="232.81" cy="363.29" r="0.68"/><circle cx="232.99" cy="363.25" r="0.68"/><circle cx="233.16" cy="363.20" r="0.68"/><circle cx="233.33" cy="363.16" r="0.68"/><circle cx="233.50" cy="363.12" r="0.68"/><circle cx="233.67" cy="363.07" r="0.68"/><circle cx="233.85" cy="363.03" r="0.68"/><circle cx="234.02" cy="362.99" r="0.68"/><circle cx="234.19" cy="362.95" r="0.68"/><circle cx="234.36" cy="362.91" r="0.68"/><circle cx="234.53" cy="362.87" r="0.68"/><circle cx="234.71" cy="362.83" r="0.68"/><circle cx="234.88" cy="362.80" r="0.68"/><circle cx="235.05" cy="362.76" r="0.68"/><circle cx="235.22" cy="362.72" r="0.68"/><circle cx="235.39" cy="362.68" r="0.68"/><circle cx="235.57" cy="362.65" r="0.68"/><circle cx="235.74" cy="362.61" r="0.68"/><circle cx="235.91" cy="362.57" r="0.68"/><circle cx="236.08" cy="362.54" r="0.68"/><circle cx="236.25" cy="362.50" r="0.68"/><circle cx="236.43" cy="362.46" r="0.68"/><circle cx="236.60" cy="362.43" r="0.68"/><circle cx="236.77" cy="362.39" r="0.68"/><circle cx="236.94" cy="362.35" r="0.68"/><circle cx="237.11" cy="362.32" r="0.68"/><circle cx="237.29" cy="362.27" r="0.68"/><circle cx="237.46" cy="362.21" r="0.68"/><circle cx="237.63" cy="362.15" r="0.68"/><circle cx="237.80" cy="362.09" r="0.68"/><circle cx="237.97" cy="362.02" r="0.68"/><circle cx="238.15" cy="361.96" r="0.68"/><circle cx="238.32" cy="361.90" r="0.68"/><circle cx="238.49" cy="361.84" r="0.68"/><circle cx="238.66" cy="361.77" r="0.68"/><circle cx="238.83" cy="361.71" r="0.68"/><circle cx="239.01" cy="361.65" r="0.68"/><circle cx="239.18" cy="361.58" r="0.68"/><circle cx="239.35" cy="361.52" r="0.68"/><circle cx="239.52" cy="361.46" r="0.68"/><circle cx="239.69" cy="361.39" r="0.68"/><circle cx="239.87" cy="361.32" r="0.68"/><circle cx="240.04" cy="361.26" r="0.68"/><circle cx="240.21" cy="361.19" r="0.68"/><circle cx="240.38" cy="361.12" r="0.68"/><circle cx="240.55" cy="361.05" r="0.68"/><circle cx="240.73" cy="360.98" r="0.68"/><circle cx="240.90" cy="360.91" r="0.68"/><circle cx="241.07" cy="360.84" r="0.68"/><circle cx="241.24" cy="360.76" r="0.68"/><circle cx="241.41" cy="360.69" r="0.68"/><circle cx="241.59" cy="360.61" r="0.68"/><circle cx="241.76" cy="360.53" r="0.68"/><circle cx="241.93" cy="360.45" r="0.68"/><circle cx="242.10" cy="360.37" r="0.68"/><circle cx="242.27" cy="360.28" r="0.68"/><circle cx="242.45" cy="360.20" r="0.68"/><circle cx="242.62" cy="360.11" r="0.68"/><circle cx="242.79" cy="360.01" r="0.68"/><circle cx="242.96" cy="359.92" r="0.68"/><circle cx="243.13" cy="359.82" r="0.68"/><circle cx="243.31" cy="359.71" r="0.68"/><circle cx="243.48" cy="359.60" r="0.68"/><circle cx="243.65" cy="359.49" r="0.68"/><circle cx="243.82" cy="359.36" r="0.68"/><circle cx="243.99" cy="359.23" r="0.68"/><circle cx="244.17" cy="359.09" r="0.68"/><circle cx="244.34" cy="358.94" r="0.68"/><circle cx="244.51" cy="358.78" r="0.68"/><circle cx="244.68" cy="358.60" r="0.68"/><circle cx="244.85" cy="358.39" r="0.68"/><circle cx="245.03" cy="358.15" r="0.68"/><circle cx="245.20" cy="357.87" r="0.68"/><circle cx="245.37" cy="357.51" r="0.68"/><circle cx="245.54" cy="356.99" r="0.68"/><circle cx="245.71" cy="356.00" r="0.68"/><circle cx="245.50" cy="350.70" r="0.68"/><circle cx="244.20" cy="353.50" r="0.68"/></g>
<line x1="228" y1="362.3" x2="246.4" y2="362.3" stroke="#ff0000" stroke-width="1.15"/>
<g fill="#111"><circle cx="249.19" cy="368.00" r="0.8"/><circle cx="249.36" cy="367.20" r="0.8"/><circle cx="249.53" cy="366.78" r="0.8"/><circle cx="249.70" cy="366.49" r="0.8"/><circle cx="249.87" cy="366.26" r="0.8"/><circle cx="250.05" cy="366.06" r="0.8"/><circle cx="250.22" cy="365.90" r="0.8"/><circle cx="250.39" cy="365.75" r="0.8"/><circle cx="250.56" cy="365.62" r="0.8"/><circle cx="250.73" cy="365.49" r="0.8"/><circle cx="250.91" cy="365.38" r="0.8"/><circle cx="251.08" cy="365.28" r="0.8"/><circle cx="251.25" cy="365.18" r="0.8"/><circle cx="251.42" cy="365.08" r="0.8"/><circle cx="251.59" cy="365.00" r="0.8"/><circle cx="251.77" cy="364.91" r="0.8"/><circle cx="251.94" cy="364.83" r="0.8"/><circle cx="252.11" cy="364.75" r="0.8"/><circle cx="252.28" cy="364.67" r="0.8"/><circle cx="252.45" cy="364.60" r="0.8"/><circle cx="252.63" cy="364.53" r="0.8"/><circle cx="252.80" cy="364.46" r="0.8"/><circle cx="252.97" cy="364.40" r="0.8"/><circle cx="253.14" cy="364.33" r="0.8"/><circle cx="253.31" cy="364.27" r="0.8"/><circle cx="253.49" cy="364.20" r="0.8"/><circle cx="253.66" cy="364.14" r="0.8"/><circle cx="253.83" cy="364.08" r="0.8"/><circle cx="254.00" cy="364.02" r="0.8"/><circle cx="254.17" cy="363.97" r="0.8"/><circle cx="254.35" cy="363.91" r="0.8"/><circle cx="254.52" cy="363.85" r="0.8"/><circle cx="254.69" cy="363.80" r="0.8"/><circle cx="254.86" cy="363.74" r="0.8"/><circle cx="255.03" cy="363.69" r="0.8"/><circle cx="255.21" cy="363.64" r="0.8"/><circle cx="255.38" cy="363.58" r="0.8"/><circle cx="255.55" cy="363.53" r="0.8"/><circle cx="255.72" cy="363.48" r="0.8"/><circle cx="255.89" cy="363.43" r="0.8"/><circle cx="256.07" cy="363.38" r="0.8"/><circle cx="256.24" cy="363.33" r="0.8"/><circle cx="256.41" cy="363.27" r="0.8"/><circle cx="256.58" cy="363.22" r="0.8"/><circle cx="256.75" cy="363.17" r="0.8"/><circle cx="256.93" cy="363.12" r="0.8"/><circle cx="257.10" cy="363.07" r="0.8"/><circle cx="257.27" cy="363.02" r="0.8"/><circle cx="257.44" cy="362.97" r="0.8"/><circle cx="257.61" cy="362.92" r="0.8"/><circle cx="257.79" cy="362.87" r="0.8"/><circle cx="257.96" cy="362.80" r="0.8"/><circle cx="258.13" cy="362.73" r="0.8"/><circle cx="258.30" cy="362.66" r="0.8"/><circle cx="258.47" cy="362.59" r="0.8"/><circle cx="258.65" cy="362.52" r="0.8"/><circle cx="258.82" cy="362.45" r="0.8"/><circle cx="258.99" cy="362.38" r="0.8"/><circle cx="259.16" cy="362.31" r="0.8"/><circle cx="259.33" cy="362.24" r="0.8"/><circle cx="259.51" cy="362.17" r="0.8"/><circle cx="259.68" cy="362.09" r="0.8"/><circle cx="259.85" cy="362.02" r="0.8"/><circle cx="260.02" cy="361.95" r="0.8"/><circle cx="260.19" cy="361.88" r="0.8"/><circle cx="260.37" cy="361.80" r="0.8"/><circle cx="260.54" cy="361.73" r="0.8"/><circle cx="260.71" cy="361.65" r="0.8"/><circle cx="260.88" cy="361.57" r="0.8"/><circle cx="261.05" cy="361.49" r="0.8"/><circle cx="261.23" cy="361.41" r="0.8"/><circle cx="261.40" cy="361.33" r="0.8"/><circle cx="261.57" cy="361.25" r="0.8"/><circle cx="261.74" cy="361.17" r="0.8"/><circle cx="261.91" cy="361.08" r="0.8"/><circle cx="262.09" cy="361.00" r="0.8"/><circle cx="262.26" cy="360.91" r="0.8"/><circle cx="262.43" cy="360.82" r="0.8"/><circle cx="262.60" cy="360.72" r="0.8"/><circle cx="262.77" cy="360.63" r="0.8"/><circle cx="262.95" cy="360.53" r="0.8"/><circle cx="263.12" cy="360.43" r="0.8"/><circle cx="263.29" cy="360.32" r="0.8"/><circle cx="263.46" cy="360.21" r="0.8"/><circle cx="263.63" cy="360.10" r="0.8"/><circle cx="263.81" cy="359.98" r="0.8"/><circle cx="263.98" cy="359.86" r="0.8"/><circle cx="264.15" cy="359.73" r="0.8"/><circle cx="264.32" cy="359.59" r="0.8"/><circle cx="264.49" cy="359.44" r="0.8"/><circle cx="264.67" cy="359.29" r="0.8"/><circle cx="264.84" cy="359.12" r="0.8"/><circle cx="265.01" cy="358.93" r="0.8"/><circle cx="265.18" cy="358.73" r="0.8"/><circle cx="265.35" cy="358.49" r="0.8"/><circle cx="265.53" cy="358.23" r="0.8"/><circle cx="265.70" cy="357.91" r="0.8"/><circle cx="265.87" cy="357.50" r="0.8"/><circle cx="266.04" cy="356.92" r="0.8"/><circle cx="266.21" cy="355.80" r="0.8"/></g>
<line x1="248.5" y1="362.9" x2="266.9" y2="362.9" stroke="#ff0000" stroke-width="1.15"/>
<g fill="#111"><circle cx="269.59" cy="366.60" r="0.8"/><circle cx="269.76" cy="366.08" r="0.8"/><circle cx="269.93" cy="365.81" r="0.8"/><circle cx="270.10" cy="365.62" r="0.8"/><circle cx="270.27" cy="365.47" r="0.8"/><circle cx="270.45" cy="365.35" r="0.8"/><circle cx="270.62" cy="365.24" r="0.8"/><circle cx="270.79" cy="365.14" r="0.8"/><circle cx="270.96" cy="365.06" r="0.8"/><circle cx="271.13" cy="364.98" r="0.8"/><circle cx="271.31" cy="364.91" r="0.8"/><circle cx="271.48" cy="364.84" r="0.8"/><circle cx="271.65" cy="364.77" r="0.8"/><circle cx="271.82" cy="364.71" r="0.8"/><circle cx="271.99" cy="364.66" r="0.8"/><circle cx="272.17" cy="364.60" r="0.8"/><circle cx="272.34" cy="364.55" r="0.8"/><circle cx="272.51" cy="364.50" r="0.8"/><circle cx="272.68" cy="364.45" r="0.8"/><circle cx="272.85" cy="364.40" r="0.8"/><circle cx="273.03" cy="364.36" r="0.8"/><circle cx="273.20" cy="364.31" r="0.8"/><circle cx="273.37" cy="364.27" r="0.8"/><circle cx="273.54" cy="364.23" r="0.8"/><circle cx="273.71" cy="364.18" r="0.8"/><circle cx="273.89" cy="364.14" r="0.8"/><circle cx="274.06" cy="364.10" r="0.8"/><circle cx="274.23" cy="364.07" r="0.8"/><circle cx="274.40" cy="364.03" r="0.8"/><circle cx="274.57" cy="363.99" r="0.8"/><circle cx="274.75" cy="363.95" r="0.8"/><circle cx="274.92" cy="363.92" r="0.8"/><circle cx="275.09" cy="363.88" r="0.8"/><circle cx="275.26" cy="363.85" r="0.8"/><circle cx="275.43" cy="363.81" r="0.8"/><circle cx="275.61" cy="363.78" r="0.8"/><circle cx="275.78" cy="363.74" r="0.8"/><circle cx="275.95" cy="363.71" r="0.8"/><circle cx="276.12" cy="363.67" r="0.8"/><circle cx="276.29" cy="363.64" r="0.8"/><circle cx="276.47" cy="363.61" r="0.8"/><circle cx="276.64" cy="363.58" r="0.8"/><circle cx="276.81" cy="363.54" r="0.8"/><circle cx="276.98" cy="363.51" r="0.8"/><circle cx="277.15" cy="363.48" r="0.8"/><circle cx="277.33" cy="363.44" r="0.8"/><circle cx="277.50" cy="363.41" r="0.8"/><circle cx="277.67" cy="363.38" r="0.8"/><circle cx="277.84" cy="363.35" r="0.8"/><circle cx="278.01" cy="363.32" r="0.8"/><circle cx="278.19" cy="363.28" r="0.8"/><circle cx="278.36" cy="363.25" r="0.8"/><circle cx="278.53" cy="363.22" r="0.8"/><circle cx="278.70" cy="363.18" r="0.8"/><circle cx="278.87" cy="363.15" r="0.8"/><circle cx="279.05" cy="363.12" r="0.8"/><circle cx="279.22" cy="363.08" r="0.8"/><circle cx="279.39" cy="363.05" r="0.8"/><circle cx="279.56" cy="363.02" r="0.8"/><circle cx="279.73" cy="362.98" r="0.8"/><circle cx="279.91" cy="362.95" r="0.8"/><circle cx="280.08" cy="362.91" r="0.8"/><circle cx="280.25" cy="362.88" r="0.8"/><circle cx="280.42" cy="362.84" r="0.8"/><circle cx="280.59" cy="362.81" r="0.8"/><circle cx="280.77" cy="362.77" r="0.8"/><circle cx="280.94" cy="362.74" r="0.8"/><circle cx="281.11" cy="362.70" r="0.8"/><circle cx="281.28" cy="362.66" r="0.8"/><circle cx="281.45" cy="362.63" r="0.8"/><circle cx="281.63" cy="362.59" r="0.8"/><circle cx="281.80" cy="362.55" r="0.8"/><circle cx="281.97" cy="362.51" r="0.8"/><circle cx="282.14" cy="362.47" r="0.8"/><circle cx="282.31" cy="362.43" r="0.8"/><circle cx="282.49" cy="362.39" r="0.8"/><circle cx="282.66" cy="362.35" r="0.8"/><circle cx="282.83" cy="362.30" r="0.8"/><circle cx="283.00" cy="362.26" r="0.8"/><circle cx="283.17" cy="362.21" r="0.8"/><circle cx="283.35" cy="362.17" r="0.8"/><circle cx="283.52" cy="362.12" r="0.8"/><circle cx="283.69" cy="362.07" r="0.8"/><circle cx="283.86" cy="362.01" r="0.8"/><circle cx="284.03" cy="361.96" r="0.8"/><circle cx="284.21" cy="361.90" r="0.8"/><circle cx="284.38" cy="361.84" r="0.8"/><circle cx="284.55" cy="361.78" r="0.8"/><circle cx="284.72" cy="361.72" r="0.8"/><circle cx="284.89" cy="361.65" r="0.8"/><circle cx="285.07" cy="361.57" r="0.8"/><circle cx="285.24" cy="361.49" r="0.8"/><circle cx="285.41" cy="361.40" r="0.8"/><circle cx="285.58" cy="361.30" r="0.8"/><circle cx="285.75" cy="361.19" r="0.8"/><circle cx="285.93" cy="361.06" r="0.8"/><circle cx="286.10" cy="360.91" r="0.8"/><circle cx="286.27" cy="360.71" r="0.8"/><circle cx="286.44" cy="360.44" r="0.8"/><circle cx="286.61" cy="359.90" r="0.8"/></g>
<line x1="268.9" y1="363.3" x2="287.3" y2="363.3" stroke="#ff0000" stroke-width="1.15"/>
<g fill="#111"><circle cx="289.99" cy="369.00" r="0.8"/><circle cx="290.17" cy="368.21" r="0.8"/><circle cx="290.35" cy="367.80" r="0.8"/><circle cx="290.52" cy="367.52" r="0.8"/><circle cx="290.70" cy="367.29" r="0.8"/><circle cx="290.88" cy="367.10" r="0.8"/><circle cx="291.06" cy="366.94" r="0.8"/><circle cx="291.24" cy="366.79" r="0.8"/><circle cx="291.41" cy="366.66" r="0.8"/><circle cx="291.59" cy="366.54" r="0.8"/><circle cx="291.77" cy="366.43" r="0.8"/><circle cx="291.95" cy="366.33" r="0.8"/><circle cx="292.13" cy="366.23" r="0.8"/><circle cx="292.30" cy="366.14" r="0.8"/><circle cx="292.48" cy="366.05" r="0.8"/><circle cx="292.66" cy="365.97" r="0.8"/><circle cx="292.84" cy="365.89" r="0.8"/><circle cx="293.02" cy="365.81" r="0.8"/><circle cx="293.19" cy="365.74" r="0.8"/><circle cx="293.37" cy="365.67" r="0.8"/><circle cx="293.55" cy="365.60" r="0.8"/><circle cx="293.73" cy="365.53" r="0.8"/><circle cx="293.91" cy="365.47" r="0.8"/><circle cx="294.08" cy="365.40" r="0.8"/><circle cx="294.26" cy="365.34" r="0.8"/><circle cx="294.44" cy="365.28" r="0.8"/><circle cx="294.62" cy="365.22" r="0.8"/><circle cx="294.80" cy="365.16" r="0.8"/><circle cx="294.97" cy="365.10" r="0.8"/><circle cx="295.15" cy="365.05" r="0.8"/><circle cx="295.33" cy="364.99" r="0.8"/><circle cx="295.51" cy="364.94" r="0.8"/><circle cx="295.69" cy="364.88" r="0.8"/><circle cx="295.86" cy="364.83" r="0.8"/><circle cx="296.04" cy="364.77" r="0.8"/><circle cx="296.22" cy="364.72" r="0.8"/><circle cx="296.40" cy="364.67" r="0.8"/><circle cx="296.58" cy="364.62" r="0.8"/><circle cx="296.75" cy="364.57" r="0.8"/><circle cx="296.93" cy="364.52" r="0.8"/><circle cx="297.11" cy="364.47" r="0.8"/><circle cx="297.29" cy="364.42" r="0.8"/><circle cx="297.47" cy="364.37" r="0.8"/><circle cx="297.64" cy="364.32" r="0.8"/><circle cx="297.82" cy="364.27" r="0.8"/><circle cx="298.00" cy="364.22" r="0.8"/><circle cx="298.18" cy="364.17" r="0.8"/><circle cx="298.36" cy="364.12" r="0.8"/><circle cx="298.53" cy="364.07" r="0.8"/><circle cx="298.71" cy="364.02" r="0.8"/><circle cx="298.89" cy="363.97" r="0.8"/><circle cx="299.07" cy="363.91" r="0.8"/><circle cx="299.25" cy="363.85" r="0.8"/><circle cx="299.42" cy="363.79" r="0.8"/><circle cx="299.60" cy="363.73" r="0.8"/><circle cx="299.78" cy="363.67" r="0.8"/><circle cx="299.96" cy="363.61" r="0.8"/><circle cx="300.14" cy="363.54" r="0.8"/><circle cx="300.31" cy="363.48" r="0.8"/><circle cx="300.49" cy="363.42" r="0.8"/><circle cx="300.67" cy="363.36" r="0.8"/><circle cx="300.85" cy="363.30" r="0.8"/><circle cx="301.03" cy="363.23" r="0.8"/><circle cx="301.20" cy="363.17" r="0.8"/><circle cx="301.38" cy="363.10" r="0.8"/><circle cx="301.56" cy="363.04" r="0.8"/><circle cx="301.74" cy="362.97" r="0.8"/><circle cx="301.92" cy="362.91" r="0.8"/><circle cx="302.09" cy="362.84" r="0.8"/><circle cx="302.27" cy="362.77" r="0.8"/><circle cx="302.45" cy="362.70" r="0.8"/><circle cx="302.63" cy="362.63" r="0.8"/><circle cx="302.81" cy="362.56" r="0.8"/><circle cx="302.98" cy="362.49" r="0.8"/><circle cx="303.16" cy="362.41" r="0.8"/><circle cx="303.34" cy="362.34" r="0.8"/><circle cx="303.52" cy="362.26" r="0.8"/><circle cx="303.70" cy="362.18" r="0.8"/><circle cx="303.87" cy="362.10" r="0.8"/><circle cx="304.05" cy="362.02" r="0.8"/><circle cx="304.23" cy="361.93" r="0.8"/><circle cx="304.41" cy="361.84" r="0.8"/><circle cx="304.59" cy="361.75" r="0.8"/><circle cx="304.76" cy="361.66" r="0.8"/><circle cx="304.94" cy="361.56" r="0.8"/><circle cx="305.12" cy="361.45" r="0.8"/><circle cx="305.30" cy="361.34" r="0.8"/><circle cx="305.48" cy="361.23" r="0.8"/><circle cx="305.65" cy="361.11" r="0.8"/><circle cx="305.83" cy="360.98" r="0.8"/><circle cx="306.01" cy="360.85" r="0.8"/><circle cx="306.19" cy="360.70" r="0.8"/><circle cx="306.37" cy="360.54" r="0.8"/><circle cx="306.54" cy="360.36" r="0.8"/><circle cx="306.72" cy="360.15" r="0.8"/><circle cx="306.90" cy="359.92" r="0.8"/><circle cx="307.08" cy="359.64" r="0.8"/><circle cx="307.26" cy="359.28" r="0.8"/><circle cx="307.43" cy="358.78" r="0.8"/><circle cx="307.61" cy="357.80" r="0.8"/></g>
<line x1="289.3" y1="364" x2="308.3" y2="364" stroke="#ff0000" stroke-width="1.15"/>
<circle cx="73.90" cy="385.80" r="2.3" fill="#440154"/>
<circle cx="73.90" cy="413.20" r="2.10" fill="none" stroke="#471365" stroke-width="1.0"/>
<circle cx="94.35" cy="385.80" r="6.7" fill="#bddf26"/>
<circle cx="94.35" cy="413.20" r="6.7" fill="#fde725"/>
<circle cx="94.35" cy="433.50" r="6.5" fill="#dfe318"/>
<circle cx="94.35" cy="453.80" r="6.7" fill="#94d740"/>
<circle cx="94.35" cy="474.10" r="6.7" fill="#64cb5f"/>
<circle cx="114.80" cy="385.80" r="3.5" fill="#460c5e"/>
<circle cx="114.80" cy="413.20" r="3.00" fill="none" stroke="#471365" stroke-width="1.0"/>
<circle cx="114.80" cy="433.50" r="2.80" fill="none" stroke="#471365" stroke-width="1.0"/>
<circle cx="114.80" cy="453.80" r="2.50" fill="none" stroke="#471365" stroke-width="1.0"/>
<circle cx="114.80" cy="474.10" r="3.00" fill="none" stroke="#471365" stroke-width="1.0"/>
<circle cx="135.25" cy="385.80" r="5.1" fill="#31678e"/>
<circle cx="135.25" cy="413.20" r="4.2" fill="#482475"/>
<circle cx="135.25" cy="433.50" r="4.7" fill="#472e7c"/>
<circle cx="135.25" cy="453.80" r="6.1" fill="#2c738e"/>
<circle cx="135.25" cy="474.10" r="6.1" fill="#7ad151"/>
<circle cx="155.70" cy="385.80" r="6.7" fill="#25848e"/>
<circle cx="155.70" cy="413.20" r="6.7" fill="#21918c"/>
<circle cx="155.70" cy="433.50" r="6.5" fill="#2c738e"/>
<circle cx="155.70" cy="453.80" r="6.7" fill="#2f6c8e"/>
<circle cx="155.70" cy="474.10" r="6.7" fill="#3b528b"/>
<circle cx="176.15" cy="385.80" r="3.5" fill="#440154"/>
<circle cx="176.15" cy="413.20" r="3.00" fill="none" stroke="#471365" stroke-width="1.0"/>
<circle cx="176.15" cy="433.50" r="3.00" fill="none" stroke="#471365" stroke-width="1.0"/>
<circle cx="176.15" cy="453.80" r="3.70" fill="none" stroke="#471365" stroke-width="1.0"/>
<circle cx="176.15" cy="474.10" r="1.80" fill="none" stroke="#471365" stroke-width="1.0"/>
<circle cx="196.60" cy="385.80" r="4.9" fill="#472e7c"/>
<circle cx="196.60" cy="413.20" r="4.7" fill="#482475"/>
<circle cx="196.60" cy="433.50" r="5.5" fill="#472e7c"/>
<circle cx="196.60" cy="453.80" r="6.3" fill="#3b528b"/>
<circle cx="196.60" cy="474.10" r="4.2" fill="#460c5e"/>
<circle cx="217.05" cy="385.80" r="3.9" fill="#460c5e"/>
<circle cx="217.05" cy="413.20" r="3.50" fill="none" stroke="#471365" stroke-width="1.0"/>
<circle cx="217.05" cy="433.50" r="3.50" fill="none" stroke="#471365" stroke-width="1.0"/>
<circle cx="217.05" cy="453.80" r="3.80" fill="none" stroke="#471365" stroke-width="1.0"/>
<circle cx="217.05" cy="474.10" r="3.50" fill="none" stroke="#471365" stroke-width="1.0"/>
<circle cx="237.50" cy="385.80" r="2.7" fill="#440154"/>
<circle cx="237.50" cy="413.20" r="2.10" fill="none" stroke="#471365" stroke-width="1.0"/>
<circle cx="237.50" cy="433.50" r="2.50" fill="none" stroke="#471365" stroke-width="1.0"/>
<circle cx="237.50" cy="474.10" r="2.10" fill="none" stroke="#471365" stroke-width="1.0"/>
<circle cx="257.95" cy="385.80" r="5.3" fill="#463480"/>
<circle cx="257.95" cy="413.20" r="4.40" fill="none" stroke="#472a79" stroke-width="1.0"/>
<circle cx="257.95" cy="433.50" r="4.60" fill="none" stroke="#472a79" stroke-width="1.0"/>
<circle cx="257.95" cy="453.80" r="4.20" fill="none" stroke="#472a79" stroke-width="1.0"/>
<circle cx="257.95" cy="474.10" r="4.60" fill="none" stroke="#472a79" stroke-width="1.0"/>
<circle cx="278.40" cy="385.80" r="4.1" fill="#471a6b"/>
<circle cx="278.40" cy="413.20" r="3.50" fill="none" stroke="#471365" stroke-width="1.0"/>
<circle cx="278.40" cy="433.50" r="3.80" fill="none" stroke="#471365" stroke-width="1.0"/>
<circle cx="278.40" cy="474.10" r="3.00" fill="none" stroke="#471365" stroke-width="1.0"/>
<circle cx="298.85" cy="385.80" r="4.3" fill="#460c5e"/>
<circle cx="298.85" cy="413.20" r="3.80" fill="none" stroke="#471365" stroke-width="1.0"/>
<circle cx="298.85" cy="433.50" r="4.00" fill="none" stroke="#471365" stroke-width="1.0"/>
<circle cx="298.85" cy="453.80" r="3.20" fill="none" stroke="#471365" stroke-width="1.0"/>
<circle cx="298.85" cy="474.10" r="3.50" fill="none" stroke="#471365" stroke-width="1.0"/>
<rect x="345.6" y="348.40000000000003" width="313.20" height="57.70" stroke="#e4e4e4" stroke-width="0.7" fill="none"/>
<rect x="345.50" y="401.10" width="1.2" height="5.00" fill="#1ebff0"/>
<rect x="348.78" y="399.20" width="1.2" height="6.90" fill="#1ebff0"/>
<rect x="352.06" y="404.80" width="1.2" height="1.30" fill="#1ebff0"/>
<rect x="355.34" y="403.20" width="1.2" height="2.90" fill="#1ebff0"/>
<rect x="358.62" y="400.00" width="1.2" height="6.10" fill="#1ebff0"/>
<rect x="361.90" y="402.40" width="1.2" height="3.70" fill="#1ebff0"/>
<rect x="365.18" y="404.80" width="1.2" height="1.30" fill="#1ebff0"/>
<rect x="368.46" y="401.30" width="1.2" height="4.80" fill="#1ebff0"/>
<rect x="371.74" y="400.80" width="1.2" height="5.30" fill="#1ebff0"/>
<rect x="375.02" y="400.30" width="1.2" height="5.80" fill="#1ebff0"/>
<rect x="378.30" y="404.50" width="1.2" height="1.60" fill="#1ebff0"/>
<rect x="381.58" y="402.90" width="1.2" height="3.20" fill="#1ebff0"/>
<rect x="384.86" y="394.90" width="1.2" height="11.20" fill="#1ebff0"/>
<rect x="388.14" y="397.60" width="1.2" height="8.50" fill="#1ebff0"/>
<rect x="391.42" y="404.50" width="1.2" height="1.60" fill="#1ebff0"/>
<rect x="394.70" y="397.10" width="1.2" height="9.00" fill="#1ebff0"/>
<rect x="397.98" y="403.50" width="1.2" height="2.60" fill="#050708"/>
<rect x="401.26" y="404.80" width="1.2" height="1.30" fill="#050708"/>
<rect x="404.54" y="405.10" width="1.2" height="1.00" fill="#050708"/>
<rect x="407.82" y="404.00" width="1.2" height="2.10" fill="#050708"/>
<rect x="411.10" y="399.20" width="1.2" height="6.90" fill="#050708"/>
<rect x="414.38" y="404.00" width="1.2" height="2.10" fill="#050708"/>
<rect x="417.66" y="405.10" width="1.2" height="1.00" fill="#050708"/>
<rect x="420.94" y="404.00" width="1.2" height="2.10" fill="#050708"/>
<rect x="424.22" y="402.10" width="1.2" height="4.00" fill="#050708"/>
<rect x="427.50" y="402.90" width="1.2" height="3.20" fill="#050708"/>
<rect x="430.78" y="404.80" width="1.2" height="1.30" fill="#050708"/>
<rect x="434.06" y="404.00" width="1.2" height="2.10" fill="#050708"/>
<rect x="437.34" y="397.10" width="1.2" height="9.00" fill="#050708"/>
<rect x="440.62" y="404.00" width="1.2" height="2.10" fill="#050708"/>
<rect x="443.90" y="405.10" width="1.2" height="1.00" fill="#050708"/>
<rect x="447.18" y="400.50" width="1.2" height="5.60" fill="#050708"/>
<rect x="450.46" y="373.00" width="1.2" height="33.10" fill="#e62725"/>
<rect x="453.74" y="371.60" width="1.2" height="34.50" fill="#e62725"/>
<rect x="457.02" y="394.90" width="1.2" height="11.20" fill="#e62725"/>
<rect x="460.30" y="379.40" width="1.2" height="26.70" fill="#e62725"/>
<rect x="463.58" y="392.80" width="1.2" height="13.30" fill="#e62725"/>
<rect x="466.86" y="393.10" width="1.2" height="13.00" fill="#e62725"/>
<rect x="470.14" y="398.10" width="1.2" height="8.00" fill="#e62725"/>
<rect x="473.42" y="393.10" width="1.2" height="13.00" fill="#e62725"/>
<rect x="476.70" y="361.90" width="1.2" height="44.20" fill="#e62725"/>
<rect x="479.98" y="369.80" width="1.2" height="36.30" fill="#e62725"/>
<rect x="483.26" y="393.90" width="1.2" height="12.20" fill="#e62725"/>
<rect x="486.54" y="393.10" width="1.2" height="13.00" fill="#e62725"/>
<rect x="489.82" y="367.40" width="1.2" height="38.70" fill="#e62725"/>
<rect x="493.10" y="388.00" width="1.2" height="18.10" fill="#e62725"/>
<rect x="496.38" y="399.20" width="1.2" height="6.90" fill="#e62725"/>
<rect x="499.66" y="382.00" width="1.2" height="24.10" fill="#e62725"/>
<rect x="502.94" y="404.30" width="1.2" height="1.80" fill="#cbcacb"/>
<rect x="506.22" y="403.80" width="1.2" height="2.30" fill="#cbcacb"/>
<rect x="509.50" y="403.80" width="1.2" height="2.30" fill="#cbcacb"/>
<rect x="512.78" y="403.80" width="1.2" height="2.30" fill="#cbcacb"/>
<rect x="516.06" y="405.30" width="1.2" height="0.80" fill="#cbcacb"/>
<rect x="519.34" y="403.80" width="1.2" height="2.30" fill="#cbcacb"/>
<rect x="522.62" y="403.80" width="1.2" height="2.30" fill="#cbcacb"/>
<rect x="525.90" y="403.80" width="1.2" height="2.30" fill="#cbcacb"/>
<rect x="529.18" y="405.60" width="1.2" height="0.50" fill="#cbcacb"/>
<rect x="532.46" y="405.60" width="1.2" height="0.50" fill="#cbcacb"/>
<rect x="535.74" y="405.40" width="1.2" height="0.70" fill="#cbcacb"/>
<rect x="539.02" y="405.40" width="1.2" height="0.70" fill="#cbcacb"/>
<rect x="542.30" y="405.40" width="1.2" height="0.70" fill="#cbcacb"/>
<rect x="545.58" y="405.10" width="1.2" height="1.00" fill="#cbcacb"/>
<rect x="548.86" y="404.90" width="1.2" height="1.20" fill="#cbcacb"/>
<rect x="552.14" y="404.60" width="1.2" height="1.50" fill="#cbcacb"/>
<rect x="555.42" y="402.80" width="1.2" height="3.30" fill="#a1cf64"/>
<rect x="558.70" y="402.80" width="1.2" height="3.30" fill="#a1cf64"/>
<rect x="561.98" y="402.80" width="1.2" height="3.30" fill="#a1cf64"/>
<rect x="565.26" y="402.50" width="1.2" height="3.60" fill="#a1cf64"/>
<rect x="568.54" y="404.60" width="1.2" height="1.50" fill="#a1cf64"/>
<rect x="571.82" y="404.60" width="1.2" height="1.50" fill="#a1cf64"/>
<rect x="575.10" y="404.90" width="1.2" height="1.20" fill="#a1cf64"/>
<rect x="578.38" y="404.60" width="1.2" height="1.50" fill="#a1cf64"/>
<rect x="581.66" y="404.60" width="1.2" height="1.50" fill="#a1cf64"/>
<rect x="584.94" y="404.90" width="1.2" height="1.20" fill="#a1cf64"/>
<rect x="588.22" y="404.60" width="1.2" height="1.50" fill="#a1cf64"/>
<rect x="591.50" y="404.60" width="1.2" height="1.50" fill="#a1cf64"/>
<rect x="594.78" y="404.90" width="1.2" height="1.20" fill="#a1cf64"/>
<rect x="598.06" y="404.60" width="1.2" height="1.50" fill="#a1cf64"/>
<rect x="601.34" y="404.60" width="1.2" height="1.50" fill="#a1cf64"/>
<rect x="604.62" y="404.60" width="1.2" height="1.50" fill="#a1cf64"/>
<rect x="607.90" y="405.30" width="1.2" height="0.80" fill="#edc8c5"/>
<rect x="611.18" y="405.80" width="1.2" height="0.30" fill="#edc8c5"/>
<rect x="614.46" y="402.80" width="1.2" height="3.30" fill="#edc8c5"/>
<rect x="617.74" y="405.40" width="1.2" height="0.70" fill="#edc8c5"/>
<rect x="621.02" y="405.60" width="1.2" height="0.50" fill="#edc8c5"/>
<rect x="624.30" y="405.60" width="1.2" height="0.50" fill="#edc8c5"/>
<rect x="627.58" y="404.30" width="1.2" height="1.80" fill="#edc8c5"/>
<rect x="630.86" y="405.10" width="1.2" height="1.00" fill="#edc8c5"/>
<rect x="634.14" y="405.60" width="1.2" height="0.50" fill="#edc8c5"/>
<rect x="637.42" y="405.60" width="1.2" height="0.50" fill="#edc8c5"/>
<rect x="640.70" y="405.10" width="1.2" height="1.00" fill="#edc8c5"/>
<rect x="643.98" y="405.40" width="1.2" height="0.70" fill="#edc8c5"/>
<rect x="647.26" y="405.40" width="1.2" height="0.70" fill="#edc8c5"/>
<rect x="650.54" y="405.60" width="1.2" height="0.50" fill="#edc8c5"/>
<rect x="653.82" y="403.40" width="1.2" height="2.70" fill="#edc8c5"/>
<rect x="657.10" y="403.40" width="1.2" height="2.70" fill="#edc8c5"/>
<rect x="346.30" y="344.1" width="49.3" height="3.50" fill="#1ebff0"/>
<text x="370.95" y="340.4" font-size="7.2" text-anchor="middle" fill="#231f20" stroke="#231f20" stroke-width="0.13" textLength="17.81" lengthAdjust="spacingAndGlyphs" >C &gt; A</text>
<rect x="398.80" y="344.1" width="49.3" height="3.50" fill="#050708"/>
<text x="423.45" y="340.4" font-size="7.2" text-anchor="middle" fill="#231f20" stroke="#231f20" stroke-width="0.13" textLength="19.01" lengthAdjust="spacingAndGlyphs" >C &gt; G</text>
<rect x="451.20" y="344.1" width="49.3" height="3.50" fill="#e62725"/>
<text x="475.85" y="340.4" font-size="7.2" text-anchor="middle" fill="#231f20" stroke="#231f20" stroke-width="0.13" textLength="17.67" lengthAdjust="spacingAndGlyphs" >C &gt; T</text>
<rect x="504.00" y="344.1" width="49.3" height="3.50" fill="#cbcacb"/>
<text x="528.65" y="340.4" font-size="7.2" text-anchor="middle" fill="#231f20" stroke="#231f20" stroke-width="0.13" textLength="16.88" lengthAdjust="spacingAndGlyphs" >T &gt; A</text>
<rect x="555.90" y="344.1" width="49.3" height="3.50" fill="#a1cf64"/>
<text x="580.55" y="340.4" font-size="7.2" text-anchor="middle" fill="#231f20" stroke="#231f20" stroke-width="0.13" textLength="17.67" lengthAdjust="spacingAndGlyphs" >T &gt; C</text>
<rect x="608.80" y="344.1" width="49.3" height="3.50" fill="#edc8c5"/>
<text x="633.45" y="340.4" font-size="7.2" text-anchor="middle" fill="#231f20" stroke="#231f20" stroke-width="0.13" textLength="18.07" lengthAdjust="spacingAndGlyphs" >T &gt; G</text>
<text x="348.4" y="357" font-size="7.2" text-anchor="start" fill="#231f20" stroke="#231f20" stroke-width="0.13" textLength="19.7" lengthAdjust="spacingAndGlyphs" >SBS_L</text>
<rect x="345.7" y="449.6" width="313.10" height="57.30" stroke="#e4e4e4" stroke-width="0.7" fill="none"/>
<rect x="346.05" y="503.20" width="1.3" height="3.70" fill="#03bcee"/>
<rect x="350.07" y="506.40" width="1.3" height="0.50" fill="#03bcee"/>
<rect x="354.09" y="506.40" width="1.3" height="0.50" fill="#03bcee"/>
<rect x="358.10" y="505.20" width="1.3" height="1.70" fill="#03bcee"/>
<rect x="362.12" y="506.40" width="1.3" height="0.50" fill="#03bcee"/>
<rect x="366.14" y="506.40" width="1.3" height="0.50" fill="#03bcee"/>
<rect x="370.16" y="503.70" width="1.3" height="3.20" fill="#03bcee"/>
<rect x="374.18" y="506.40" width="1.3" height="0.50" fill="#03bcee"/>
<rect x="378.19" y="504.40" width="1.3" height="2.50" fill="#03bcee"/>
<rect x="346.20" y="445.3" width="33.14" height="3.5" fill="#03bcee"/>
<text x="362.77" y="441.6" font-size="6.6" text-anchor="middle" fill="#231f20" stroke="#231f20" stroke-width="0.13" textLength="22.55" lengthAdjust="spacingAndGlyphs" >AC &gt; NN</text>
<rect x="382.21" y="505.70" width="1.3" height="1.20" fill="#0266ca"/>
<rect x="386.23" y="506.40" width="1.3" height="0.50" fill="#0266ca"/>
<rect x="390.25" y="506.70" width="1.3" height="0.20" fill="#0266ca"/>
<rect x="394.27" y="506.20" width="1.3" height="0.70" fill="#0266ca"/>
<rect x="398.28" y="506.70" width="1.3" height="0.20" fill="#0266ca"/>
<rect x="402.30" y="505.20" width="1.3" height="1.70" fill="#0266ca"/>
<rect x="382.36" y="445.3" width="21.09" height="3.5" fill="#0266ca"/>
<text x="392.91" y="441.6" font-size="6.6" text-anchor="middle" fill="#231f20" stroke="#231f20" stroke-width="0.13" textLength="21.4" lengthAdjust="spacingAndGlyphs" >AT &gt; NN</text>
<rect x="406.32" y="506.70" width="1.3" height="0.20" fill="#a1cf64"/>
<rect x="410.34" y="500.00" width="1.3" height="6.90" fill="#a1cf64"/>
<rect x="414.36" y="496.00" width="1.3" height="10.90" fill="#a1cf64"/>
<rect x="418.37" y="503.20" width="1.3" height="3.70" fill="#a1cf64"/>
<rect x="422.39" y="506.70" width="1.3" height="0.20" fill="#a1cf64"/>
<rect x="426.41" y="502.40" width="1.3" height="4.50" fill="#a1cf64"/>
<rect x="430.43" y="504.90" width="1.3" height="2.00" fill="#a1cf64"/>
<rect x="434.45" y="505.90" width="1.3" height="1.00" fill="#a1cf64"/>
<rect x="438.46" y="506.70" width="1.3" height="0.20" fill="#a1cf64"/>
<rect x="406.47" y="445.3" width="33.14" height="3.5" fill="#a1cf64"/>
<text x="423.04" y="441.6" font-size="6.6" text-anchor="middle" fill="#231f20" stroke="#231f20" stroke-width="0.13" textLength="22.86" lengthAdjust="spacingAndGlyphs" >CC &gt; NN</text>
<rect x="442.48" y="506.60" width="1.3" height="0.30" fill="#016601"/>
<rect x="446.50" y="506.60" width="1.3" height="0.30" fill="#016601"/>
<rect x="450.52" y="506.60" width="1.3" height="0.30" fill="#016601"/>
<rect x="454.54" y="506.60" width="1.3" height="0.30" fill="#016601"/>
<rect x="458.55" y="506.60" width="1.3" height="0.30" fill="#016601"/>
<rect x="462.57" y="506.20" width="1.3" height="0.70" fill="#016601"/>
<rect x="442.63" y="445.3" width="21.09" height="3.5" fill="#016601"/>
<text x="453.18" y="441.6" font-size="6.6" text-anchor="middle" fill="#231f20" stroke="#231f20" stroke-width="0.13" textLength="23.18" lengthAdjust="spacingAndGlyphs" >CG &gt; NN</text>
<rect x="466.59" y="490.80" width="1.3" height="16.10" fill="#ff9898"/>
<rect x="470.61" y="498.20" width="1.3" height="8.70" fill="#ff9898"/>
<rect x="474.63" y="503.70" width="1.3" height="3.20" fill="#ff9898"/>
<rect x="478.64" y="505.90" width="1.3" height="1.00" fill="#ff9898"/>
<rect x="482.66" y="505.90" width="1.3" height="1.00" fill="#ff9898"/>
<rect x="486.68" y="505.90" width="1.3" height="1.00" fill="#ff9898"/>
<rect x="490.70" y="502.90" width="1.3" height="4.00" fill="#ff9898"/>
<rect x="494.72" y="505.90" width="1.3" height="1.00" fill="#ff9898"/>
<rect x="498.73" y="505.90" width="1.3" height="1.00" fill="#ff9898"/>
<rect x="466.74" y="445.3" width="33.14" height="3.5" fill="#ff9898"/>
<text x="483.31" y="441.6" font-size="6.6" text-anchor="middle" fill="#231f20" stroke="#231f20" stroke-width="0.13" textLength="22.13" lengthAdjust="spacingAndGlyphs" >CT &gt; NN</text>
<rect x="502.75" y="506.40" width="1.3" height="0.50" fill="#e22926"/>
<rect x="506.77" y="498.70" width="1.3" height="8.20" fill="#e22926"/>
<rect x="510.79" y="503.40" width="1.3" height="3.50" fill="#e22926"/>
<rect x="514.81" y="505.70" width="1.3" height="1.20" fill="#e22926"/>
<rect x="518.82" y="506.60" width="1.3" height="0.30" fill="#e22926"/>
<rect x="522.84" y="506.60" width="1.3" height="0.30" fill="#e22926"/>
<rect x="502.90" y="445.3" width="21.09" height="3.5" fill="#e22926"/>
<text x="513.45" y="441.6" font-size="6.6" text-anchor="middle" fill="#231f20" stroke="#231f20" stroke-width="0.13" textLength="23.18" lengthAdjust="spacingAndGlyphs" >GC &gt; NN</text>
<rect x="526.86" y="504.90" width="1.3" height="2.00" fill="#ffb166"/>
<rect x="530.88" y="506.70" width="1.3" height="0.20" fill="#ffb166"/>
<rect x="534.90" y="503.20" width="1.3" height="3.70" fill="#ffb166"/>
<rect x="538.91" y="506.70" width="1.3" height="0.20" fill="#ffb166"/>
<rect x="542.93" y="506.20" width="1.3" height="0.70" fill="#ffb166"/>
<rect x="546.95" y="505.20" width="1.3" height="1.70" fill="#ffb166"/>
<rect x="527.01" y="445.3" width="21.09" height="3.5" fill="#ffb166"/>
<text x="537.55" y="441.6" font-size="6.6" text-anchor="middle" fill="#231f20" stroke="#231f20" stroke-width="0.13" textLength="21.19" lengthAdjust="spacingAndGlyphs" >TA &gt; NN</text>
<rect x="550.97" y="463.00" width="1.3" height="43.90" fill="#ff8001"/>
<rect x="554.99" y="495.70" width="1.3" height="11.20" fill="#ff8001"/>
<rect x="559.00" y="468.40" width="1.3" height="38.50" fill="#ff8001"/>
<rect x="563.02" y="491.30" width="1.3" height="15.60" fill="#ff8001"/>
<rect x="567.04" y="505.90" width="1.3" height="1.00" fill="#ff8001"/>
<rect x="571.06" y="500.00" width="1.3" height="6.90" fill="#ff8001"/>
<rect x="575.08" y="499.50" width="1.3" height="7.40" fill="#ff8001"/>
<rect x="579.09" y="506.20" width="1.3" height="0.70" fill="#ff8001"/>
<rect x="583.11" y="501.90" width="1.3" height="5.00" fill="#ff8001"/>
<rect x="551.12" y="445.3" width="33.14" height="3.5" fill="#ff8001"/>
<text x="567.69" y="441.6" font-size="6.6" text-anchor="middle" fill="#231f20" stroke="#231f20" stroke-width="0.13" textLength="22.23" lengthAdjust="spacingAndGlyphs" >TC &gt; NN</text>
<rect x="587.13" y="502.40" width="1.3" height="4.50" fill="#cb99fe"/>
<rect x="591.15" y="506.20" width="1.3" height="0.70" fill="#cb99fe"/>
<rect x="595.17" y="504.90" width="1.3" height="2.00" fill="#cb99fe"/>
<rect x="599.18" y="506.20" width="1.3" height="0.70" fill="#cb99fe"/>
<rect x="603.20" y="506.20" width="1.3" height="0.70" fill="#cb99fe"/>
<rect x="607.22" y="498.20" width="1.3" height="8.70" fill="#cb99fe"/>
<rect x="611.24" y="506.70" width="1.3" height="0.20" fill="#cb99fe"/>
<rect x="615.26" y="506.40" width="1.3" height="0.50" fill="#cb99fe"/>
<rect x="619.27" y="503.20" width="1.3" height="3.70" fill="#cb99fe"/>
<rect x="587.28" y="445.3" width="33.14" height="3.5" fill="#cb99fe"/>
<text x="603.85" y="441.6" font-size="6.6" text-anchor="middle" fill="#231f20" stroke="#231f20" stroke-width="0.13" textLength="22.55" lengthAdjust="spacingAndGlyphs" >TG &gt; NN</text>
<rect x="623.29" y="503.40" width="1.3" height="3.50" fill="#4c0199"/>
<rect x="627.31" y="506.20" width="1.3" height="0.70" fill="#4c0199"/>
<rect x="631.33" y="506.20" width="1.3" height="0.70" fill="#4c0199"/>
<rect x="635.35" y="505.70" width="1.3" height="1.20" fill="#4c0199"/>
<rect x="639.36" y="506.20" width="1.3" height="0.70" fill="#4c0199"/>
<rect x="643.38" y="506.60" width="1.3" height="0.30" fill="#4c0199"/>
<rect x="647.40" y="506.20" width="1.3" height="0.70" fill="#4c0199"/>
<rect x="651.42" y="506.60" width="1.3" height="0.30" fill="#4c0199"/>
<rect x="655.44" y="506.60" width="1.3" height="0.30" fill="#4c0199"/>
<rect x="623.44" y="445.3" width="33.14" height="3.5" fill="#4c0199"/>
<text x="640.01" y="441.6" font-size="6.6" text-anchor="middle" fill="#231f20" stroke="#231f20" stroke-width="0.13" textLength="21.5" lengthAdjust="spacingAndGlyphs" >TT &gt; NN</text>
<text x="348.7" y="457.7" font-size="7.4" text-anchor="start" fill="#231f20" stroke="#231f20" stroke-width="0.13" textLength="21.6" lengthAdjust="spacingAndGlyphs" >DBS_D</text>
<rect x="63.7" y="554.3000000000001" width="576.70" height="105.70" stroke="#e4e4e4" stroke-width="0.7" fill="none"/>
<rect x="64.60" y="630.20" width="2.4" height="29.80" fill="#1ebff0"/>
<rect x="70.61" y="640.90" width="2.4" height="19.10" fill="#1ebff0"/>
<rect x="76.62" y="657.50" width="2.4" height="2.50" fill="#1ebff0"/>
<rect x="82.64" y="637.20" width="2.4" height="22.80" fill="#1ebff0"/>
<rect x="88.65" y="629.00" width="2.4" height="31.00" fill="#1ebff0"/>
<rect x="94.66" y="645.80" width="2.4" height="14.20" fill="#1ebff0"/>
<rect x="100.67" y="657.00" width="2.4" height="3.00" fill="#1ebff0"/>
<rect x="106.68" y="638.40" width="2.4" height="21.60" fill="#1ebff0"/>
<rect x="112.70" y="637.20" width="2.4" height="22.80" fill="#1ebff0"/>
<rect x="118.71" y="647.10" width="2.4" height="12.90" fill="#1ebff0"/>
<rect x="124.72" y="658.30" width="2.4" height="1.70" fill="#1ebff0"/>
<rect x="130.73" y="641.40" width="2.4" height="18.60" fill="#1ebff0"/>
<rect x="136.74" y="632.90" width="2.4" height="27.10" fill="#1ebff0"/>
<rect x="142.76" y="635.90" width="2.4" height="24.10" fill="#1ebff0"/>
<rect x="148.77" y="657.00" width="2.4" height="3.00" fill="#1ebff0"/>
<rect x="154.78" y="622.30" width="2.4" height="37.70" fill="#1ebff0"/>
<rect x="160.79" y="646.60" width="2.4" height="13.40" fill="#050708"/>
<rect x="166.80" y="651.60" width="2.4" height="8.40" fill="#050708"/>
<rect x="172.82" y="657.50" width="2.4" height="2.50" fill="#050708"/>
<rect x="178.83" y="648.80" width="2.4" height="11.20" fill="#050708"/>
<rect x="184.84" y="653.80" width="2.4" height="6.20" fill="#050708"/>
<rect x="190.85" y="652.60" width="2.4" height="7.40" fill="#050708"/>
<rect x="196.86" y="655.80" width="2.4" height="4.20" fill="#050708"/>
<rect x="202.88" y="647.10" width="2.4" height="12.90" fill="#050708"/>
<rect x="208.89" y="655.00" width="2.4" height="5.00" fill="#050708"/>
<rect x="214.90" y="654.50" width="2.4" height="5.50" fill="#050708"/>
<rect x="220.91" y="659.00" width="2.4" height="1.00" fill="#050708"/>
<rect x="226.92" y="652.80" width="2.4" height="7.20" fill="#050708"/>
<rect x="232.94" y="655.00" width="2.4" height="5.00" fill="#050708"/>
<rect x="238.95" y="652.10" width="2.4" height="7.90" fill="#050708"/>
<rect x="244.96" y="658.30" width="2.4" height="1.70" fill="#050708"/>
<rect x="250.97" y="645.10" width="2.4" height="14.90" fill="#050708"/>
<rect x="256.98" y="627.20" width="2.4" height="32.80" fill="#e62725"/>
<rect x="263.00" y="641.60" width="2.4" height="18.40" fill="#e62725"/>
<rect x="269.01" y="643.40" width="2.4" height="16.60" fill="#e62725"/>
<rect x="275.02" y="630.20" width="2.4" height="29.80" fill="#e62725"/>
<rect x="281.03" y="643.40" width="2.4" height="16.60" fill="#e62725"/>
<rect x="287.04" y="649.10" width="2.4" height="10.90" fill="#e62725"/>
<rect x="293.06" y="649.10" width="2.4" height="10.90" fill="#e62725"/>
<rect x="299.07" y="635.90" width="2.4" height="24.10" fill="#e62725"/>
<rect x="305.08" y="635.90" width="2.4" height="24.10" fill="#e62725"/>
<rect x="311.09" y="641.60" width="2.4" height="18.40" fill="#e62725"/>
<rect x="317.10" y="647.60" width="2.4" height="12.40" fill="#e62725"/>
<rect x="323.12" y="637.20" width="2.4" height="22.80" fill="#e62725"/>
<rect x="329.13" y="635.20" width="2.4" height="24.80" fill="#e62725"/>
<rect x="335.14" y="645.90" width="2.4" height="14.10" fill="#e62725"/>
<rect x="341.15" y="655.00" width="2.4" height="5.00" fill="#e62725"/>
<rect x="347.16" y="627.20" width="2.4" height="32.80" fill="#e62725"/>
<rect x="353.18" y="601.20" width="2.4" height="58.80" fill="#cbcacb"/>
<rect x="359.19" y="622.30" width="2.4" height="37.70" fill="#cbcacb"/>
<rect x="365.20" y="633.40" width="2.4" height="26.60" fill="#cbcacb"/>
<rect x="371.21" y="579.30" width="2.4" height="80.70" fill="#cbcacb"/>
<rect x="377.22" y="637.20" width="2.4" height="22.80" fill="#cbcacb"/>
<rect x="383.24" y="631.00" width="2.4" height="29.00" fill="#cbcacb"/>
<rect x="389.25" y="645.10" width="2.4" height="14.90" fill="#cbcacb"/>
<rect x="395.26" y="614.30" width="2.4" height="45.70" fill="#cbcacb"/>
<rect x="401.27" y="649.10" width="2.4" height="10.90" fill="#cbcacb"/>
<rect x="407.28" y="650.30" width="2.4" height="9.70" fill="#cbcacb"/>
<rect x="413.30" y="654.50" width="2.4" height="5.50" fill="#cbcacb"/>
<rect x="419.31" y="642.10" width="2.4" height="17.90" fill="#cbcacb"/>
<rect x="425.32" y="627.20" width="2.4" height="32.80" fill="#cbcacb"/>
<rect x="431.33" y="635.20" width="2.4" height="24.80" fill="#cbcacb"/>
<rect x="437.34" y="649.10" width="2.4" height="10.90" fill="#cbcacb"/>
<rect x="443.36" y="610.40" width="2.4" height="49.60" fill="#cbcacb"/>
<rect x="449.37" y="629.00" width="2.4" height="31.00" fill="#a1cf64"/>
<rect x="455.38" y="649.10" width="2.4" height="10.90" fill="#a1cf64"/>
<rect x="461.39" y="650.30" width="2.4" height="9.70" fill="#a1cf64"/>
<rect x="467.40" y="623.00" width="2.4" height="37.00" fill="#a1cf64"/>
<rect x="473.42" y="651.60" width="2.4" height="8.40" fill="#a1cf64"/>
<rect x="479.43" y="648.30" width="2.4" height="11.70" fill="#a1cf64"/>
<rect x="485.44" y="655.00" width="2.4" height="5.00" fill="#a1cf64"/>
<rect x="491.45" y="639.70" width="2.4" height="20.30" fill="#a1cf64"/>
<rect x="497.46" y="639.70" width="2.4" height="20.30" fill="#a1cf64"/>
<rect x="503.48" y="650.30" width="2.4" height="9.70" fill="#a1cf64"/>
<rect x="509.49" y="652.10" width="2.4" height="7.90" fill="#a1cf64"/>
<rect x="515.50" y="632.20" width="2.4" height="27.80" fill="#a1cf64"/>
<rect x="521.51" y="639.20" width="2.4" height="20.80" fill="#a1cf64"/>
<rect x="527.52" y="646.40" width="2.4" height="13.60" fill="#a1cf64"/>
<rect x="533.54" y="655.30" width="2.4" height="4.70" fill="#a1cf64"/>
<rect x="539.55" y="624.00" width="2.4" height="36.00" fill="#a1cf64"/>
<rect x="545.56" y="653.30" width="2.4" height="6.70" fill="#edc8c5"/>
<rect x="551.57" y="656.80" width="2.4" height="3.20" fill="#edc8c5"/>
<rect x="557.58" y="653.10" width="2.4" height="6.90" fill="#edc8c5"/>
<rect x="563.60" y="654.30" width="2.4" height="5.70" fill="#edc8c5"/>
<rect x="569.61" y="653.80" width="2.4" height="6.20" fill="#edc8c5"/>
<rect x="575.62" y="655.00" width="2.4" height="5.00" fill="#edc8c5"/>
<rect x="581.63" y="653.10" width="2.4" height="6.90" fill="#edc8c5"/>
<rect x="587.64" y="647.10" width="2.4" height="12.90" fill="#edc8c5"/>
<rect x="593.66" y="656.80" width="2.4" height="3.20" fill="#edc8c5"/>
<rect x="599.67" y="657.80" width="2.4" height="2.20" fill="#edc8c5"/>
<rect x="605.68" y="656.80" width="2.4" height="3.20" fill="#edc8c5"/>
<rect x="611.69" y="655.80" width="2.4" height="4.20" fill="#edc8c5"/>
<rect x="617.70" y="654.50" width="2.4" height="5.50" fill="#edc8c5"/>
<rect x="623.72" y="655.30" width="2.4" height="4.70" fill="#edc8c5"/>
<rect x="629.73" y="651.80" width="2.4" height="8.20" fill="#edc8c5"/>
<rect x="635.74" y="643.90" width="2.4" height="16.10" fill="#edc8c5"/>
<rect x="65.00" y="546.1" width="91" height="6.50" fill="#1ebff0"/>
<text x="110.5" y="541.8" font-size="8.6" text-anchor="middle" fill="#231f20" stroke="#231f20" stroke-width="0.13" textLength="21.27" lengthAdjust="spacingAndGlyphs" >C &gt; A</text>
<rect x="161.60" y="546.1" width="91" height="6.50" fill="#050708"/>
<text x="207.1" y="541.8" font-size="8.6" text-anchor="middle" fill="#231f20" stroke="#231f20" stroke-width="0.13" textLength="22.7" lengthAdjust="spacingAndGlyphs" >C &gt; G</text>
<rect x="258.20" y="546.1" width="91" height="6.50" fill="#e62725"/>
<text x="303.7" y="541.8" font-size="8.6" text-anchor="middle" fill="#231f20" stroke="#231f20" stroke-width="0.13" textLength="21.11" lengthAdjust="spacingAndGlyphs" >C &gt; T</text>
<rect x="354.80" y="546.1" width="91" height="6.50" fill="#cbcacb"/>
<text x="400.3" y="541.8" font-size="8.6" text-anchor="middle" fill="#231f20" stroke="#231f20" stroke-width="0.13" textLength="20.16" lengthAdjust="spacingAndGlyphs" >T &gt; A</text>
<rect x="451.40" y="546.1" width="91" height="6.50" fill="#a1cf64"/>
<text x="496.9" y="541.8" font-size="8.6" text-anchor="middle" fill="#231f20" stroke="#231f20" stroke-width="0.13" textLength="21.11" lengthAdjust="spacingAndGlyphs" >T &gt; C</text>
<rect x="548.00" y="546.1" width="91" height="6.50" fill="#edc8c5"/>
<text x="593.5" y="541.8" font-size="8.6" text-anchor="middle" fill="#231f20" stroke="#231f20" stroke-width="0.13" textLength="21.59" lengthAdjust="spacingAndGlyphs" >T &gt; G</text>
<text x="65.8" y="569.6" font-size="8.4" text-anchor="start" fill="#231f20" stroke="#231f20" stroke-width="0.13" textLength="22.3" lengthAdjust="spacingAndGlyphs" >SBS_I</text>
<text x="58.7" y="558.7" font-size="7.7" text-anchor="end" fill="#231f20" stroke="#231f20" stroke-width="0.13" >6.7</text>
<text x="58.7" y="584.7" font-size="7.7" text-anchor="end" fill="#231f20" stroke="#231f20" stroke-width="0.13" >5.0</text>
<text x="58.7" y="611.3000000000001" font-size="7.7" text-anchor="end" fill="#231f20" stroke="#231f20" stroke-width="0.13" >3.3</text>
<text x="58.7" y="637.4000000000001" font-size="7.7" text-anchor="end" fill="#231f20" stroke="#231f20" stroke-width="0.13" >1.7</text>
<text x="58.7" y="662.7" font-size="7.7" text-anchor="end" fill="#231f20" stroke="#231f20" stroke-width="0.13" >0</text>
<text transform="translate(39.6,604.8) rotate(-90)" font-size="8.4" fill="#231f20" text-anchor="middle" textLength="105.7" lengthAdjust="spacingAndGlyphs">Proportion of mutations (%)</text>
<text transform="translate(67.90,676.0) rotate(-90)" font-size="6.6" textLength="12.2" lengthAdjust="spacingAndGlyphs" fill="#8c8c8c">A<tspan fill="#1ebff0">C</tspan>A</text>
<text transform="translate(73.91,676.0) rotate(-90)" font-size="6.6" textLength="12.2" lengthAdjust="spacingAndGlyphs" fill="#8c8c8c">A<tspan fill="#1ebff0">C</tspan>C</text>
<text transform="translate(79.92,676.0) rotate(-90)" font-size="6.6" textLength="12.2" lengthAdjust="spacingAndGlyphs" fill="#8c8c8c">A<tspan fill="#1ebff0">C</tspan>G</text>
<text transform="translate(85.94,676.0) rotate(-90)" font-size="6.6" textLength="12.2" lengthAdjust="spacingAndGlyphs" fill="#8c8c8c">A<tspan fill="#1ebff0">C</tspan>T</text>
<text transform="translate(91.95,676.0) rotate(-90)" font-size="6.6" textLength="12.2" lengthAdjust="spacingAndGlyphs" fill="#8c8c8c">C<tspan fill="#1ebff0">C</tspan>A</text>
<text transform="translate(97.96,676.0) rotate(-90)" font-size="6.6" textLength="12.2" lengthAdjust="spacingAndGlyphs" fill="#8c8c8c">C<tspan fill="#1ebff0">C</tspan>C</text>
<text transform="translate(103.97,676.0) rotate(-90)" font-size="6.6" textLength="12.2" lengthAdjust="spacingAndGlyphs" fill="#8c8c8c">C<tspan fill="#1ebff0">C</tspan>G</text>
<text transform="translate(109.98,676.0) rotate(-90)" font-size="6.6" textLength="12.2" lengthAdjust="spacingAndGlyphs" fill="#8c8c8c">C<tspan fill="#1ebff0">C</tspan>T</text>
<text transform="translate(116.00,676.0) rotate(-90)" font-size="6.6" textLength="12.2" lengthAdjust="spacingAndGlyphs" fill="#8c8c8c">G<tspan fill="#1ebff0">C</tspan>A</text>
<text transform="translate(122.01,676.0) rotate(-90)" font-size="6.6" textLength="12.2" lengthAdjust="spacingAndGlyphs" fill="#8c8c8c">G<tspan fill="#1ebff0">C</tspan>C</text>
<text transform="translate(128.02,676.0) rotate(-90)" font-size="6.6" textLength="12.2" lengthAdjust="spacingAndGlyphs" fill="#8c8c8c">G<tspan fill="#1ebff0">C</tspan>G</text>
<text transform="translate(134.03,676.0) rotate(-90)" font-size="6.6" textLength="12.2" lengthAdjust="spacingAndGlyphs" fill="#8c8c8c">G<tspan fill="#1ebff0">C</tspan>T</text>
<text transform="translate(140.04,676.0) rotate(-90)" font-size="6.6" textLength="12.2" lengthAdjust="spacingAndGlyphs" fill="#8c8c8c">T<tspan fill="#1ebff0">C</tspan>A</text>
<text transform="translate(146.06,676.0) rotate(-90)" font-size="6.6" textLength="12.2" lengthAdjust="spacingAndGlyphs" fill="#8c8c8c">T<tspan fill="#1ebff0">C</tspan>C</text>
<text transform="translate(152.07,676.0) rotate(-90)" font-size="6.6" textLength="12.2" lengthAdjust="spacingAndGlyphs" fill="#8c8c8c">T<tspan fill="#1ebff0">C</tspan>G</text>
<text transform="translate(158.08,676.0) rotate(-90)" font-size="6.6" textLength="12.2" lengthAdjust="spacingAndGlyphs" fill="#8c8c8c">T<tspan fill="#1ebff0">C</tspan>T</text>
<text transform="translate(164.09,676.0) rotate(-90)" font-size="6.6" textLength="12.2" lengthAdjust="spacingAndGlyphs" fill="#8c8c8c">A<tspan fill="#333">C</tspan>A</text>
<text transform="translate(170.10,676.0) rotate(-90)" font-size="6.6" textLength="12.2" lengthAdjust="spacingAndGlyphs" fill="#8c8c8c">A<tspan fill="#333">C</tspan>C</text>
<text transform="translate(176.12,676.0) rotate(-90)" font-size="6.6" textLength="12.2" lengthAdjust="spacingAndGlyphs" fill="#8c8c8c">A<tspan fill="#333">C</tspan>G</text>
<text transform="translate(182.13,676.0) rotate(-90)" font-size="6.6" textLength="12.2" lengthAdjust="spacingAndGlyphs" fill="#8c8c8c">A<tspan fill="#333">C</tspan>T</text>
<text transform="translate(188.14,676.0) rotate(-90)" font-size="6.6" textLength="12.2" lengthAdjust="spacingAndGlyphs" fill="#8c8c8c">C<tspan fill="#333">C</tspan>A</text>
<text transform="translate(194.15,676.0) rotate(-90)" font-size="6.6" textLength="12.2" lengthAdjust="spacingAndGlyphs" fill="#8c8c8c">C<tspan fill="#333">C</tspan>C</text>
<text transform="translate(200.16,676.0) rotate(-90)" font-size="6.6" textLength="12.2" lengthAdjust="spacingAndGlyphs" fill="#8c8c8c">C<tspan fill="#333">C</tspan>G</text>
<text transform="translate(206.18,676.0) rotate(-90)" font-size="6.6" textLength="12.2" lengthAdjust="spacingAndGlyphs" fill="#8c8c8c">C<tspan fill="#333">C</tspan>T</text>
<text transform="translate(212.19,676.0) rotate(-90)" font-size="6.6" textLength="12.2" lengthAdjust="spacingAndGlyphs" fill="#8c8c8c">G<tspan fill="#333">C</tspan>A</text>
<text transform="translate(218.20,676.0) rotate(-90)" font-size="6.6" textLength="12.2" lengthAdjust="spacingAndGlyphs" fill="#8c8c8c">G<tspan fill="#333">C</tspan>C</text>
<text transform="translate(224.21,676.0) rotate(-90)" font-size="6.6" textLength="12.2" lengthAdjust="spacingAndGlyphs" fill="#8c8c8c">G<tspan fill="#333">C</tspan>G</text>
<text transform="translate(230.22,676.0) rotate(-90)" font-size="6.6" textLength="12.2" lengthAdjust="spacingAndGlyphs" fill="#8c8c8c">G<tspan fill="#333">C</tspan>T</text>
<text transform="translate(236.24,676.0) rotate(-90)" font-size="6.6" textLength="12.2" lengthAdjust="spacingAndGlyphs" fill="#8c8c8c">T<tspan fill="#333">C</tspan>A</text>
<text transform="translate(242.25,676.0) rotate(-90)" font-size="6.6" textLength="12.2" lengthAdjust="spacingAndGlyphs" fill="#8c8c8c">T<tspan fill="#333">C</tspan>C</text>
<text transform="translate(248.26,676.0) rotate(-90)" font-size="6.6" textLength="12.2" lengthAdjust="spacingAndGlyphs" fill="#8c8c8c">T<tspan fill="#333">C</tspan>G</text>
<text transform="translate(254.27,676.0) rotate(-90)" font-size="6.6" textLength="12.2" lengthAdjust="spacingAndGlyphs" fill="#8c8c8c">T<tspan fill="#333">C</tspan>T</text>
<text transform="translate(260.28,676.0) rotate(-90)" font-size="6.6" textLength="12.2" lengthAdjust="spacingAndGlyphs" fill="#8c8c8c">A<tspan fill="#e62725">C</tspan>A</text>
<text transform="translate(266.30,676.0) rotate(-90)" font-size="6.6" textLength="12.2" lengthAdjust="spacingAndGlyphs" fill="#8c8c8c">A<tspan fill="#e62725">C</tspan>C</text>
<text transform="translate(272.31,676.0) rotate(-90)" font-size="6.6" textLength="12.2" lengthAdjust="spacingAndGlyphs" fill="#8c8c8c">A<tspan fill="#e62725">C</tspan>G</text>
<text transform="translate(278.32,676.0) rotate(-90)" font-size="6.6" textLength="12.2" lengthAdjust="spacingAndGlyphs" fill="#8c8c8c">A<tspan fill="#e62725">C</tspan>T</text>
<text transform="translate(284.33,676.0) rotate(-90)" font-size="6.6" textLength="12.2" lengthAdjust="spacingAndGlyphs" fill="#8c8c8c">C<tspan fill="#e62725">C</tspan>A</text>
<text transform="translate(290.34,676.0) rotate(-90)" font-size="6.6" textLength="12.2" lengthAdjust="spacingAndGlyphs" fill="#8c8c8c">C<tspan fill="#e62725">C</tspan>C</text>
<text transform="translate(296.36,676.0) rotate(-90)" font-size="6.6" textLength="12.2" lengthAdjust="spacingAndGlyphs" fill="#8c8c8c">C<tspan fill="#e62725">C</tspan>G</text>
<text transform="translate(302.37,676.0) rotate(-90)" font-size="6.6" textLength="12.2" lengthAdjust="spacingAndGlyphs" fill="#8c8c8c">C<tspan fill="#e62725">C</tspan>T</text>
<text transform="translate(308.38,676.0) rotate(-90)" font-size="6.6" textLength="12.2" lengthAdjust="spacingAndGlyphs" fill="#8c8c8c">G<tspan fill="#e62725">C</tspan>A</text>
<text transform="translate(314.39,676.0) rotate(-90)" font-size="6.6" textLength="12.2" lengthAdjust="spacingAndGlyphs" fill="#8c8c8c">G<tspan fill="#e62725">C</tspan>C</text>
<text transform="translate(320.40,676.0) rotate(-90)" font-size="6.6" textLength="12.2" lengthAdjust="spacingAndGlyphs" fill="#8c8c8c">G<tspan fill="#e62725">C</tspan>G</text>
<text transform="translate(326.42,676.0) rotate(-90)" font-size="6.6" textLength="12.2" lengthAdjust="spacingAndGlyphs" fill="#8c8c8c">G<tspan fill="#e62725">C</tspan>T</text>
<text transform="translate(332.43,676.0) rotate(-90)" font-size="6.6" textLength="12.2" lengthAdjust="spacingAndGlyphs" fill="#8c8c8c">T<tspan fill="#e62725">C</tspan>A</text>
<text transform="translate(338.44,676.0) rotate(-90)" font-size="6.6" textLength="12.2" lengthAdjust="spacingAndGlyphs" fill="#8c8c8c">T<tspan fill="#e62725">C</tspan>C</text>
<text transform="translate(344.45,676.0) rotate(-90)" font-size="6.6" textLength="12.2" lengthAdjust="spacingAndGlyphs" fill="#8c8c8c">T<tspan fill="#e62725">C</tspan>G</text>
<text transform="translate(350.46,676.0) rotate(-90)" font-size="6.6" textLength="12.2" lengthAdjust="spacingAndGlyphs" fill="#8c8c8c">T<tspan fill="#e62725">C</tspan>T</text>
<text transform="translate(356.48,676.0) rotate(-90)" font-size="6.6" textLength="12.2" lengthAdjust="spacingAndGlyphs" fill="#8c8c8c">A<tspan fill="#cbcacb">T</tspan>A</text>
<text transform="translate(362.49,676.0) rotate(-90)" font-size="6.6" textLength="12.2" lengthAdjust="spacingAndGlyphs" fill="#8c8c8c">A<tspan fill="#cbcacb">T</tspan>C</text>
<text transform="translate(368.50,676.0) rotate(-90)" font-size="6.6" textLength="12.2" lengthAdjust="spacingAndGlyphs" fill="#8c8c8c">A<tspan fill="#cbcacb">T</tspan>G</text>
<text transform="translate(374.51,676.0) rotate(-90)" font-size="6.6" textLength="12.2" lengthAdjust="spacingAndGlyphs" fill="#8c8c8c">A<tspan fill="#cbcacb">T</tspan>T</text>
<text transform="translate(380.52,676.0) rotate(-90)" font-size="6.6" textLength="12.2" lengthAdjust="spacingAndGlyphs" fill="#8c8c8c">C<tspan fill="#cbcacb">T</tspan>A</text>
<text transform="translate(386.54,676.0) rotate(-90)" font-size="6.6" textLength="12.2" lengthAdjust="spacingAndGlyphs" fill="#8c8c8c">C<tspan fill="#cbcacb">T</tspan>C</text>
<text transform="translate(392.55,676.0) rotate(-90)" font-size="6.6" textLength="12.2" lengthAdjust="spacingAndGlyphs" fill="#8c8c8c">C<tspan fill="#cbcacb">T</tspan>G</text>
<text transform="translate(398.56,676.0) rotate(-90)" font-size="6.6" textLength="12.2" lengthAdjust="spacingAndGlyphs" fill="#8c8c8c">C<tspan fill="#cbcacb">T</tspan>T</text>
<text transform="translate(404.57,676.0) rotate(-90)" font-size="6.6" textLength="12.2" lengthAdjust="spacingAndGlyphs" fill="#8c8c8c">G<tspan fill="#cbcacb">T</tspan>A</text>
<text transform="translate(410.58,676.0) rotate(-90)" font-size="6.6" textLength="12.2" lengthAdjust="spacingAndGlyphs" fill="#8c8c8c">G<tspan fill="#cbcacb">T</tspan>C</text>
<text transform="translate(416.60,676.0) rotate(-90)" font-size="6.6" textLength="12.2" lengthAdjust="spacingAndGlyphs" fill="#8c8c8c">G<tspan fill="#cbcacb">T</tspan>G</text>
<text transform="translate(422.61,676.0) rotate(-90)" font-size="6.6" textLength="12.2" lengthAdjust="spacingAndGlyphs" fill="#8c8c8c">G<tspan fill="#cbcacb">T</tspan>T</text>
<text transform="translate(428.62,676.0) rotate(-90)" font-size="6.6" textLength="12.2" lengthAdjust="spacingAndGlyphs" fill="#8c8c8c">T<tspan fill="#cbcacb">T</tspan>A</text>
<text transform="translate(434.63,676.0) rotate(-90)" font-size="6.6" textLength="12.2" lengthAdjust="spacingAndGlyphs" fill="#8c8c8c">T<tspan fill="#cbcacb">T</tspan>C</text>
<text transform="translate(440.64,676.0) rotate(-90)" font-size="6.6" textLength="12.2" lengthAdjust="spacingAndGlyphs" fill="#8c8c8c">T<tspan fill="#cbcacb">T</tspan>G</text>
<text transform="translate(446.66,676.0) rotate(-90)" font-size="6.6" textLength="12.2" lengthAdjust="spacingAndGlyphs" fill="#8c8c8c">T<tspan fill="#cbcacb">T</tspan>T</text>
<text transform="translate(452.67,676.0) rotate(-90)" font-size="6.6" textLength="12.2" lengthAdjust="spacingAndGlyphs" fill="#8c8c8c">A<tspan fill="#a1cf64">T</tspan>A</text>
<text transform="translate(458.68,676.0) rotate(-90)" font-size="6.6" textLength="12.2" lengthAdjust="spacingAndGlyphs" fill="#8c8c8c">A<tspan fill="#a1cf64">T</tspan>C</text>
<text transform="translate(464.69,676.0) rotate(-90)" font-size="6.6" textLength="12.2" lengthAdjust="spacingAndGlyphs" fill="#8c8c8c">A<tspan fill="#a1cf64">T</tspan>G</text>
<text transform="translate(470.70,676.0) rotate(-90)" font-size="6.6" textLength="12.2" lengthAdjust="spacingAndGlyphs" fill="#8c8c8c">A<tspan fill="#a1cf64">T</tspan>T</text>
<text transform="translate(476.72,676.0) rotate(-90)" font-size="6.6" textLength="12.2" lengthAdjust="spacingAndGlyphs" fill="#8c8c8c">C<tspan fill="#a1cf64">T</tspan>A</text>
<text transform="translate(482.73,676.0) rotate(-90)" font-size="6.6" textLength="12.2" lengthAdjust="spacingAndGlyphs" fill="#8c8c8c">C<tspan fill="#a1cf64">T</tspan>C</text>
<text transform="translate(488.74,676.0) rotate(-90)" font-size="6.6" textLength="12.2" lengthAdjust="spacingAndGlyphs" fill="#8c8c8c">C<tspan fill="#a1cf64">T</tspan>G</text>
<text transform="translate(494.75,676.0) rotate(-90)" font-size="6.6" textLength="12.2" lengthAdjust="spacingAndGlyphs" fill="#8c8c8c">C<tspan fill="#a1cf64">T</tspan>T</text>
<text transform="translate(500.76,676.0) rotate(-90)" font-size="6.6" textLength="12.2" lengthAdjust="spacingAndGlyphs" fill="#8c8c8c">G<tspan fill="#a1cf64">T</tspan>A</text>
<text transform="translate(506.78,676.0) rotate(-90)" font-size="6.6" textLength="12.2" lengthAdjust="spacingAndGlyphs" fill="#8c8c8c">G<tspan fill="#a1cf64">T</tspan>C</text>
<text transform="translate(512.79,676.0) rotate(-90)" font-size="6.6" textLength="12.2" lengthAdjust="spacingAndGlyphs" fill="#8c8c8c">G<tspan fill="#a1cf64">T</tspan>G</text>
<text transform="translate(518.80,676.0) rotate(-90)" font-size="6.6" textLength="12.2" lengthAdjust="spacingAndGlyphs" fill="#8c8c8c">G<tspan fill="#a1cf64">T</tspan>T</text>
<text transform="translate(524.81,676.0) rotate(-90)" font-size="6.6" textLength="12.2" lengthAdjust="spacingAndGlyphs" fill="#8c8c8c">T<tspan fill="#a1cf64">T</tspan>A</text>
<text transform="translate(530.82,676.0) rotate(-90)" font-size="6.6" textLength="12.2" lengthAdjust="spacingAndGlyphs" fill="#8c8c8c">T<tspan fill="#a1cf64">T</tspan>C</text>
<text transform="translate(536.84,676.0) rotate(-90)" font-size="6.6" textLength="12.2" lengthAdjust="spacingAndGlyphs" fill="#8c8c8c">T<tspan fill="#a1cf64">T</tspan>G</text>
<text transform="translate(542.85,676.0) rotate(-90)" font-size="6.6" textLength="12.2" lengthAdjust="spacingAndGlyphs" fill="#8c8c8c">T<tspan fill="#a1cf64">T</tspan>T</text>
<text transform="translate(548.86,676.0) rotate(-90)" font-size="6.6" textLength="12.2" lengthAdjust="spacingAndGlyphs" fill="#8c8c8c">A<tspan fill="#edc8c5">T</tspan>A</text>
<text transform="translate(554.87,676.0) rotate(-90)" font-size="6.6" textLength="12.2" lengthAdjust="spacingAndGlyphs" fill="#8c8c8c">A<tspan fill="#edc8c5">T</tspan>C</text>
<text transform="translate(560.88,676.0) rotate(-90)" font-size="6.6" textLength="12.2" lengthAdjust="spacingAndGlyphs" fill="#8c8c8c">A<tspan fill="#edc8c5">T</tspan>G</text>
<text transform="translate(566.90,676.0) rotate(-90)" font-size="6.6" textLength="12.2" lengthAdjust="spacingAndGlyphs" fill="#8c8c8c">A<tspan fill="#edc8c5">T</tspan>T</text>
<text transform="translate(572.91,676.0) rotate(-90)" font-size="6.6" textLength="12.2" lengthAdjust="spacingAndGlyphs" fill="#8c8c8c">C<tspan fill="#edc8c5">T</tspan>A</text>
<text transform="translate(578.92,676.0) rotate(-90)" font-size="6.6" textLength="12.2" lengthAdjust="spacingAndGlyphs" fill="#8c8c8c">C<tspan fill="#edc8c5">T</tspan>C</text>
<text transform="translate(584.93,676.0) rotate(-90)" font-size="6.6" textLength="12.2" lengthAdjust="spacingAndGlyphs" fill="#8c8c8c">C<tspan fill="#edc8c5">T</tspan>G</text>
<text transform="translate(590.94,676.0) rotate(-90)" font-size="6.6" textLength="12.2" lengthAdjust="spacingAndGlyphs" fill="#8c8c8c">C<tspan fill="#edc8c5">T</tspan>T</text>
<text transform="translate(596.96,676.0) rotate(-90)" font-size="6.6" textLength="12.2" lengthAdjust="spacingAndGlyphs" fill="#8c8c8c">G<tspan fill="#edc8c5">T</tspan>A</text>
<text transform="translate(602.97,676.0) rotate(-90)" font-size="6.6" textLength="12.2" lengthAdjust="spacingAndGlyphs" fill="#8c8c8c">G<tspan fill="#edc8c5">T</tspan>C</text>
<text transform="translate(608.98,676.0) rotate(-90)" font-size="6.6" textLength="12.2" lengthAdjust="spacingAndGlyphs" fill="#8c8c8c">G<tspan fill="#edc8c5">T</tspan>G</text>
<text transform="translate(614.99,676.0) rotate(-90)" font-size="6.6" textLength="12.2" lengthAdjust="spacingAndGlyphs" fill="#8c8c8c">G<tspan fill="#edc8c5">T</tspan>T</text>
<text transform="translate(621.00,676.0) rotate(-90)" font-size="6.6" textLength="12.2" lengthAdjust="spacingAndGlyphs" fill="#8c8c8c">T<tspan fill="#edc8c5">T</tspan>A</text>
<text transform="translate(627.02,676.0) rotate(-90)" font-size="6.6" textLength="12.2" lengthAdjust="spacingAndGlyphs" fill="#8c8c8c">T<tspan fill="#edc8c5">T</tspan>C</text>
<text transform="translate(633.03,676.0) rotate(-90)" font-size="6.6" textLength="12.2" lengthAdjust="spacingAndGlyphs" fill="#8c8c8c">T<tspan fill="#edc8c5">T</tspan>G</text>
<text transform="translate(639.04,676.0) rotate(-90)" font-size="6.6" textLength="12.2" lengthAdjust="spacingAndGlyphs" fill="#8c8c8c">T<tspan fill="#edc8c5">T</tspan>T</text>
<rect x="20.6" y="726.5" width="313.70" height="58.00" stroke="#e4e4e4" stroke-width="0.7" fill="none"/>
<rect x="21.10" y="760.30" width="1.4" height="24.20" fill="#1ebff0"/>
<rect x="24.37" y="765.70" width="1.4" height="18.80" fill="#1ebff0"/>
<rect x="27.64" y="774.80" width="1.4" height="9.70" fill="#1ebff0"/>
<rect x="30.91" y="767.20" width="1.4" height="17.30" fill="#1ebff0"/>
<rect x="34.18" y="739.20" width="1.4" height="45.30" fill="#1ebff0"/>
<rect x="37.45" y="740.10" width="1.4" height="44.40" fill="#1ebff0"/>
<rect x="40.72" y="770.00" width="1.4" height="14.50" fill="#1ebff0"/>
<rect x="43.99" y="745.80" width="1.4" height="38.70" fill="#1ebff0"/>
<rect x="47.26" y="766.20" width="1.4" height="18.30" fill="#1ebff0"/>
<rect x="50.53" y="764.70" width="1.4" height="19.80" fill="#1ebff0"/>
<rect x="53.80" y="775.00" width="1.4" height="9.50" fill="#1ebff0"/>
<rect x="57.07" y="771.90" width="1.4" height="12.60" fill="#1ebff0"/>
<rect x="60.34" y="761.90" width="1.4" height="22.60" fill="#1ebff0"/>
<rect x="63.61" y="757.80" width="1.4" height="26.70" fill="#1ebff0"/>
<rect x="66.88" y="777.70" width="1.4" height="6.80" fill="#1ebff0"/>
<rect x="70.15" y="760.70" width="1.4" height="23.80" fill="#1ebff0"/>
<rect x="73.42" y="780.70" width="1.4" height="3.80" fill="#050708"/>
<rect x="76.69" y="783.20" width="1.4" height="1.30" fill="#050708"/>
<rect x="79.96" y="782.20" width="1.4" height="2.30" fill="#050708"/>
<rect x="83.23" y="780.30" width="1.4" height="4.20" fill="#050708"/>
<rect x="86.50" y="780.90" width="1.4" height="3.60" fill="#050708"/>
<rect x="89.77" y="782.80" width="1.4" height="1.70" fill="#050708"/>
<rect x="93.04" y="780.70" width="1.4" height="3.80" fill="#050708"/>
<rect x="96.31" y="781.70" width="1.4" height="2.80" fill="#050708"/>
<rect x="99.58" y="781.30" width="1.4" height="3.20" fill="#050708"/>
<rect x="102.85" y="782.20" width="1.4" height="2.30" fill="#050708"/>
<rect x="106.12" y="781.70" width="1.4" height="2.80" fill="#050708"/>
<rect x="109.39" y="783.20" width="1.4" height="1.30" fill="#050708"/>
<rect x="112.66" y="781.70" width="1.4" height="2.80" fill="#050708"/>
<rect x="115.93" y="782.20" width="1.4" height="2.30" fill="#050708"/>
<rect x="119.20" y="780.90" width="1.4" height="3.60" fill="#050708"/>
<rect x="122.47" y="782.80" width="1.4" height="1.70" fill="#050708"/>
<rect x="125.74" y="779.40" width="1.4" height="5.10" fill="#e62725"/>
<rect x="129.01" y="782.20" width="1.4" height="2.30" fill="#e62725"/>
<rect x="132.28" y="783.20" width="1.4" height="1.30" fill="#e62725"/>
<rect x="135.55" y="781.70" width="1.4" height="2.80" fill="#e62725"/>
<rect x="138.82" y="777.50" width="1.4" height="7.00" fill="#e62725"/>
<rect x="142.09" y="777.90" width="1.4" height="6.60" fill="#e62725"/>
<rect x="145.36" y="782.20" width="1.4" height="2.30" fill="#e62725"/>
<rect x="148.63" y="775.60" width="1.4" height="8.90" fill="#e62725"/>
<rect x="151.90" y="781.70" width="1.4" height="2.80" fill="#e62725"/>
<rect x="155.17" y="782.20" width="1.4" height="2.30" fill="#e62725"/>
<rect x="158.44" y="783.60" width="1.4" height="0.90" fill="#e62725"/>
<rect x="161.71" y="782.20" width="1.4" height="2.30" fill="#e62725"/>
<rect x="164.98" y="780.90" width="1.4" height="3.60" fill="#e62725"/>
<rect x="168.25" y="783.60" width="1.4" height="0.90" fill="#e62725"/>
<rect x="171.52" y="780.30" width="1.4" height="4.20" fill="#e62725"/>
<rect x="174.79" y="781.50" width="1.4" height="3.00" fill="#e62725"/>
<rect x="178.06" y="779.50" width="1.4" height="5.00" fill="#cbcacb"/>
<rect x="181.33" y="782.00" width="1.4" height="2.50" fill="#cbcacb"/>
<rect x="184.60" y="778.00" width="1.4" height="6.50" fill="#cbcacb"/>
<rect x="187.87" y="781.30" width="1.4" height="3.20" fill="#cbcacb"/>
<rect x="191.14" y="776.30" width="1.4" height="8.20" fill="#cbcacb"/>
<rect x="194.41" y="776.80" width="1.4" height="7.70" fill="#cbcacb"/>
<rect x="197.68" y="766.40" width="1.4" height="18.10" fill="#cbcacb"/>
<rect x="200.95" y="778.00" width="1.4" height="6.50" fill="#cbcacb"/>
<rect x="204.22" y="779.50" width="1.4" height="5.00" fill="#cbcacb"/>
<rect x="207.49" y="782.50" width="1.4" height="2.00" fill="#cbcacb"/>
<rect x="210.76" y="777.60" width="1.4" height="6.90" fill="#cbcacb"/>
<rect x="214.03" y="780.50" width="1.4" height="4.00" fill="#cbcacb"/>
<rect x="217.30" y="779.50" width="1.4" height="5.00" fill="#cbcacb"/>
<rect x="220.57" y="781.30" width="1.4" height="3.20" fill="#cbcacb"/>
<rect x="223.84" y="778.80" width="1.4" height="5.70" fill="#cbcacb"/>
<rect x="227.11" y="780.50" width="1.4" height="4.00" fill="#cbcacb"/>
<rect x="230.38" y="780.00" width="1.4" height="4.50" fill="#a1cf64"/>
<rect x="233.65" y="782.50" width="1.4" height="2.00" fill="#a1cf64"/>
<rect x="236.92" y="781.30" width="1.4" height="3.20" fill="#a1cf64"/>
<rect x="240.19" y="782.00" width="1.4" height="2.50" fill="#a1cf64"/>
<rect x="243.46" y="781.30" width="1.4" height="3.20" fill="#a1cf64"/>
<rect x="246.73" y="782.50" width="1.4" height="2.00" fill="#a1cf64"/>
<rect x="250.00" y="782.00" width="1.4" height="2.50" fill="#a1cf64"/>
<rect x="253.27" y="783.00" width="1.4" height="1.50" fill="#a1cf64"/>
<rect x="256.54" y="783.00" width="1.4" height="1.50" fill="#a1cf64"/>
<rect x="259.81" y="783.30" width="1.4" height="1.20" fill="#a1cf64"/>
<rect x="263.08" y="782.50" width="1.4" height="2.00" fill="#a1cf64"/>
<rect x="266.35" y="783.30" width="1.4" height="1.20" fill="#a1cf64"/>
<rect x="269.62" y="783.30" width="1.4" height="1.20" fill="#a1cf64"/>
<rect x="272.89" y="783.80" width="1.4" height="0.70" fill="#a1cf64"/>
<rect x="276.16" y="783.30" width="1.4" height="1.20" fill="#a1cf64"/>
<rect x="279.43" y="783.30" width="1.4" height="1.20" fill="#a1cf64"/>
<rect x="282.70" y="783.70" width="1.4" height="0.80" fill="#edc8c5"/>
<rect x="285.97" y="783.90" width="1.4" height="0.60" fill="#edc8c5"/>
<rect x="289.24" y="783.70" width="1.4" height="0.80" fill="#edc8c5"/>
<rect x="292.51" y="783.90" width="1.4" height="0.60" fill="#edc8c5"/>
<rect x="295.78" y="783.30" width="1.4" height="1.20" fill="#edc8c5"/>
<rect x="299.05" y="783.90" width="1.4" height="0.60" fill="#edc8c5"/>
<rect x="302.32" y="783.70" width="1.4" height="0.80" fill="#edc8c5"/>
<rect x="305.59" y="783.90" width="1.4" height="0.60" fill="#edc8c5"/>
<rect x="308.86" y="783.90" width="1.4" height="0.60" fill="#edc8c5"/>
<rect x="312.13" y="783.70" width="1.4" height="0.80" fill="#edc8c5"/>
<rect x="315.40" y="783.90" width="1.4" height="0.60" fill="#edc8c5"/>
<rect x="318.67" y="783.90" width="1.4" height="0.60" fill="#edc8c5"/>
<rect x="321.94" y="783.20" width="1.4" height="1.30" fill="#edc8c5"/>
<rect x="325.21" y="783.90" width="1.4" height="0.60" fill="#edc8c5"/>
<rect x="328.48" y="783.70" width="1.4" height="0.80" fill="#edc8c5"/>
<rect x="331.75" y="783.30" width="1.4" height="1.20" fill="#edc8c5"/>
<rect x="21.00" y="721.9" width="49.6" height="3.80" fill="#1ebff0"/>
<text x="45.8" y="719" font-size="7.4" text-anchor="middle" fill="#231f20" stroke="#231f20" stroke-width="0.13" textLength="16.47" lengthAdjust="spacingAndGlyphs" >C &gt; A</text>
<rect x="73.80" y="721.9" width="49.6" height="3.80" fill="#050708"/>
<text x="98.6" y="719" font-size="7.4" text-anchor="middle" fill="#231f20" stroke="#231f20" stroke-width="0.13" textLength="17.58" lengthAdjust="spacingAndGlyphs" >C &gt; G</text>
<rect x="126.40" y="721.9" width="49.6" height="3.80" fill="#e62725"/>
<text x="151.2" y="719" font-size="7.4" text-anchor="middle" fill="#231f20" stroke="#231f20" stroke-width="0.13" textLength="16.35" lengthAdjust="spacingAndGlyphs" >C &gt; T</text>
<rect x="179.20" y="721.9" width="49.6" height="3.80" fill="#cbcacb"/>
<text x="204.0" y="719" font-size="7.4" text-anchor="middle" fill="#231f20" stroke="#231f20" stroke-width="0.13" textLength="15.61" lengthAdjust="spacingAndGlyphs" >T &gt; A</text>
<rect x="231.60" y="721.9" width="49.6" height="3.80" fill="#a1cf64"/>
<text x="256.4" y="719" font-size="7.4" text-anchor="middle" fill="#231f20" stroke="#231f20" stroke-width="0.13" textLength="16.35" lengthAdjust="spacingAndGlyphs" >T &gt; C</text>
<rect x="284.20" y="721.9" width="49.6" height="3.80" fill="#edc8c5"/>
<text x="309.0" y="719" font-size="7.4" text-anchor="middle" fill="#231f20" stroke="#231f20" stroke-width="0.13" textLength="16.72" lengthAdjust="spacingAndGlyphs" >T &gt; G</text>
<text x="21.8" y="735.1" font-size="7.6" text-anchor="start" fill="#231f20" stroke="#231f20" stroke-width="0.13" font-weight="bold" textLength="17.9" lengthAdjust="spacingAndGlyphs" >SBS4</text>
<rect x="351.8" y="726.5" width="313.50" height="58.00" stroke="#e4e4e4" stroke-width="0.7" fill="none"/>
<rect x="352.30" y="778.10" width="1.4" height="6.40" fill="#1ebff0"/>
<rect x="355.57" y="781.30" width="1.4" height="3.20" fill="#1ebff0"/>
<rect x="358.84" y="780.00" width="1.4" height="4.50" fill="#1ebff0"/>
<rect x="362.11" y="777.10" width="1.4" height="7.40" fill="#1ebff0"/>
<rect x="365.38" y="774.80" width="1.4" height="9.70" fill="#1ebff0"/>
<rect x="368.65" y="777.10" width="1.4" height="7.40" fill="#1ebff0"/>
<rect x="371.92" y="781.30" width="1.4" height="3.20" fill="#1ebff0"/>
<rect x="375.19" y="777.60" width="1.4" height="6.90" fill="#1ebff0"/>
<rect x="378.46" y="778.90" width="1.4" height="5.60" fill="#1ebff0"/>
<rect x="381.73" y="780.00" width="1.4" height="4.50" fill="#1ebff0"/>
<rect x="385.00" y="781.30" width="1.4" height="3.20" fill="#1ebff0"/>
<rect x="388.27" y="779.70" width="1.4" height="4.80" fill="#1ebff0"/>
<rect x="391.54" y="776.50" width="1.4" height="8.00" fill="#1ebff0"/>
<rect x="394.81" y="777.60" width="1.4" height="6.90" fill="#1ebff0"/>
<rect x="398.08" y="781.90" width="1.4" height="2.60" fill="#1ebff0"/>
<rect x="401.35" y="777.30" width="1.4" height="7.20" fill="#1ebff0"/>
<rect x="404.62" y="782.40" width="1.4" height="2.10" fill="#050708"/>
<rect x="407.89" y="783.20" width="1.4" height="1.30" fill="#050708"/>
<rect x="411.16" y="782.40" width="1.4" height="2.10" fill="#050708"/>
<rect x="414.43" y="782.90" width="1.4" height="1.60" fill="#050708"/>
<rect x="417.70" y="781.90" width="1.4" height="2.60" fill="#050708"/>
<rect x="420.97" y="782.40" width="1.4" height="2.10" fill="#050708"/>
<rect x="424.24" y="782.90" width="1.4" height="1.60" fill="#050708"/>
<rect x="427.51" y="781.90" width="1.4" height="2.60" fill="#050708"/>
<rect x="430.78" y="782.90" width="1.4" height="1.60" fill="#050708"/>
<rect x="434.05" y="782.40" width="1.4" height="2.10" fill="#050708"/>
<rect x="437.32" y="782.90" width="1.4" height="1.60" fill="#050708"/>
<rect x="440.59" y="782.40" width="1.4" height="2.10" fill="#050708"/>
<rect x="443.86" y="773.90" width="1.4" height="10.60" fill="#050708"/>
<rect x="447.13" y="782.90" width="1.4" height="1.60" fill="#050708"/>
<rect x="450.40" y="781.60" width="1.4" height="2.90" fill="#050708"/>
<rect x="453.67" y="772.30" width="1.4" height="12.20" fill="#050708"/>
<rect x="456.94" y="772.00" width="1.4" height="12.50" fill="#e62725"/>
<rect x="460.21" y="777.10" width="1.4" height="7.40" fill="#e62725"/>
<rect x="463.48" y="778.90" width="1.4" height="5.60" fill="#e62725"/>
<rect x="466.75" y="776.00" width="1.4" height="8.50" fill="#e62725"/>
<rect x="470.02" y="765.50" width="1.4" height="19.00" fill="#e62725"/>
<rect x="473.29" y="766.80" width="1.4" height="17.70" fill="#e62725"/>
<rect x="476.56" y="778.10" width="1.4" height="6.40" fill="#e62725"/>
<rect x="479.83" y="761.20" width="1.4" height="23.30" fill="#e62725"/>
<rect x="483.10" y="777.30" width="1.4" height="7.20" fill="#e62725"/>
<rect x="486.37" y="777.10" width="1.4" height="7.40" fill="#e62725"/>
<rect x="489.64" y="780.80" width="1.4" height="3.70" fill="#e62725"/>
<rect x="492.91" y="775.50" width="1.4" height="9.00" fill="#e62725"/>
<rect x="496.18" y="774.80" width="1.4" height="9.70" fill="#e62725"/>
<rect x="499.45" y="774.80" width="1.4" height="9.70" fill="#e62725"/>
<rect x="502.72" y="781.90" width="1.4" height="2.60" fill="#e62725"/>
<rect x="505.99" y="771.60" width="1.4" height="12.90" fill="#e62725"/>
<rect x="509.26" y="779.20" width="1.4" height="5.30" fill="#cbcacb"/>
<rect x="512.53" y="781.90" width="1.4" height="2.60" fill="#cbcacb"/>
<rect x="515.80" y="780.30" width="1.4" height="4.20" fill="#cbcacb"/>
<rect x="519.07" y="779.70" width="1.4" height="4.80" fill="#cbcacb"/>
<rect x="522.34" y="780.80" width="1.4" height="3.70" fill="#cbcacb"/>
<rect x="525.61" y="779.70" width="1.4" height="4.80" fill="#cbcacb"/>
<rect x="528.88" y="781.60" width="1.4" height="2.90" fill="#cbcacb"/>
<rect x="532.15" y="778.70" width="1.4" height="5.80" fill="#cbcacb"/>
<rect x="535.42" y="781.30" width="1.4" height="3.20" fill="#cbcacb"/>
<rect x="538.69" y="780.80" width="1.4" height="3.70" fill="#cbcacb"/>
<rect x="541.96" y="782.40" width="1.4" height="2.10" fill="#cbcacb"/>
<rect x="545.23" y="781.60" width="1.4" height="2.90" fill="#cbcacb"/>
<rect x="548.50" y="780.80" width="1.4" height="3.70" fill="#cbcacb"/>
<rect x="551.77" y="781.90" width="1.4" height="2.60" fill="#cbcacb"/>
<rect x="555.04" y="780.00" width="1.4" height="4.50" fill="#cbcacb"/>
<rect x="558.31" y="781.30" width="1.4" height="3.20" fill="#cbcacb"/>
<rect x="561.58" y="740.00" width="1.4" height="44.50" fill="#a1cf64"/>
<rect x="564.85" y="781.60" width="1.4" height="2.90" fill="#a1cf64"/>
<rect x="568.12" y="764.00" width="1.4" height="20.50" fill="#a1cf64"/>
<rect x="571.39" y="769.10" width="1.4" height="15.40" fill="#a1cf64"/>
<rect x="574.66" y="768.60" width="1.4" height="15.90" fill="#a1cf64"/>
<rect x="577.93" y="782.00" width="1.4" height="2.50" fill="#a1cf64"/>
<rect x="581.20" y="777.00" width="1.4" height="7.50" fill="#a1cf64"/>
<rect x="584.47" y="777.00" width="1.4" height="7.50" fill="#a1cf64"/>
<rect x="587.74" y="769.40" width="1.4" height="15.10" fill="#a1cf64"/>
<rect x="591.01" y="782.50" width="1.4" height="2.00" fill="#a1cf64"/>
<rect x="594.28" y="779.10" width="1.4" height="5.40" fill="#a1cf64"/>
<rect x="597.55" y="777.50" width="1.4" height="7.00" fill="#a1cf64"/>
<rect x="600.82" y="766.90" width="1.4" height="17.60" fill="#a1cf64"/>
<rect x="604.09" y="781.60" width="1.4" height="2.90" fill="#a1cf64"/>
<rect x="607.36" y="777.30" width="1.4" height="7.20" fill="#a1cf64"/>
<rect x="610.63" y="777.00" width="1.4" height="7.50" fill="#a1cf64"/>
<rect x="613.90" y="783.50" width="1.4" height="1.00" fill="#edc8c5"/>
<rect x="617.17" y="783.70" width="1.4" height="0.80" fill="#edc8c5"/>
<rect x="620.44" y="783.50" width="1.4" height="1.00" fill="#edc8c5"/>
<rect x="623.71" y="783.00" width="1.4" height="1.50" fill="#edc8c5"/>
<rect x="626.98" y="783.50" width="1.4" height="1.00" fill="#edc8c5"/>
<rect x="630.25" y="783.70" width="1.4" height="0.80" fill="#edc8c5"/>
<rect x="633.52" y="783.50" width="1.4" height="1.00" fill="#edc8c5"/>
<rect x="636.79" y="783.50" width="1.4" height="1.00" fill="#edc8c5"/>
<rect x="640.06" y="783.70" width="1.4" height="0.80" fill="#edc8c5"/>
<rect x="643.33" y="783.50" width="1.4" height="1.00" fill="#edc8c5"/>
<rect x="646.60" y="783.70" width="1.4" height="0.80" fill="#edc8c5"/>
<rect x="649.87" y="783.50" width="1.4" height="1.00" fill="#edc8c5"/>
<rect x="653.14" y="783.50" width="1.4" height="1.00" fill="#edc8c5"/>
<rect x="656.41" y="783.70" width="1.4" height="0.80" fill="#edc8c5"/>
<rect x="659.68" y="783.50" width="1.4" height="1.00" fill="#edc8c5"/>
<rect x="662.95" y="783.20" width="1.4" height="1.30" fill="#edc8c5"/>
<rect x="352.30" y="721.9" width="49.4" height="3.80" fill="#1ebff0"/>
<text x="377.0" y="719" font-size="7.4" text-anchor="middle" fill="#231f20" stroke="#231f20" stroke-width="0.13" textLength="16.47" lengthAdjust="spacingAndGlyphs" >C &gt; A</text>
<rect x="405.40" y="721.9" width="49.4" height="3.80" fill="#050708"/>
<text x="430.1" y="719" font-size="7.4" text-anchor="middle" fill="#231f20" stroke="#231f20" stroke-width="0.13" textLength="17.58" lengthAdjust="spacingAndGlyphs" >C &gt; G</text>
<rect x="457.40" y="721.9" width="49.4" height="3.80" fill="#e62725"/>
<text x="482.1" y="719" font-size="7.4" text-anchor="middle" fill="#231f20" stroke="#231f20" stroke-width="0.13" textLength="16.35" lengthAdjust="spacingAndGlyphs" >C &gt; T</text>
<rect x="510.00" y="721.9" width="49.4" height="3.80" fill="#cbcacb"/>
<text x="534.7" y="719" font-size="7.4" text-anchor="middle" fill="#231f20" stroke="#231f20" stroke-width="0.13" textLength="15.61" lengthAdjust="spacingAndGlyphs" >T &gt; A</text>
<rect x="562.70" y="721.9" width="49.4" height="3.80" fill="#a1cf64"/>
<text x="587.4" y="719" font-size="7.4" text-anchor="middle" fill="#231f20" stroke="#231f20" stroke-width="0.13" textLength="16.35" lengthAdjust="spacingAndGlyphs" >T &gt; C</text>
<rect x="615.30" y="721.9" width="49.4" height="3.80" fill="#edc8c5"/>
<text x="640.0" y="719" font-size="7.4" text-anchor="middle" fill="#231f20" stroke="#231f20" stroke-width="0.13" textLength="16.72" lengthAdjust="spacingAndGlyphs" >T &gt; G</text>
<text x="353.4" y="734.9" font-size="7.6" text-anchor="start" fill="#231f20" stroke="#231f20" stroke-width="0.13" textLength="21.6" lengthAdjust="spacingAndGlyphs" >SBS92</text>
</svg></body></html>
